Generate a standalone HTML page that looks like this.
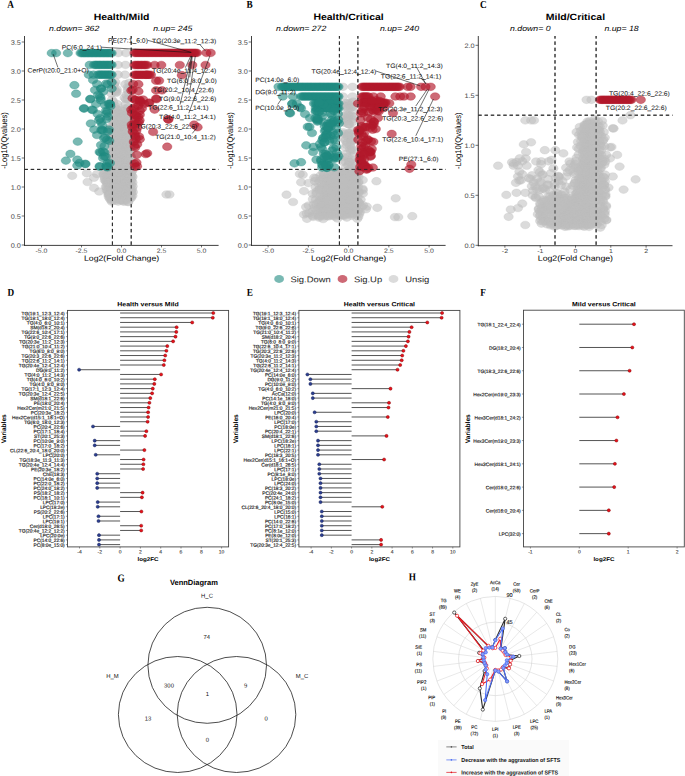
<!DOCTYPE html>
<html><head><meta charset="utf-8"><title>Figure</title>
<style>html,body{margin:0;padding:0;background:#fff;}svg{display:block;text-rendering:geometricPrecision;}</style>
</head><body>
<svg width="685" height="776" viewBox="0 0 685 776">
<rect width="685" height="776" fill="#fff"/>
<line x1="112.40" y1="36.00" x2="112.40" y2="245.00" stroke="#222" stroke-width="0.85" stroke-dasharray="3.4 2.85" stroke-dashoffset="0.8"/>
<line x1="131.20" y1="36.00" x2="131.20" y2="245.00" stroke="#222" stroke-width="0.85" stroke-dasharray="3.4 2.85" stroke-dashoffset="0.8"/>
<line x1="24.50" y1="169.40" x2="218.60" y2="169.40" stroke="#222" stroke-width="0.85" stroke-dasharray="3.4 2.85"/>
<line x1="339.40" y1="36.00" x2="339.40" y2="245.00" stroke="#222" stroke-width="0.85" stroke-dasharray="3.4 2.85" stroke-dashoffset="0.8"/>
<line x1="357.90" y1="36.00" x2="357.90" y2="245.00" stroke="#222" stroke-width="0.85" stroke-dasharray="3.4 2.85" stroke-dashoffset="0.8"/>
<line x1="251.50" y1="169.40" x2="445.60" y2="169.40" stroke="#222" stroke-width="0.85" stroke-dasharray="3.4 2.85"/>
<line x1="555.00" y1="36.00" x2="555.00" y2="245.30" stroke="#222" stroke-width="0.85" stroke-dasharray="3.4 2.85" stroke-dashoffset="0.8"/>
<line x1="596.10" y1="36.00" x2="596.10" y2="245.30" stroke="#222" stroke-width="0.85" stroke-dasharray="3.4 2.85" stroke-dashoffset="0.8"/>
<line x1="478.30" y1="115.20" x2="672.50" y2="115.20" stroke="#222" stroke-width="0.85" stroke-dasharray="3.4 2.85"/>
<g fill="#bdbdbd" fill-opacity="0.55" stroke="#bdbdbd" stroke-opacity="0.55" stroke-width="0.5">
<ellipse cx="118.3" cy="53.1" rx="4.7" ry="3.85"/>
<ellipse cx="125.9" cy="53.1" rx="4.7" ry="3.85"/>
<ellipse cx="118.0" cy="64.9" rx="4.7" ry="3.85"/>
<ellipse cx="125.5" cy="64.9" rx="4.7" ry="3.85"/>
<ellipse cx="118.0" cy="74.7" rx="4.7" ry="3.85"/>
<ellipse cx="125.0" cy="74.7" rx="4.7" ry="3.85"/>
<ellipse cx="72.2" cy="175.8" rx="4.7" ry="3.85"/>
<ellipse cx="86.8" cy="173.3" rx="4.7" ry="3.85"/>
<ellipse cx="87.5" cy="182.0" rx="4.7" ry="3.85"/>
<ellipse cx="94.0" cy="177.7" rx="4.7" ry="3.85"/>
<ellipse cx="94.0" cy="187.9" rx="4.7" ry="3.85"/>
<ellipse cx="99.2" cy="191.5" rx="4.7" ry="3.85"/>
<ellipse cx="97.0" cy="174.0" rx="4.7" ry="3.85"/>
<ellipse cx="166.4" cy="194.5" rx="4.7" ry="3.85"/>
<ellipse cx="169.5" cy="194.5" rx="4.7" ry="3.85"/>
<ellipse cx="111.2" cy="81.2" rx="4.7" ry="3.85"/>
<ellipse cx="114.0" cy="84.4" rx="4.7" ry="3.85"/>
<ellipse cx="115.4" cy="82.0" rx="4.7" ry="3.85"/>
<ellipse cx="113.8" cy="84.2" rx="4.7" ry="3.85"/>
<ellipse cx="114.3" cy="89.3" rx="4.7" ry="3.85"/>
<ellipse cx="116.8" cy="89.2" rx="4.7" ry="3.85"/>
<ellipse cx="115.6" cy="91.2" rx="4.7" ry="3.85"/>
<ellipse cx="116.9" cy="92.0" rx="4.7" ry="3.85"/>
<ellipse cx="111.4" cy="93.5" rx="4.7" ry="3.85"/>
<ellipse cx="115.9" cy="93.0" rx="4.7" ry="3.85"/>
<ellipse cx="112.0" cy="99.7" rx="4.7" ry="3.85"/>
<ellipse cx="113.3" cy="101.8" rx="4.7" ry="3.85"/>
<ellipse cx="117.4" cy="104.1" rx="4.7" ry="3.85"/>
<ellipse cx="111.3" cy="107.4" rx="4.7" ry="3.85"/>
<ellipse cx="115.3" cy="106.1" rx="4.7" ry="3.85"/>
<ellipse cx="115.2" cy="108.0" rx="4.7" ry="3.85"/>
<ellipse cx="117.1" cy="109.7" rx="4.7" ry="3.85"/>
<ellipse cx="113.7" cy="111.1" rx="4.7" ry="3.85"/>
<ellipse cx="112.0" cy="115.6" rx="4.7" ry="3.85"/>
<ellipse cx="113.7" cy="114.6" rx="4.7" ry="3.85"/>
<ellipse cx="116.7" cy="113.0" rx="4.7" ry="3.85"/>
<ellipse cx="112.5" cy="119.9" rx="4.7" ry="3.85"/>
<ellipse cx="113.7" cy="119.3" rx="4.7" ry="3.85"/>
<ellipse cx="118.6" cy="121.6" rx="4.7" ry="3.85"/>
<ellipse cx="125.3" cy="84.2" rx="4.7" ry="3.85"/>
<ellipse cx="129.2" cy="82.8" rx="4.7" ry="3.85"/>
<ellipse cx="127.6" cy="87.3" rx="4.7" ry="3.85"/>
<ellipse cx="129.1" cy="87.6" rx="4.7" ry="3.85"/>
<ellipse cx="127.6" cy="90.4" rx="4.7" ry="3.85"/>
<ellipse cx="126.4" cy="94.9" rx="4.7" ry="3.85"/>
<ellipse cx="128.6" cy="93.2" rx="4.7" ry="3.85"/>
<ellipse cx="124.5" cy="97.8" rx="4.7" ry="3.85"/>
<ellipse cx="125.9" cy="99.2" rx="4.7" ry="3.85"/>
<ellipse cx="127.7" cy="99.3" rx="4.7" ry="3.85"/>
<ellipse cx="125.4" cy="104.4" rx="4.7" ry="3.85"/>
<ellipse cx="128.1" cy="107.3" rx="4.7" ry="3.85"/>
<ellipse cx="125.0" cy="108.6" rx="4.7" ry="3.85"/>
<ellipse cx="127.3" cy="111.6" rx="4.7" ry="3.85"/>
<ellipse cx="126.7" cy="114.7" rx="4.7" ry="3.85"/>
<ellipse cx="123.5" cy="117.6" rx="4.7" ry="3.85"/>
<ellipse cx="127.7" cy="118.3" rx="4.7" ry="3.85"/>
<ellipse cx="126.4" cy="120.7" rx="4.7" ry="3.85"/>
<ellipse cx="114.6" cy="122.9" rx="4.7" ry="3.85"/>
<ellipse cx="124.1" cy="122.6" rx="4.7" ry="3.85"/>
<ellipse cx="125.3" cy="122.4" rx="4.7" ry="3.85"/>
<ellipse cx="127.6" cy="122.8" rx="4.7" ry="3.85"/>
<ellipse cx="113.8" cy="122.8" rx="4.7" ry="3.85"/>
<ellipse cx="115.5" cy="122.8" rx="4.7" ry="3.85"/>
<ellipse cx="118.2" cy="123.9" rx="4.7" ry="3.85"/>
<ellipse cx="121.3" cy="124.4" rx="4.7" ry="3.85"/>
<ellipse cx="121.7" cy="123.4" rx="4.7" ry="3.85"/>
<ellipse cx="125.4" cy="123.4" rx="4.7" ry="3.85"/>
<ellipse cx="127.0" cy="124.7" rx="4.7" ry="3.85"/>
<ellipse cx="129.0" cy="123.1" rx="4.7" ry="3.85"/>
<ellipse cx="111.3" cy="126.4" rx="4.7" ry="3.85"/>
<ellipse cx="115.3" cy="125.6" rx="4.7" ry="3.85"/>
<ellipse cx="116.9" cy="126.6" rx="4.7" ry="3.85"/>
<ellipse cx="118.3" cy="125.7" rx="4.7" ry="3.85"/>
<ellipse cx="120.6" cy="125.0" rx="4.7" ry="3.85"/>
<ellipse cx="123.1" cy="125.3" rx="4.7" ry="3.85"/>
<ellipse cx="126.5" cy="125.2" rx="4.7" ry="3.85"/>
<ellipse cx="127.6" cy="125.4" rx="4.7" ry="3.85"/>
<ellipse cx="111.0" cy="128.2" rx="4.7" ry="3.85"/>
<ellipse cx="113.4" cy="127.9" rx="4.7" ry="3.85"/>
<ellipse cx="115.3" cy="128.2" rx="4.7" ry="3.85"/>
<ellipse cx="118.2" cy="127.3" rx="4.7" ry="3.85"/>
<ellipse cx="119.3" cy="126.8" rx="4.7" ry="3.85"/>
<ellipse cx="123.0" cy="127.0" rx="4.7" ry="3.85"/>
<ellipse cx="124.0" cy="128.2" rx="4.7" ry="3.85"/>
<ellipse cx="127.5" cy="127.1" rx="4.7" ry="3.85"/>
<ellipse cx="129.0" cy="127.4" rx="4.7" ry="3.85"/>
<ellipse cx="112.0" cy="129.3" rx="4.7" ry="3.85"/>
<ellipse cx="113.9" cy="129.4" rx="4.7" ry="3.85"/>
<ellipse cx="116.3" cy="128.5" rx="4.7" ry="3.85"/>
<ellipse cx="118.2" cy="128.4" rx="4.7" ry="3.85"/>
<ellipse cx="120.8" cy="129.5" rx="4.7" ry="3.85"/>
<ellipse cx="124.2" cy="129.7" rx="4.7" ry="3.85"/>
<ellipse cx="126.8" cy="129.1" rx="4.7" ry="3.85"/>
<ellipse cx="129.3" cy="128.6" rx="4.7" ry="3.85"/>
<ellipse cx="111.7" cy="131.8" rx="4.7" ry="3.85"/>
<ellipse cx="113.5" cy="132.0" rx="4.7" ry="3.85"/>
<ellipse cx="116.1" cy="130.6" rx="4.7" ry="3.85"/>
<ellipse cx="117.2" cy="130.9" rx="4.7" ry="3.85"/>
<ellipse cx="120.9" cy="131.3" rx="4.7" ry="3.85"/>
<ellipse cx="122.8" cy="131.6" rx="4.7" ry="3.85"/>
<ellipse cx="123.8" cy="131.8" rx="4.7" ry="3.85"/>
<ellipse cx="127.2" cy="131.3" rx="4.7" ry="3.85"/>
<ellipse cx="128.6" cy="131.7" rx="4.7" ry="3.85"/>
<ellipse cx="112.8" cy="133.3" rx="4.7" ry="3.85"/>
<ellipse cx="113.6" cy="132.3" rx="4.7" ry="3.85"/>
<ellipse cx="117.3" cy="132.6" rx="4.7" ry="3.85"/>
<ellipse cx="118.1" cy="132.1" rx="4.7" ry="3.85"/>
<ellipse cx="121.8" cy="133.4" rx="4.7" ry="3.85"/>
<ellipse cx="123.3" cy="133.1" rx="4.7" ry="3.85"/>
<ellipse cx="125.9" cy="132.3" rx="4.7" ry="3.85"/>
<ellipse cx="127.7" cy="134.0" rx="4.7" ry="3.85"/>
<ellipse cx="129.6" cy="133.0" rx="4.7" ry="3.85"/>
<ellipse cx="111.1" cy="135.8" rx="4.7" ry="3.85"/>
<ellipse cx="114.0" cy="134.9" rx="4.7" ry="3.85"/>
<ellipse cx="116.1" cy="134.3" rx="4.7" ry="3.85"/>
<ellipse cx="117.9" cy="133.9" rx="4.7" ry="3.85"/>
<ellipse cx="120.2" cy="134.8" rx="4.7" ry="3.85"/>
<ellipse cx="121.8" cy="134.6" rx="4.7" ry="3.85"/>
<ellipse cx="125.6" cy="133.8" rx="4.7" ry="3.85"/>
<ellipse cx="127.9" cy="134.1" rx="4.7" ry="3.85"/>
<ellipse cx="129.9" cy="135.7" rx="4.7" ry="3.85"/>
<ellipse cx="111.8" cy="137.6" rx="4.7" ry="3.85"/>
<ellipse cx="114.0" cy="136.7" rx="4.7" ry="3.85"/>
<ellipse cx="116.5" cy="137.7" rx="4.7" ry="3.85"/>
<ellipse cx="119.7" cy="137.0" rx="4.7" ry="3.85"/>
<ellipse cx="122.3" cy="136.8" rx="4.7" ry="3.85"/>
<ellipse cx="122.8" cy="137.2" rx="4.7" ry="3.85"/>
<ellipse cx="126.5" cy="137.0" rx="4.7" ry="3.85"/>
<ellipse cx="127.4" cy="137.6" rx="4.7" ry="3.85"/>
<ellipse cx="112.7" cy="139.4" rx="4.7" ry="3.85"/>
<ellipse cx="115.1" cy="139.4" rx="4.7" ry="3.85"/>
<ellipse cx="117.8" cy="137.8" rx="4.7" ry="3.85"/>
<ellipse cx="119.4" cy="138.2" rx="4.7" ry="3.85"/>
<ellipse cx="122.0" cy="138.1" rx="4.7" ry="3.85"/>
<ellipse cx="125.7" cy="139.1" rx="4.7" ry="3.85"/>
<ellipse cx="127.0" cy="138.6" rx="4.7" ry="3.85"/>
<ellipse cx="129.1" cy="137.7" rx="4.7" ry="3.85"/>
<ellipse cx="113.1" cy="141.1" rx="4.7" ry="3.85"/>
<ellipse cx="113.5" cy="139.4" rx="4.7" ry="3.85"/>
<ellipse cx="117.6" cy="140.3" rx="4.7" ry="3.85"/>
<ellipse cx="118.1" cy="140.2" rx="4.7" ry="3.85"/>
<ellipse cx="122.1" cy="141.1" rx="4.7" ry="3.85"/>
<ellipse cx="123.2" cy="139.6" rx="4.7" ry="3.85"/>
<ellipse cx="126.0" cy="140.8" rx="4.7" ry="3.85"/>
<ellipse cx="128.8" cy="140.7" rx="4.7" ry="3.85"/>
<ellipse cx="130.5" cy="140.5" rx="4.7" ry="3.85"/>
<ellipse cx="111.5" cy="141.4" rx="4.7" ry="3.85"/>
<ellipse cx="113.4" cy="142.4" rx="4.7" ry="3.85"/>
<ellipse cx="115.1" cy="142.4" rx="4.7" ry="3.85"/>
<ellipse cx="117.5" cy="142.2" rx="4.7" ry="3.85"/>
<ellipse cx="120.5" cy="143.0" rx="4.7" ry="3.85"/>
<ellipse cx="122.0" cy="141.7" rx="4.7" ry="3.85"/>
<ellipse cx="125.3" cy="141.8" rx="4.7" ry="3.85"/>
<ellipse cx="127.1" cy="142.6" rx="4.7" ry="3.85"/>
<ellipse cx="128.9" cy="142.6" rx="4.7" ry="3.85"/>
<ellipse cx="113.2" cy="143.7" rx="4.7" ry="3.85"/>
<ellipse cx="113.9" cy="143.5" rx="4.7" ry="3.85"/>
<ellipse cx="116.4" cy="145.0" rx="4.7" ry="3.85"/>
<ellipse cx="118.5" cy="143.5" rx="4.7" ry="3.85"/>
<ellipse cx="121.7" cy="145.0" rx="4.7" ry="3.85"/>
<ellipse cx="123.5" cy="143.5" rx="4.7" ry="3.85"/>
<ellipse cx="125.3" cy="143.2" rx="4.7" ry="3.85"/>
<ellipse cx="128.1" cy="144.9" rx="4.7" ry="3.85"/>
<ellipse cx="112.7" cy="144.9" rx="4.7" ry="3.85"/>
<ellipse cx="115.3" cy="146.9" rx="4.7" ry="3.85"/>
<ellipse cx="118.9" cy="145.3" rx="4.7" ry="3.85"/>
<ellipse cx="120.9" cy="146.6" rx="4.7" ry="3.85"/>
<ellipse cx="121.6" cy="145.9" rx="4.7" ry="3.85"/>
<ellipse cx="125.7" cy="145.3" rx="4.7" ry="3.85"/>
<ellipse cx="128.0" cy="144.9" rx="4.7" ry="3.85"/>
<ellipse cx="130.1" cy="146.5" rx="4.7" ry="3.85"/>
<ellipse cx="130.8" cy="145.0" rx="4.7" ry="3.85"/>
<ellipse cx="112.6" cy="147.4" rx="4.7" ry="3.85"/>
<ellipse cx="113.5" cy="148.3" rx="4.7" ry="3.85"/>
<ellipse cx="117.1" cy="148.7" rx="4.7" ry="3.85"/>
<ellipse cx="118.5" cy="147.7" rx="4.7" ry="3.85"/>
<ellipse cx="122.3" cy="147.5" rx="4.7" ry="3.85"/>
<ellipse cx="123.6" cy="147.7" rx="4.7" ry="3.85"/>
<ellipse cx="125.3" cy="148.4" rx="4.7" ry="3.85"/>
<ellipse cx="129.0" cy="148.3" rx="4.7" ry="3.85"/>
<ellipse cx="130.2" cy="147.4" rx="4.7" ry="3.85"/>
<ellipse cx="114.1" cy="150.6" rx="4.7" ry="3.85"/>
<ellipse cx="114.8" cy="148.8" rx="4.7" ry="3.85"/>
<ellipse cx="118.4" cy="149.5" rx="4.7" ry="3.85"/>
<ellipse cx="120.1" cy="149.8" rx="4.7" ry="3.85"/>
<ellipse cx="123.1" cy="150.3" rx="4.7" ry="3.85"/>
<ellipse cx="124.1" cy="150.3" rx="4.7" ry="3.85"/>
<ellipse cx="127.3" cy="149.3" rx="4.7" ry="3.85"/>
<ellipse cx="128.8" cy="149.1" rx="4.7" ry="3.85"/>
<ellipse cx="131.0" cy="150.4" rx="4.7" ry="3.85"/>
<ellipse cx="111.4" cy="151.4" rx="4.7" ry="3.85"/>
<ellipse cx="115.2" cy="152.3" rx="4.7" ry="3.85"/>
<ellipse cx="116.4" cy="150.7" rx="4.7" ry="3.85"/>
<ellipse cx="120.1" cy="151.6" rx="4.7" ry="3.85"/>
<ellipse cx="121.1" cy="152.2" rx="4.7" ry="3.85"/>
<ellipse cx="123.2" cy="152.0" rx="4.7" ry="3.85"/>
<ellipse cx="125.2" cy="151.6" rx="4.7" ry="3.85"/>
<ellipse cx="127.7" cy="151.2" rx="4.7" ry="3.85"/>
<ellipse cx="130.0" cy="150.9" rx="4.7" ry="3.85"/>
<ellipse cx="111.7" cy="153.4" rx="4.7" ry="3.85"/>
<ellipse cx="112.5" cy="153.1" rx="4.7" ry="3.85"/>
<ellipse cx="115.9" cy="152.4" rx="4.7" ry="3.85"/>
<ellipse cx="118.4" cy="153.1" rx="4.7" ry="3.85"/>
<ellipse cx="119.9" cy="154.2" rx="4.7" ry="3.85"/>
<ellipse cx="122.7" cy="153.0" rx="4.7" ry="3.85"/>
<ellipse cx="125.6" cy="154.3" rx="4.7" ry="3.85"/>
<ellipse cx="126.5" cy="153.8" rx="4.7" ry="3.85"/>
<ellipse cx="128.4" cy="154.1" rx="4.7" ry="3.85"/>
<ellipse cx="112.5" cy="154.9" rx="4.7" ry="3.85"/>
<ellipse cx="113.8" cy="154.7" rx="4.7" ry="3.85"/>
<ellipse cx="117.7" cy="154.3" rx="4.7" ry="3.85"/>
<ellipse cx="119.7" cy="156.1" rx="4.7" ry="3.85"/>
<ellipse cx="120.6" cy="156.0" rx="4.7" ry="3.85"/>
<ellipse cx="123.7" cy="154.2" rx="4.7" ry="3.85"/>
<ellipse cx="125.8" cy="156.0" rx="4.7" ry="3.85"/>
<ellipse cx="129.0" cy="154.4" rx="4.7" ry="3.85"/>
<ellipse cx="130.0" cy="154.9" rx="4.7" ry="3.85"/>
<ellipse cx="111.5" cy="157.8" rx="4.7" ry="3.85"/>
<ellipse cx="113.5" cy="157.5" rx="4.7" ry="3.85"/>
<ellipse cx="116.4" cy="156.2" rx="4.7" ry="3.85"/>
<ellipse cx="118.1" cy="157.2" rx="4.7" ry="3.85"/>
<ellipse cx="120.1" cy="157.1" rx="4.7" ry="3.85"/>
<ellipse cx="122.9" cy="156.8" rx="4.7" ry="3.85"/>
<ellipse cx="123.9" cy="157.2" rx="4.7" ry="3.85"/>
<ellipse cx="126.6" cy="157.5" rx="4.7" ry="3.85"/>
<ellipse cx="129.4" cy="156.3" rx="4.7" ry="3.85"/>
<ellipse cx="130.9" cy="156.2" rx="4.7" ry="3.85"/>
<ellipse cx="112.2" cy="157.9" rx="4.7" ry="3.85"/>
<ellipse cx="114.2" cy="159.7" rx="4.7" ry="3.85"/>
<ellipse cx="117.5" cy="159.8" rx="4.7" ry="3.85"/>
<ellipse cx="119.8" cy="158.2" rx="4.7" ry="3.85"/>
<ellipse cx="121.4" cy="159.7" rx="4.7" ry="3.85"/>
<ellipse cx="123.0" cy="159.4" rx="4.7" ry="3.85"/>
<ellipse cx="125.1" cy="158.5" rx="4.7" ry="3.85"/>
<ellipse cx="127.6" cy="159.6" rx="4.7" ry="3.85"/>
<ellipse cx="131.3" cy="158.1" rx="4.7" ry="3.85"/>
<ellipse cx="112.0" cy="161.0" rx="4.7" ry="3.85"/>
<ellipse cx="112.7" cy="161.2" rx="4.7" ry="3.85"/>
<ellipse cx="115.7" cy="160.9" rx="4.7" ry="3.85"/>
<ellipse cx="118.7" cy="160.8" rx="4.7" ry="3.85"/>
<ellipse cx="121.0" cy="159.8" rx="4.7" ry="3.85"/>
<ellipse cx="122.8" cy="160.4" rx="4.7" ry="3.85"/>
<ellipse cx="124.4" cy="161.7" rx="4.7" ry="3.85"/>
<ellipse cx="126.9" cy="161.2" rx="4.7" ry="3.85"/>
<ellipse cx="128.8" cy="161.1" rx="4.7" ry="3.85"/>
<ellipse cx="112.4" cy="162.3" rx="4.7" ry="3.85"/>
<ellipse cx="115.3" cy="161.7" rx="4.7" ry="3.85"/>
<ellipse cx="117.1" cy="161.5" rx="4.7" ry="3.85"/>
<ellipse cx="118.8" cy="161.7" rx="4.7" ry="3.85"/>
<ellipse cx="120.8" cy="162.7" rx="4.7" ry="3.85"/>
<ellipse cx="123.1" cy="162.7" rx="4.7" ry="3.85"/>
<ellipse cx="125.2" cy="163.4" rx="4.7" ry="3.85"/>
<ellipse cx="127.6" cy="161.6" rx="4.7" ry="3.85"/>
<ellipse cx="131.4" cy="163.1" rx="4.7" ry="3.85"/>
<ellipse cx="111.5" cy="163.8" rx="4.7" ry="3.85"/>
<ellipse cx="112.4" cy="164.4" rx="4.7" ry="3.85"/>
<ellipse cx="115.1" cy="163.4" rx="4.7" ry="3.85"/>
<ellipse cx="116.9" cy="164.4" rx="4.7" ry="3.85"/>
<ellipse cx="119.5" cy="163.7" rx="4.7" ry="3.85"/>
<ellipse cx="122.6" cy="164.6" rx="4.7" ry="3.85"/>
<ellipse cx="124.2" cy="163.9" rx="4.7" ry="3.85"/>
<ellipse cx="126.2" cy="165.1" rx="4.7" ry="3.85"/>
<ellipse cx="129.9" cy="163.3" rx="4.7" ry="3.85"/>
<ellipse cx="132.3" cy="164.2" rx="4.7" ry="3.85"/>
<ellipse cx="112.9" cy="166.6" rx="4.7" ry="3.85"/>
<ellipse cx="114.6" cy="166.0" rx="4.7" ry="3.85"/>
<ellipse cx="116.8" cy="165.7" rx="4.7" ry="3.85"/>
<ellipse cx="120.1" cy="165.6" rx="4.7" ry="3.85"/>
<ellipse cx="120.4" cy="165.7" rx="4.7" ry="3.85"/>
<ellipse cx="124.2" cy="167.1" rx="4.7" ry="3.85"/>
<ellipse cx="125.6" cy="166.9" rx="4.7" ry="3.85"/>
<ellipse cx="127.8" cy="167.0" rx="4.7" ry="3.85"/>
<ellipse cx="131.0" cy="166.5" rx="4.7" ry="3.85"/>
<ellipse cx="112.5" cy="168.9" rx="4.7" ry="3.85"/>
<ellipse cx="114.7" cy="167.2" rx="4.7" ry="3.85"/>
<ellipse cx="117.6" cy="167.3" rx="4.7" ry="3.85"/>
<ellipse cx="119.3" cy="168.4" rx="4.7" ry="3.85"/>
<ellipse cx="123.0" cy="168.5" rx="4.7" ry="3.85"/>
<ellipse cx="125.0" cy="167.7" rx="4.7" ry="3.85"/>
<ellipse cx="127.8" cy="168.8" rx="4.7" ry="3.85"/>
<ellipse cx="130.2" cy="168.9" rx="4.7" ry="3.85"/>
<ellipse cx="130.9" cy="167.4" rx="4.7" ry="3.85"/>
<ellipse cx="108.3" cy="170.1" rx="4.7" ry="3.85"/>
<ellipse cx="112.7" cy="169.2" rx="4.7" ry="3.85"/>
<ellipse cx="114.3" cy="168.8" rx="4.7" ry="3.85"/>
<ellipse cx="116.3" cy="170.3" rx="4.7" ry="3.85"/>
<ellipse cx="118.7" cy="170.8" rx="4.7" ry="3.85"/>
<ellipse cx="122.1" cy="170.1" rx="4.7" ry="3.85"/>
<ellipse cx="123.5" cy="169.7" rx="4.7" ry="3.85"/>
<ellipse cx="125.7" cy="170.3" rx="4.7" ry="3.85"/>
<ellipse cx="127.7" cy="170.6" rx="4.7" ry="3.85"/>
<ellipse cx="131.3" cy="169.2" rx="4.7" ry="3.85"/>
<ellipse cx="132.3" cy="170.4" rx="4.7" ry="3.85"/>
<ellipse cx="106.4" cy="172.3" rx="4.7" ry="3.85"/>
<ellipse cx="108.7" cy="171.4" rx="4.7" ry="3.85"/>
<ellipse cx="110.6" cy="172.6" rx="4.7" ry="3.85"/>
<ellipse cx="112.8" cy="172.1" rx="4.7" ry="3.85"/>
<ellipse cx="114.8" cy="172.0" rx="4.7" ry="3.85"/>
<ellipse cx="118.5" cy="172.1" rx="4.7" ry="3.85"/>
<ellipse cx="120.5" cy="171.4" rx="4.7" ry="3.85"/>
<ellipse cx="122.3" cy="172.5" rx="4.7" ry="3.85"/>
<ellipse cx="125.7" cy="170.7" rx="4.7" ry="3.85"/>
<ellipse cx="126.7" cy="172.5" rx="4.7" ry="3.85"/>
<ellipse cx="129.2" cy="172.5" rx="4.7" ry="3.85"/>
<ellipse cx="131.7" cy="171.7" rx="4.7" ry="3.85"/>
<ellipse cx="103.5" cy="173.8" rx="4.7" ry="3.85"/>
<ellipse cx="104.9" cy="172.8" rx="4.7" ry="3.85"/>
<ellipse cx="107.9" cy="174.0" rx="4.7" ry="3.85"/>
<ellipse cx="109.8" cy="174.1" rx="4.7" ry="3.85"/>
<ellipse cx="111.4" cy="173.4" rx="4.7" ry="3.85"/>
<ellipse cx="114.0" cy="172.9" rx="4.7" ry="3.85"/>
<ellipse cx="117.2" cy="174.2" rx="4.7" ry="3.85"/>
<ellipse cx="118.4" cy="173.0" rx="4.7" ry="3.85"/>
<ellipse cx="121.4" cy="172.8" rx="4.7" ry="3.85"/>
<ellipse cx="123.1" cy="174.5" rx="4.7" ry="3.85"/>
<ellipse cx="125.2" cy="174.5" rx="4.7" ry="3.85"/>
<ellipse cx="128.1" cy="174.5" rx="4.7" ry="3.85"/>
<ellipse cx="131.1" cy="173.4" rx="4.7" ry="3.85"/>
<ellipse cx="103.5" cy="175.1" rx="4.7" ry="3.85"/>
<ellipse cx="106.2" cy="176.0" rx="4.7" ry="3.85"/>
<ellipse cx="108.8" cy="175.6" rx="4.7" ry="3.85"/>
<ellipse cx="110.3" cy="175.6" rx="4.7" ry="3.85"/>
<ellipse cx="113.8" cy="176.2" rx="4.7" ry="3.85"/>
<ellipse cx="115.8" cy="175.9" rx="4.7" ry="3.85"/>
<ellipse cx="117.4" cy="175.8" rx="4.7" ry="3.85"/>
<ellipse cx="120.8" cy="175.8" rx="4.7" ry="3.85"/>
<ellipse cx="122.9" cy="175.7" rx="4.7" ry="3.85"/>
<ellipse cx="124.5" cy="175.6" rx="4.7" ry="3.85"/>
<ellipse cx="127.0" cy="175.9" rx="4.7" ry="3.85"/>
<ellipse cx="129.7" cy="174.8" rx="4.7" ry="3.85"/>
<ellipse cx="131.7" cy="175.6" rx="4.7" ry="3.85"/>
<ellipse cx="104.6" cy="177.5" rx="4.7" ry="3.85"/>
<ellipse cx="107.4" cy="177.2" rx="4.7" ry="3.85"/>
<ellipse cx="108.9" cy="177.3" rx="4.7" ry="3.85"/>
<ellipse cx="112.8" cy="178.1" rx="4.7" ry="3.85"/>
<ellipse cx="113.7" cy="177.4" rx="4.7" ry="3.85"/>
<ellipse cx="117.2" cy="177.2" rx="4.7" ry="3.85"/>
<ellipse cx="119.8" cy="177.2" rx="4.7" ry="3.85"/>
<ellipse cx="122.3" cy="176.6" rx="4.7" ry="3.85"/>
<ellipse cx="123.5" cy="177.7" rx="4.7" ry="3.85"/>
<ellipse cx="127.0" cy="176.9" rx="4.7" ry="3.85"/>
<ellipse cx="127.8" cy="177.0" rx="4.7" ry="3.85"/>
<ellipse cx="130.4" cy="177.0" rx="4.7" ry="3.85"/>
<ellipse cx="132.6" cy="176.7" rx="4.7" ry="3.85"/>
<ellipse cx="104.6" cy="180.0" rx="4.7" ry="3.85"/>
<ellipse cx="105.9" cy="179.7" rx="4.7" ry="3.85"/>
<ellipse cx="108.2" cy="178.3" rx="4.7" ry="3.85"/>
<ellipse cx="111.7" cy="179.3" rx="4.7" ry="3.85"/>
<ellipse cx="113.5" cy="178.5" rx="4.7" ry="3.85"/>
<ellipse cx="115.3" cy="179.3" rx="4.7" ry="3.85"/>
<ellipse cx="118.6" cy="179.0" rx="4.7" ry="3.85"/>
<ellipse cx="120.3" cy="178.3" rx="4.7" ry="3.85"/>
<ellipse cx="122.2" cy="179.8" rx="4.7" ry="3.85"/>
<ellipse cx="124.6" cy="178.5" rx="4.7" ry="3.85"/>
<ellipse cx="126.5" cy="178.0" rx="4.7" ry="3.85"/>
<ellipse cx="129.0" cy="178.5" rx="4.7" ry="3.85"/>
<ellipse cx="131.7" cy="178.9" rx="4.7" ry="3.85"/>
<ellipse cx="106.2" cy="181.6" rx="4.7" ry="3.85"/>
<ellipse cx="108.3" cy="181.7" rx="4.7" ry="3.85"/>
<ellipse cx="109.2" cy="181.6" rx="4.7" ry="3.85"/>
<ellipse cx="111.2" cy="179.9" rx="4.7" ry="3.85"/>
<ellipse cx="114.8" cy="180.4" rx="4.7" ry="3.85"/>
<ellipse cx="116.1" cy="180.3" rx="4.7" ry="3.85"/>
<ellipse cx="118.8" cy="180.2" rx="4.7" ry="3.85"/>
<ellipse cx="122.0" cy="180.2" rx="4.7" ry="3.85"/>
<ellipse cx="123.9" cy="181.5" rx="4.7" ry="3.85"/>
<ellipse cx="126.8" cy="181.5" rx="4.7" ry="3.85"/>
<ellipse cx="127.7" cy="181.3" rx="4.7" ry="3.85"/>
<ellipse cx="131.1" cy="180.8" rx="4.7" ry="3.85"/>
<ellipse cx="106.4" cy="181.8" rx="4.7" ry="3.85"/>
<ellipse cx="108.0" cy="182.7" rx="4.7" ry="3.85"/>
<ellipse cx="111.1" cy="183.5" rx="4.7" ry="3.85"/>
<ellipse cx="114.1" cy="182.7" rx="4.7" ry="3.85"/>
<ellipse cx="116.0" cy="183.4" rx="4.7" ry="3.85"/>
<ellipse cx="117.8" cy="183.7" rx="4.7" ry="3.85"/>
<ellipse cx="120.5" cy="183.0" rx="4.7" ry="3.85"/>
<ellipse cx="122.8" cy="183.1" rx="4.7" ry="3.85"/>
<ellipse cx="124.5" cy="183.7" rx="4.7" ry="3.85"/>
<ellipse cx="127.1" cy="183.5" rx="4.7" ry="3.85"/>
<ellipse cx="129.9" cy="183.0" rx="4.7" ry="3.85"/>
<ellipse cx="132.5" cy="182.4" rx="4.7" ry="3.85"/>
<ellipse cx="107.4" cy="184.7" rx="4.7" ry="3.85"/>
<ellipse cx="109.5" cy="185.2" rx="4.7" ry="3.85"/>
<ellipse cx="112.2" cy="184.1" rx="4.7" ry="3.85"/>
<ellipse cx="115.5" cy="184.9" rx="4.7" ry="3.85"/>
<ellipse cx="116.4" cy="184.2" rx="4.7" ry="3.85"/>
<ellipse cx="119.3" cy="184.8" rx="4.7" ry="3.85"/>
<ellipse cx="120.4" cy="185.0" rx="4.7" ry="3.85"/>
<ellipse cx="123.8" cy="183.6" rx="4.7" ry="3.85"/>
<ellipse cx="125.0" cy="183.9" rx="4.7" ry="3.85"/>
<ellipse cx="128.5" cy="184.9" rx="4.7" ry="3.85"/>
<ellipse cx="131.4" cy="184.8" rx="4.7" ry="3.85"/>
<ellipse cx="105.9" cy="186.7" rx="4.7" ry="3.85"/>
<ellipse cx="109.3" cy="185.6" rx="4.7" ry="3.85"/>
<ellipse cx="110.1" cy="187.0" rx="4.7" ry="3.85"/>
<ellipse cx="113.7" cy="186.1" rx="4.7" ry="3.85"/>
<ellipse cx="116.2" cy="186.5" rx="4.7" ry="3.85"/>
<ellipse cx="117.5" cy="186.2" rx="4.7" ry="3.85"/>
<ellipse cx="120.1" cy="186.7" rx="4.7" ry="3.85"/>
<ellipse cx="121.6" cy="186.5" rx="4.7" ry="3.85"/>
<ellipse cx="124.1" cy="187.0" rx="4.7" ry="3.85"/>
<ellipse cx="128.0" cy="186.3" rx="4.7" ry="3.85"/>
<ellipse cx="129.2" cy="186.6" rx="4.7" ry="3.85"/>
<ellipse cx="132.7" cy="186.3" rx="4.7" ry="3.85"/>
<ellipse cx="106.6" cy="187.2" rx="4.7" ry="3.85"/>
<ellipse cx="109.1" cy="189.2" rx="4.7" ry="3.85"/>
<ellipse cx="113.0" cy="187.5" rx="4.7" ry="3.85"/>
<ellipse cx="115.0" cy="187.7" rx="4.7" ry="3.85"/>
<ellipse cx="116.2" cy="187.3" rx="4.7" ry="3.85"/>
<ellipse cx="119.5" cy="189.0" rx="4.7" ry="3.85"/>
<ellipse cx="120.5" cy="188.5" rx="4.7" ry="3.85"/>
<ellipse cx="123.6" cy="189.1" rx="4.7" ry="3.85"/>
<ellipse cx="127.0" cy="188.7" rx="4.7" ry="3.85"/>
<ellipse cx="127.3" cy="188.6" rx="4.7" ry="3.85"/>
<ellipse cx="129.7" cy="187.8" rx="4.7" ry="3.85"/>
<ellipse cx="132.2" cy="189.0" rx="4.7" ry="3.85"/>
<ellipse cx="106.6" cy="190.0" rx="4.7" ry="3.85"/>
<ellipse cx="108.0" cy="190.7" rx="4.7" ry="3.85"/>
<ellipse cx="111.3" cy="190.3" rx="4.7" ry="3.85"/>
<ellipse cx="113.1" cy="190.7" rx="4.7" ry="3.85"/>
<ellipse cx="116.2" cy="190.2" rx="4.7" ry="3.85"/>
<ellipse cx="117.0" cy="191.1" rx="4.7" ry="3.85"/>
<ellipse cx="120.9" cy="189.7" rx="4.7" ry="3.85"/>
<ellipse cx="123.5" cy="190.8" rx="4.7" ry="3.85"/>
<ellipse cx="124.5" cy="189.9" rx="4.7" ry="3.85"/>
<ellipse cx="126.9" cy="190.5" rx="4.7" ry="3.85"/>
<ellipse cx="130.3" cy="190.7" rx="4.7" ry="3.85"/>
<ellipse cx="130.7" cy="189.6" rx="4.7" ry="3.85"/>
<ellipse cx="108.3" cy="192.6" rx="4.7" ry="3.85"/>
<ellipse cx="110.0" cy="191.5" rx="4.7" ry="3.85"/>
<ellipse cx="112.8" cy="192.3" rx="4.7" ry="3.85"/>
<ellipse cx="114.2" cy="191.1" rx="4.7" ry="3.85"/>
<ellipse cx="117.4" cy="191.3" rx="4.7" ry="3.85"/>
<ellipse cx="120.0" cy="191.4" rx="4.7" ry="3.85"/>
<ellipse cx="121.8" cy="191.8" rx="4.7" ry="3.85"/>
<ellipse cx="123.2" cy="192.4" rx="4.7" ry="3.85"/>
<ellipse cx="125.9" cy="191.1" rx="4.7" ry="3.85"/>
<ellipse cx="128.9" cy="191.4" rx="4.7" ry="3.85"/>
<ellipse cx="131.4" cy="192.7" rx="4.7" ry="3.85"/>
<ellipse cx="132.9" cy="192.1" rx="4.7" ry="3.85"/>
<ellipse cx="108.9" cy="193.6" rx="4.7" ry="3.85"/>
<ellipse cx="110.3" cy="192.8" rx="4.7" ry="3.85"/>
<ellipse cx="113.1" cy="192.9" rx="4.7" ry="3.85"/>
<ellipse cx="116.2" cy="193.0" rx="4.7" ry="3.85"/>
<ellipse cx="117.6" cy="193.8" rx="4.7" ry="3.85"/>
<ellipse cx="119.3" cy="194.8" rx="4.7" ry="3.85"/>
<ellipse cx="122.5" cy="193.9" rx="4.7" ry="3.85"/>
<ellipse cx="125.4" cy="193.6" rx="4.7" ry="3.85"/>
<ellipse cx="127.7" cy="194.4" rx="4.7" ry="3.85"/>
<ellipse cx="128.9" cy="192.8" rx="4.7" ry="3.85"/>
<ellipse cx="131.1" cy="192.9" rx="4.7" ry="3.85"/>
<ellipse cx="108.4" cy="194.7" rx="4.7" ry="3.85"/>
<ellipse cx="109.7" cy="194.8" rx="4.7" ry="3.85"/>
<ellipse cx="111.7" cy="195.7" rx="4.7" ry="3.85"/>
<ellipse cx="115.4" cy="196.0" rx="4.7" ry="3.85"/>
<ellipse cx="116.7" cy="194.9" rx="4.7" ry="3.85"/>
<ellipse cx="120.1" cy="195.0" rx="4.7" ry="3.85"/>
<ellipse cx="120.9" cy="195.3" rx="4.7" ry="3.85"/>
<ellipse cx="124.5" cy="196.3" rx="4.7" ry="3.85"/>
<ellipse cx="126.6" cy="196.0" rx="4.7" ry="3.85"/>
<ellipse cx="129.3" cy="194.7" rx="4.7" ry="3.85"/>
<ellipse cx="131.1" cy="196.5" rx="4.7" ry="3.85"/>
<ellipse cx="132.5" cy="195.8" rx="4.7" ry="3.85"/>
<ellipse cx="108.7" cy="196.8" rx="4.7" ry="3.85"/>
<ellipse cx="110.3" cy="197.8" rx="4.7" ry="3.85"/>
<ellipse cx="113.8" cy="196.8" rx="4.7" ry="3.85"/>
<ellipse cx="116.5" cy="196.9" rx="4.7" ry="3.85"/>
<ellipse cx="118.7" cy="198.2" rx="4.7" ry="3.85"/>
<ellipse cx="120.1" cy="196.6" rx="4.7" ry="3.85"/>
<ellipse cx="123.3" cy="197.7" rx="4.7" ry="3.85"/>
<ellipse cx="124.5" cy="198.1" rx="4.7" ry="3.85"/>
<ellipse cx="127.4" cy="196.7" rx="4.7" ry="3.85"/>
<ellipse cx="128.5" cy="197.9" rx="4.7" ry="3.85"/>
<ellipse cx="131.0" cy="198.2" rx="4.7" ry="3.85"/>
<ellipse cx="109.9" cy="198.9" rx="4.7" ry="3.85"/>
<ellipse cx="111.4" cy="200.3" rx="4.7" ry="3.85"/>
<ellipse cx="115.3" cy="199.6" rx="4.7" ry="3.85"/>
<ellipse cx="116.8" cy="198.8" rx="4.7" ry="3.85"/>
<ellipse cx="118.5" cy="199.0" rx="4.7" ry="3.85"/>
<ellipse cx="122.4" cy="200.2" rx="4.7" ry="3.85"/>
<ellipse cx="123.3" cy="200.1" rx="4.7" ry="3.85"/>
<ellipse cx="126.5" cy="198.9" rx="4.7" ry="3.85"/>
<ellipse cx="127.3" cy="199.9" rx="4.7" ry="3.85"/>
<ellipse cx="129.9" cy="198.2" rx="4.7" ry="3.85"/>
<ellipse cx="111.6" cy="201.6" rx="4.7" ry="3.85"/>
<ellipse cx="112.5" cy="200.3" rx="4.7" ry="3.85"/>
<ellipse cx="115.6" cy="200.7" rx="4.7" ry="3.85"/>
<ellipse cx="118.2" cy="201.6" rx="4.7" ry="3.85"/>
<ellipse cx="120.4" cy="200.5" rx="4.7" ry="3.85"/>
<ellipse cx="123.0" cy="200.9" rx="4.7" ry="3.85"/>
<ellipse cx="123.9" cy="201.8" rx="4.7" ry="3.85"/>
<ellipse cx="127.9" cy="201.9" rx="4.7" ry="3.85"/>
<ellipse cx="128.4" cy="202.0" rx="4.7" ry="3.85"/>
<ellipse cx="120.7" cy="110.3" rx="4.7" ry="3.85"/>
<ellipse cx="117.1" cy="113.3" rx="4.7" ry="3.85"/>
<ellipse cx="119.0" cy="113.0" rx="4.7" ry="3.85"/>
<ellipse cx="123.2" cy="111.2" rx="4.7" ry="3.85"/>
<ellipse cx="118.1" cy="113.5" rx="4.7" ry="3.85"/>
<ellipse cx="120.3" cy="113.9" rx="4.7" ry="3.85"/>
<ellipse cx="123.3" cy="115.7" rx="4.7" ry="3.85"/>
<ellipse cx="119.8" cy="117.4" rx="4.7" ry="3.85"/>
<ellipse cx="123.0" cy="116.1" rx="4.7" ry="3.85"/>
<ellipse cx="118.0" cy="119.0" rx="4.7" ry="3.85"/>
<ellipse cx="120.7" cy="118.6" rx="4.7" ry="3.85"/>
<ellipse cx="125.0" cy="118.6" rx="4.7" ry="3.85"/>
</g>
<g fill="#1f8a80" fill-opacity="0.6" stroke="#1f8a80" stroke-opacity="0.6" stroke-width="0.5">
<ellipse cx="80.5" cy="53.1" rx="4.7" ry="3.85"/>
<ellipse cx="81.9" cy="53.1" rx="4.7" ry="3.85"/>
<ellipse cx="83.2" cy="53.1" rx="4.7" ry="3.85"/>
<ellipse cx="84.6" cy="53.1" rx="4.7" ry="3.85"/>
<ellipse cx="85.9" cy="53.1" rx="4.7" ry="3.85"/>
<ellipse cx="87.3" cy="53.1" rx="4.7" ry="3.85"/>
<ellipse cx="88.6" cy="53.1" rx="4.7" ry="3.85"/>
<ellipse cx="90.0" cy="53.1" rx="4.7" ry="3.85"/>
<ellipse cx="91.3" cy="53.1" rx="4.7" ry="3.85"/>
<ellipse cx="92.7" cy="53.1" rx="4.7" ry="3.85"/>
<ellipse cx="94.0" cy="53.1" rx="4.7" ry="3.85"/>
<ellipse cx="95.4" cy="53.1" rx="4.7" ry="3.85"/>
<ellipse cx="96.7" cy="53.1" rx="4.7" ry="3.85"/>
<ellipse cx="98.1" cy="53.1" rx="4.7" ry="3.85"/>
<ellipse cx="99.4" cy="53.1" rx="4.7" ry="3.85"/>
<ellipse cx="100.8" cy="53.1" rx="4.7" ry="3.85"/>
<ellipse cx="102.1" cy="53.1" rx="4.7" ry="3.85"/>
<ellipse cx="103.5" cy="53.1" rx="4.7" ry="3.85"/>
<ellipse cx="104.8" cy="53.1" rx="4.7" ry="3.85"/>
<ellipse cx="106.2" cy="53.1" rx="4.7" ry="3.85"/>
<ellipse cx="107.5" cy="53.1" rx="4.7" ry="3.85"/>
<ellipse cx="108.9" cy="53.1" rx="4.7" ry="3.85"/>
<ellipse cx="110.2" cy="53.1" rx="4.7" ry="3.85"/>
<ellipse cx="111.6" cy="53.1" rx="4.7" ry="3.85"/>
<ellipse cx="51.7" cy="53.1" rx="4.7" ry="3.85"/>
<ellipse cx="56.1" cy="53.1" rx="4.7" ry="3.85"/>
<ellipse cx="67.8" cy="53.1" rx="4.7" ry="3.85"/>
<ellipse cx="94.0" cy="64.9" rx="4.7" ry="3.85"/>
<ellipse cx="95.4" cy="64.9" rx="4.7" ry="3.85"/>
<ellipse cx="96.7" cy="64.9" rx="4.7" ry="3.85"/>
<ellipse cx="98.1" cy="64.9" rx="4.7" ry="3.85"/>
<ellipse cx="99.4" cy="64.9" rx="4.7" ry="3.85"/>
<ellipse cx="100.8" cy="64.9" rx="4.7" ry="3.85"/>
<ellipse cx="102.1" cy="64.9" rx="4.7" ry="3.85"/>
<ellipse cx="103.5" cy="64.9" rx="4.7" ry="3.85"/>
<ellipse cx="104.8" cy="64.9" rx="4.7" ry="3.85"/>
<ellipse cx="106.2" cy="64.9" rx="4.7" ry="3.85"/>
<ellipse cx="107.5" cy="64.9" rx="4.7" ry="3.85"/>
<ellipse cx="108.9" cy="64.9" rx="4.7" ry="3.85"/>
<ellipse cx="110.2" cy="64.9" rx="4.7" ry="3.85"/>
<ellipse cx="111.6" cy="64.9" rx="4.7" ry="3.85"/>
<ellipse cx="89.7" cy="64.9" rx="4.7" ry="3.85"/>
<ellipse cx="98.0" cy="74.7" rx="4.7" ry="3.85"/>
<ellipse cx="99.4" cy="74.7" rx="4.7" ry="3.85"/>
<ellipse cx="100.7" cy="74.7" rx="4.7" ry="3.85"/>
<ellipse cx="102.1" cy="74.7" rx="4.7" ry="3.85"/>
<ellipse cx="103.4" cy="74.7" rx="4.7" ry="3.85"/>
<ellipse cx="104.8" cy="74.7" rx="4.7" ry="3.85"/>
<ellipse cx="106.2" cy="74.7" rx="4.7" ry="3.85"/>
<ellipse cx="107.5" cy="74.7" rx="4.7" ry="3.85"/>
<ellipse cx="108.9" cy="74.7" rx="4.7" ry="3.85"/>
<ellipse cx="110.2" cy="74.7" rx="4.7" ry="3.85"/>
<ellipse cx="111.6" cy="74.7" rx="4.7" ry="3.85"/>
<ellipse cx="88.8" cy="74.7" rx="4.7" ry="3.85"/>
<ellipse cx="93.5" cy="74.7" rx="4.7" ry="3.85"/>
<ellipse cx="74.4" cy="85.2" rx="4.7" ry="3.85"/>
<ellipse cx="76.1" cy="93.7" rx="4.7" ry="3.85"/>
<ellipse cx="90.2" cy="99.1" rx="4.7" ry="3.85"/>
<ellipse cx="84.1" cy="108.6" rx="4.7" ry="3.85"/>
<ellipse cx="92.9" cy="110.0" rx="4.7" ry="3.85"/>
<ellipse cx="97.6" cy="114.0" rx="4.7" ry="3.85"/>
<ellipse cx="90.8" cy="123.5" rx="4.7" ry="3.85"/>
<ellipse cx="94.2" cy="129.6" rx="4.7" ry="3.85"/>
<ellipse cx="102.3" cy="125.5" rx="4.7" ry="3.85"/>
<ellipse cx="99.6" cy="152.0" rx="4.7" ry="3.85"/>
<ellipse cx="107.1" cy="139.8" rx="4.7" ry="3.85"/>
<ellipse cx="85.4" cy="164.1" rx="4.7" ry="3.85"/>
<ellipse cx="99.6" cy="166.2" rx="4.7" ry="3.85"/>
<ellipse cx="106.4" cy="165.5" rx="4.7" ry="3.85"/>
<ellipse cx="77.7" cy="141.6" rx="4.7" ry="3.85"/>
<ellipse cx="70.4" cy="153.9" rx="4.7" ry="3.85"/>
<ellipse cx="65.9" cy="160.6" rx="4.7" ry="3.85"/>
<ellipse cx="77.3" cy="159.7" rx="4.7" ry="3.85"/>
<ellipse cx="79.5" cy="163.0" rx="4.7" ry="3.85"/>
<ellipse cx="85.3" cy="163.8" rx="4.7" ry="3.85"/>
<ellipse cx="77.3" cy="165.5" rx="4.7" ry="3.85"/>
<ellipse cx="100.6" cy="152.4" rx="4.7" ry="3.85"/>
<ellipse cx="99.9" cy="166.7" rx="4.7" ry="3.85"/>
<ellipse cx="106.5" cy="166.7" rx="4.7" ry="3.85"/>
<ellipse cx="83.9" cy="108.3" rx="4.7" ry="3.85"/>
<ellipse cx="91.9" cy="109.7" rx="4.7" ry="3.85"/>
<ellipse cx="90.4" cy="99.0" rx="4.7" ry="3.85"/>
<ellipse cx="93.0" cy="80.0" rx="4.7" ry="3.85"/>
<ellipse cx="97.0" cy="84.0" rx="4.7" ry="3.85"/>
<ellipse cx="95.0" cy="90.0" rx="4.7" ry="3.85"/>
<ellipse cx="98.0" cy="95.0" rx="4.7" ry="3.85"/>
<ellipse cx="96.0" cy="104.0" rx="4.7" ry="3.85"/>
<ellipse cx="99.0" cy="120.0" rx="4.7" ry="3.85"/>
<ellipse cx="97.0" cy="135.0" rx="4.7" ry="3.85"/>
<ellipse cx="101.0" cy="145.0" rx="4.7" ry="3.85"/>
<ellipse cx="103.0" cy="158.0" rx="4.7" ry="3.85"/>
<ellipse cx="103.2" cy="91.6" rx="4.7" ry="3.85"/>
<ellipse cx="107.5" cy="84.5" rx="4.7" ry="3.85"/>
<ellipse cx="106.0" cy="110.9" rx="4.7" ry="3.85"/>
<ellipse cx="104.5" cy="152.4" rx="4.7" ry="3.85"/>
<ellipse cx="100.6" cy="98.1" rx="4.7" ry="3.85"/>
<ellipse cx="107.2" cy="163.3" rx="4.7" ry="3.85"/>
<ellipse cx="106.5" cy="113.7" rx="4.7" ry="3.85"/>
<ellipse cx="111.7" cy="82.2" rx="4.7" ry="3.85"/>
<ellipse cx="110.2" cy="104.1" rx="4.7" ry="3.85"/>
<ellipse cx="100.9" cy="88.6" rx="4.7" ry="3.85"/>
<ellipse cx="103.0" cy="151.5" rx="4.7" ry="3.85"/>
<ellipse cx="101.3" cy="130.3" rx="4.7" ry="3.85"/>
<ellipse cx="107.3" cy="111.5" rx="4.7" ry="3.85"/>
<ellipse cx="106.1" cy="83.7" rx="4.7" ry="3.85"/>
<ellipse cx="99.8" cy="96.5" rx="4.7" ry="3.85"/>
<ellipse cx="107.8" cy="116.5" rx="4.7" ry="3.85"/>
<ellipse cx="103.1" cy="130.7" rx="4.7" ry="3.85"/>
<ellipse cx="104.9" cy="105.0" rx="4.7" ry="3.85"/>
<ellipse cx="109.3" cy="140.9" rx="4.7" ry="3.85"/>
<ellipse cx="102.2" cy="129.7" rx="4.7" ry="3.85"/>
<ellipse cx="105.8" cy="156.8" rx="4.7" ry="3.85"/>
<ellipse cx="108.5" cy="103.9" rx="4.7" ry="3.85"/>
<ellipse cx="111.7" cy="88.6" rx="4.7" ry="3.85"/>
<ellipse cx="104.4" cy="146.1" rx="4.7" ry="3.85"/>
<ellipse cx="101.0" cy="122.0" rx="4.7" ry="3.85"/>
<ellipse cx="108.9" cy="129.6" rx="4.7" ry="3.85"/>
<ellipse cx="110.4" cy="106.2" rx="4.7" ry="3.85"/>
<ellipse cx="108.0" cy="131.5" rx="4.7" ry="3.85"/>
<ellipse cx="106.5" cy="119.1" rx="4.7" ry="3.85"/>
<ellipse cx="109.9" cy="163.0" rx="4.7" ry="3.85"/>
<ellipse cx="105.2" cy="137.8" rx="4.7" ry="3.85"/>
<ellipse cx="107.4" cy="167.4" rx="4.7" ry="3.85"/>
<ellipse cx="109.7" cy="103.6" rx="4.7" ry="3.85"/>
<ellipse cx="104.0" cy="138.2" rx="4.7" ry="3.85"/>
<ellipse cx="101.2" cy="88.5" rx="4.7" ry="3.85"/>
<ellipse cx="100.7" cy="100.3" rx="4.7" ry="3.85"/>
<ellipse cx="104.1" cy="156.4" rx="4.7" ry="3.85"/>
<ellipse cx="100.0" cy="118.4" rx="4.7" ry="3.85"/>
</g>
<g fill="#b2182b" fill-opacity="0.65" stroke="#b2182b" stroke-opacity="0.65" stroke-width="0.5">
<ellipse cx="134.5" cy="52.9" rx="4.7" ry="3.85"/>
<ellipse cx="135.8" cy="52.9" rx="4.7" ry="3.85"/>
<ellipse cx="137.1" cy="52.9" rx="4.7" ry="3.85"/>
<ellipse cx="138.4" cy="52.9" rx="4.7" ry="3.85"/>
<ellipse cx="139.7" cy="52.9" rx="4.7" ry="3.85"/>
<ellipse cx="141.0" cy="52.9" rx="4.7" ry="3.85"/>
<ellipse cx="142.3" cy="52.9" rx="4.7" ry="3.85"/>
<ellipse cx="143.6" cy="52.9" rx="4.7" ry="3.85"/>
<ellipse cx="144.9" cy="52.9" rx="4.7" ry="3.85"/>
<ellipse cx="146.2" cy="52.9" rx="4.7" ry="3.85"/>
<ellipse cx="147.5" cy="52.9" rx="4.7" ry="3.85"/>
<ellipse cx="148.8" cy="52.9" rx="4.7" ry="3.85"/>
<ellipse cx="150.1" cy="52.9" rx="4.7" ry="3.85"/>
<ellipse cx="151.4" cy="52.9" rx="4.7" ry="3.85"/>
<ellipse cx="152.7" cy="52.9" rx="4.7" ry="3.85"/>
<ellipse cx="154.0" cy="52.9" rx="4.7" ry="3.85"/>
<ellipse cx="155.3" cy="52.9" rx="4.7" ry="3.85"/>
<ellipse cx="156.6" cy="52.9" rx="4.7" ry="3.85"/>
<ellipse cx="157.9" cy="52.9" rx="4.7" ry="3.85"/>
<ellipse cx="159.2" cy="52.9" rx="4.7" ry="3.85"/>
<ellipse cx="160.5" cy="52.9" rx="4.7" ry="3.85"/>
<ellipse cx="161.8" cy="52.9" rx="4.7" ry="3.85"/>
<ellipse cx="163.1" cy="52.9" rx="4.7" ry="3.85"/>
<ellipse cx="164.4" cy="52.9" rx="4.7" ry="3.85"/>
<ellipse cx="165.8" cy="52.9" rx="4.7" ry="3.85"/>
<ellipse cx="167.1" cy="52.9" rx="4.7" ry="3.85"/>
<ellipse cx="168.4" cy="52.9" rx="4.7" ry="3.85"/>
<ellipse cx="169.7" cy="52.9" rx="4.7" ry="3.85"/>
<ellipse cx="171.0" cy="52.9" rx="4.7" ry="3.85"/>
<ellipse cx="172.3" cy="52.9" rx="4.7" ry="3.85"/>
<ellipse cx="173.6" cy="52.9" rx="4.7" ry="3.85"/>
<ellipse cx="174.9" cy="52.9" rx="4.7" ry="3.85"/>
<ellipse cx="176.2" cy="52.9" rx="4.7" ry="3.85"/>
<ellipse cx="177.5" cy="52.9" rx="4.7" ry="3.85"/>
<ellipse cx="178.8" cy="52.9" rx="4.7" ry="3.85"/>
<ellipse cx="180.1" cy="52.9" rx="4.7" ry="3.85"/>
<ellipse cx="181.4" cy="52.9" rx="4.7" ry="3.85"/>
<ellipse cx="182.7" cy="52.9" rx="4.7" ry="3.85"/>
<ellipse cx="184.0" cy="52.9" rx="4.7" ry="3.85"/>
<ellipse cx="185.3" cy="52.9" rx="4.7" ry="3.85"/>
<ellipse cx="186.6" cy="52.9" rx="4.7" ry="3.85"/>
<ellipse cx="187.9" cy="52.9" rx="4.7" ry="3.85"/>
<ellipse cx="189.2" cy="52.9" rx="4.7" ry="3.85"/>
<ellipse cx="190.5" cy="52.9" rx="4.7" ry="3.85"/>
<ellipse cx="191.8" cy="52.9" rx="4.7" ry="3.85"/>
<ellipse cx="193.1" cy="52.9" rx="4.7" ry="3.85"/>
<ellipse cx="194.4" cy="52.9" rx="4.7" ry="3.85"/>
<ellipse cx="195.7" cy="52.9" rx="4.7" ry="3.85"/>
<ellipse cx="197.0" cy="52.9" rx="4.7" ry="3.85"/>
<ellipse cx="206.4" cy="52.9" rx="4.7" ry="3.85"/>
<ellipse cx="210.7" cy="52.9" rx="4.7" ry="3.85"/>
<ellipse cx="134.5" cy="65.0" rx="4.7" ry="3.85"/>
<ellipse cx="135.9" cy="65.0" rx="4.7" ry="3.85"/>
<ellipse cx="137.3" cy="65.0" rx="4.7" ry="3.85"/>
<ellipse cx="138.7" cy="65.0" rx="4.7" ry="3.85"/>
<ellipse cx="140.1" cy="65.0" rx="4.7" ry="3.85"/>
<ellipse cx="141.6" cy="65.0" rx="4.7" ry="3.85"/>
<ellipse cx="143.0" cy="65.0" rx="4.7" ry="3.85"/>
<ellipse cx="144.4" cy="65.0" rx="4.7" ry="3.85"/>
<ellipse cx="145.8" cy="65.0" rx="4.7" ry="3.85"/>
<ellipse cx="147.2" cy="65.0" rx="4.7" ry="3.85"/>
<ellipse cx="154.6" cy="65.0" rx="4.7" ry="3.85"/>
<ellipse cx="161.3" cy="65.0" rx="4.7" ry="3.85"/>
<ellipse cx="179.8" cy="65.0" rx="4.7" ry="3.85"/>
<ellipse cx="192.3" cy="65.0" rx="4.7" ry="3.85"/>
<ellipse cx="205.5" cy="65.0" rx="4.7" ry="3.85"/>
<ellipse cx="134.5" cy="74.8" rx="4.7" ry="3.85"/>
<ellipse cx="135.9" cy="74.8" rx="4.7" ry="3.85"/>
<ellipse cx="137.2" cy="74.8" rx="4.7" ry="3.85"/>
<ellipse cx="138.6" cy="74.8" rx="4.7" ry="3.85"/>
<ellipse cx="140.0" cy="74.8" rx="4.7" ry="3.85"/>
<ellipse cx="141.3" cy="74.8" rx="4.7" ry="3.85"/>
<ellipse cx="142.7" cy="74.8" rx="4.7" ry="3.85"/>
<ellipse cx="144.1" cy="74.8" rx="4.7" ry="3.85"/>
<ellipse cx="145.4" cy="74.8" rx="4.7" ry="3.85"/>
<ellipse cx="146.8" cy="74.8" rx="4.7" ry="3.85"/>
<ellipse cx="148.2" cy="74.8" rx="4.7" ry="3.85"/>
<ellipse cx="149.5" cy="74.8" rx="4.7" ry="3.85"/>
<ellipse cx="150.9" cy="74.8" rx="4.7" ry="3.85"/>
<ellipse cx="181.8" cy="75.2" rx="4.7" ry="3.85"/>
<ellipse cx="156.1" cy="80.7" rx="4.7" ry="3.85"/>
<ellipse cx="159.1" cy="80.7" rx="4.7" ry="3.85"/>
<ellipse cx="156.1" cy="90.4" rx="4.7" ry="3.85"/>
<ellipse cx="162.0" cy="90.4" rx="4.7" ry="3.85"/>
<ellipse cx="156.1" cy="98.5" rx="4.7" ry="3.85"/>
<ellipse cx="148.7" cy="103.0" rx="4.7" ry="3.85"/>
<ellipse cx="154.6" cy="109.6" rx="4.7" ry="3.85"/>
<ellipse cx="139.8" cy="100.0" rx="4.7" ry="3.85"/>
<ellipse cx="138.3" cy="105.9" rx="4.7" ry="3.85"/>
<ellipse cx="139.8" cy="114.8" rx="4.7" ry="3.85"/>
<ellipse cx="168.0" cy="119.3" rx="4.7" ry="3.85"/>
<ellipse cx="168.5" cy="119.6" rx="4.7" ry="3.85"/>
<ellipse cx="153.1" cy="131.9" rx="4.7" ry="3.85"/>
<ellipse cx="139.8" cy="139.3" rx="4.7" ry="3.85"/>
<ellipse cx="167.2" cy="146.7" rx="4.7" ry="3.85"/>
<ellipse cx="136.9" cy="154.8" rx="4.7" ry="3.85"/>
<ellipse cx="147.2" cy="153.3" rx="4.7" ry="3.85"/>
<ellipse cx="145.7" cy="154.0" rx="4.7" ry="3.85"/>
<ellipse cx="134.6" cy="163.7" rx="4.7" ry="3.85"/>
<ellipse cx="134.6" cy="134.0" rx="4.7" ry="3.85"/>
<ellipse cx="134.6" cy="145.9" rx="4.7" ry="3.85"/>
<ellipse cx="194.1" cy="124.6" rx="4.7" ry="3.85"/>
<ellipse cx="197.6" cy="127.2" rx="4.7" ry="3.85"/>
<ellipse cx="149.4" cy="102.7" rx="4.7" ry="3.85"/>
<ellipse cx="156.4" cy="99.2" rx="4.7" ry="3.85"/>
<ellipse cx="146.8" cy="74.7" rx="4.7" ry="3.85"/>
<ellipse cx="136.4" cy="115.8" rx="4.7" ry="3.85"/>
<ellipse cx="136.5" cy="162.7" rx="4.7" ry="3.85"/>
<ellipse cx="141.9" cy="108.5" rx="4.7" ry="3.85"/>
<ellipse cx="134.4" cy="108.2" rx="4.7" ry="3.85"/>
<ellipse cx="137.1" cy="166.3" rx="4.7" ry="3.85"/>
<ellipse cx="131.7" cy="124.6" rx="4.7" ry="3.85"/>
<ellipse cx="134.5" cy="116.0" rx="4.7" ry="3.85"/>
<ellipse cx="139.9" cy="110.8" rx="4.7" ry="3.85"/>
<ellipse cx="138.4" cy="84.2" rx="4.7" ry="3.85"/>
<ellipse cx="137.1" cy="123.4" rx="4.7" ry="3.85"/>
<ellipse cx="131.3" cy="90.5" rx="4.7" ry="3.85"/>
<ellipse cx="140.0" cy="101.9" rx="4.7" ry="3.85"/>
<ellipse cx="140.5" cy="102.6" rx="4.7" ry="3.85"/>
<ellipse cx="139.7" cy="100.6" rx="4.7" ry="3.85"/>
<ellipse cx="138.3" cy="117.0" rx="4.7" ry="3.85"/>
<ellipse cx="144.3" cy="103.9" rx="4.7" ry="3.85"/>
<ellipse cx="135.3" cy="136.3" rx="4.7" ry="3.85"/>
<ellipse cx="132.7" cy="131.5" rx="4.7" ry="3.85"/>
<ellipse cx="134.8" cy="120.0" rx="4.7" ry="3.85"/>
<ellipse cx="138.5" cy="91.4" rx="4.7" ry="3.85"/>
<ellipse cx="132.7" cy="89.8" rx="4.7" ry="3.85"/>
<ellipse cx="135.1" cy="114.6" rx="4.7" ry="3.85"/>
<ellipse cx="135.0" cy="99.9" rx="4.7" ry="3.85"/>
<ellipse cx="132.2" cy="127.2" rx="4.7" ry="3.85"/>
<ellipse cx="139.0" cy="136.5" rx="4.7" ry="3.85"/>
<ellipse cx="133.8" cy="141.9" rx="4.7" ry="3.85"/>
<ellipse cx="137.5" cy="127.3" rx="4.7" ry="3.85"/>
<ellipse cx="139.6" cy="120.2" rx="4.7" ry="3.85"/>
<ellipse cx="135.3" cy="99.8" rx="4.7" ry="3.85"/>
<ellipse cx="134.1" cy="124.1" rx="4.7" ry="3.85"/>
<ellipse cx="136.4" cy="130.7" rx="4.7" ry="3.85"/>
<ellipse cx="131.2" cy="109.7" rx="4.7" ry="3.85"/>
<ellipse cx="143.1" cy="99.5" rx="4.7" ry="3.85"/>
<ellipse cx="138.8" cy="122.2" rx="4.7" ry="3.85"/>
<ellipse cx="135.0" cy="166.9" rx="4.7" ry="3.85"/>
<ellipse cx="135.1" cy="147.5" rx="4.7" ry="3.85"/>
<ellipse cx="133.2" cy="84.0" rx="4.7" ry="3.85"/>
<ellipse cx="131.9" cy="112.9" rx="4.7" ry="3.85"/>
<ellipse cx="137.2" cy="144.2" rx="4.7" ry="3.85"/>
<ellipse cx="132.5" cy="98.3" rx="4.7" ry="3.85"/>
<ellipse cx="133.2" cy="108.3" rx="4.7" ry="3.85"/>
<ellipse cx="135.9" cy="138.8" rx="4.7" ry="3.85"/>
</g>
<g fill="#bdbdbd" fill-opacity="0.55" stroke="#bdbdbd" stroke-opacity="0.55" stroke-width="0.5">
<ellipse cx="302.8" cy="174.7" rx="4.7" ry="3.85"/>
<ellipse cx="314.2" cy="177.7" rx="4.7" ry="3.85"/>
<ellipse cx="301.1" cy="182.3" rx="4.7" ry="3.85"/>
<ellipse cx="308.4" cy="183.1" rx="4.7" ry="3.85"/>
<ellipse cx="304.0" cy="191.1" rx="4.7" ry="3.85"/>
<ellipse cx="316.4" cy="191.8" rx="4.7" ry="3.85"/>
<ellipse cx="286.5" cy="194.7" rx="4.7" ry="3.85"/>
<ellipse cx="293.1" cy="202.0" rx="4.7" ry="3.85"/>
<ellipse cx="304.0" cy="214.5" rx="4.7" ry="3.85"/>
<ellipse cx="307.0" cy="218.8" rx="4.7" ry="3.85"/>
<ellipse cx="376.4" cy="181.2" rx="4.7" ry="3.85"/>
<ellipse cx="395.7" cy="198.3" rx="4.7" ry="3.85"/>
<ellipse cx="377.3" cy="207.8" rx="4.7" ry="3.85"/>
<ellipse cx="366.8" cy="206.6" rx="4.7" ry="3.85"/>
<ellipse cx="365.9" cy="209.2" rx="4.7" ry="3.85"/>
<ellipse cx="394.9" cy="217.1" rx="4.7" ry="3.85"/>
<ellipse cx="398.3" cy="217.1" rx="4.7" ry="3.85"/>
<ellipse cx="412.3" cy="216.2" rx="4.7" ry="3.85"/>
<ellipse cx="299.8" cy="174.0" rx="4.7" ry="3.85"/>
<ellipse cx="343.0" cy="86.8" rx="4.7" ry="3.85"/>
<ellipse cx="352.5" cy="86.8" rx="4.7" ry="3.85"/>
<ellipse cx="343.0" cy="96.5" rx="4.7" ry="3.85"/>
<ellipse cx="352.5" cy="96.5" rx="4.7" ry="3.85"/>
<ellipse cx="350.0" cy="103.0" rx="4.7" ry="3.85"/>
<ellipse cx="346.1" cy="103.2" rx="4.7" ry="3.85"/>
<ellipse cx="347.6" cy="103.2" rx="4.7" ry="3.85"/>
<ellipse cx="353.2" cy="101.7" rx="4.7" ry="3.85"/>
<ellipse cx="343.1" cy="105.0" rx="4.7" ry="3.85"/>
<ellipse cx="346.2" cy="106.3" rx="4.7" ry="3.85"/>
<ellipse cx="349.6" cy="105.4" rx="4.7" ry="3.85"/>
<ellipse cx="352.8" cy="106.9" rx="4.7" ry="3.85"/>
<ellipse cx="345.3" cy="107.4" rx="4.7" ry="3.85"/>
<ellipse cx="348.0" cy="108.6" rx="4.7" ry="3.85"/>
<ellipse cx="350.6" cy="108.0" rx="4.7" ry="3.85"/>
<ellipse cx="352.6" cy="110.8" rx="4.7" ry="3.85"/>
<ellipse cx="345.4" cy="114.9" rx="4.7" ry="3.85"/>
<ellipse cx="348.1" cy="114.9" rx="4.7" ry="3.85"/>
<ellipse cx="351.2" cy="115.5" rx="4.7" ry="3.85"/>
<ellipse cx="343.4" cy="116.2" rx="4.7" ry="3.85"/>
<ellipse cx="347.9" cy="118.0" rx="4.7" ry="3.85"/>
<ellipse cx="348.7" cy="115.8" rx="4.7" ry="3.85"/>
<ellipse cx="352.8" cy="116.6" rx="4.7" ry="3.85"/>
<ellipse cx="343.3" cy="119.5" rx="4.7" ry="3.85"/>
<ellipse cx="347.4" cy="121.3" rx="4.7" ry="3.85"/>
<ellipse cx="352.7" cy="119.4" rx="4.7" ry="3.85"/>
<ellipse cx="343.6" cy="122.6" rx="4.7" ry="3.85"/>
<ellipse cx="347.7" cy="123.9" rx="4.7" ry="3.85"/>
<ellipse cx="348.7" cy="124.2" rx="4.7" ry="3.85"/>
<ellipse cx="352.3" cy="122.2" rx="4.7" ry="3.85"/>
<ellipse cx="349.2" cy="124.6" rx="4.7" ry="3.85"/>
<ellipse cx="343.4" cy="132.3" rx="4.7" ry="3.85"/>
<ellipse cx="348.4" cy="133.1" rx="4.7" ry="3.85"/>
<ellipse cx="352.8" cy="130.2" rx="4.7" ry="3.85"/>
<ellipse cx="344.0" cy="133.8" rx="4.7" ry="3.85"/>
<ellipse cx="348.1" cy="135.0" rx="4.7" ry="3.85"/>
<ellipse cx="349.4" cy="133.1" rx="4.7" ry="3.85"/>
<ellipse cx="353.5" cy="133.6" rx="4.7" ry="3.85"/>
<ellipse cx="343.6" cy="138.1" rx="4.7" ry="3.85"/>
<ellipse cx="347.6" cy="136.6" rx="4.7" ry="3.85"/>
<ellipse cx="351.8" cy="138.9" rx="4.7" ry="3.85"/>
<ellipse cx="345.4" cy="140.5" rx="4.7" ry="3.85"/>
<ellipse cx="351.2" cy="140.5" rx="4.7" ry="3.85"/>
<ellipse cx="352.7" cy="140.9" rx="4.7" ry="3.85"/>
<ellipse cx="347.2" cy="142.5" rx="4.7" ry="3.85"/>
<ellipse cx="351.0" cy="141.8" rx="4.7" ry="3.85"/>
<ellipse cx="346.4" cy="144.8" rx="4.7" ry="3.85"/>
<ellipse cx="350.1" cy="145.6" rx="4.7" ry="3.85"/>
<ellipse cx="345.6" cy="147.6" rx="4.7" ry="3.85"/>
<ellipse cx="350.0" cy="149.2" rx="4.7" ry="3.85"/>
<ellipse cx="352.0" cy="148.7" rx="4.7" ry="3.85"/>
<ellipse cx="350.7" cy="151.0" rx="4.7" ry="3.85"/>
<ellipse cx="352.6" cy="150.3" rx="4.7" ry="3.85"/>
<ellipse cx="345.9" cy="154.1" rx="4.7" ry="3.85"/>
<ellipse cx="343.8" cy="157.0" rx="4.7" ry="3.85"/>
<ellipse cx="347.7" cy="157.0" rx="4.7" ry="3.85"/>
<ellipse cx="353.0" cy="156.1" rx="4.7" ry="3.85"/>
<ellipse cx="345.2" cy="161.5" rx="4.7" ry="3.85"/>
<ellipse cx="349.7" cy="161.9" rx="4.7" ry="3.85"/>
<ellipse cx="352.0" cy="159.4" rx="4.7" ry="3.85"/>
<ellipse cx="343.3" cy="162.0" rx="4.7" ry="3.85"/>
<ellipse cx="348.9" cy="161.9" rx="4.7" ry="3.85"/>
<ellipse cx="352.8" cy="164.1" rx="4.7" ry="3.85"/>
<ellipse cx="345.9" cy="167.4" rx="4.7" ry="3.85"/>
<ellipse cx="348.2" cy="165.5" rx="4.7" ry="3.85"/>
<ellipse cx="352.0" cy="166.0" rx="4.7" ry="3.85"/>
<ellipse cx="347.7" cy="170.4" rx="4.7" ry="3.85"/>
<ellipse cx="349.5" cy="168.9" rx="4.7" ry="3.85"/>
<ellipse cx="353.3" cy="168.1" rx="4.7" ry="3.85"/>
<ellipse cx="333.9" cy="172.2" rx="4.7" ry="3.85"/>
<ellipse cx="335.9" cy="172.9" rx="4.7" ry="3.85"/>
<ellipse cx="340.1" cy="172.8" rx="4.7" ry="3.85"/>
<ellipse cx="342.1" cy="172.4" rx="4.7" ry="3.85"/>
<ellipse cx="344.1" cy="172.3" rx="4.7" ry="3.85"/>
<ellipse cx="349.7" cy="172.1" rx="4.7" ry="3.85"/>
<ellipse cx="355.0" cy="172.1" rx="4.7" ry="3.85"/>
<ellipse cx="334.7" cy="174.0" rx="4.7" ry="3.85"/>
<ellipse cx="336.8" cy="173.0" rx="4.7" ry="3.85"/>
<ellipse cx="340.0" cy="173.9" rx="4.7" ry="3.85"/>
<ellipse cx="342.1" cy="173.0" rx="4.7" ry="3.85"/>
<ellipse cx="344.3" cy="173.0" rx="4.7" ry="3.85"/>
<ellipse cx="345.9" cy="173.2" rx="4.7" ry="3.85"/>
<ellipse cx="348.6" cy="174.4" rx="4.7" ry="3.85"/>
<ellipse cx="351.3" cy="172.9" rx="4.7" ry="3.85"/>
<ellipse cx="352.8" cy="172.8" rx="4.7" ry="3.85"/>
<ellipse cx="354.8" cy="173.4" rx="4.7" ry="3.85"/>
<ellipse cx="331.7" cy="175.4" rx="4.7" ry="3.85"/>
<ellipse cx="333.9" cy="176.4" rx="4.7" ry="3.85"/>
<ellipse cx="335.5" cy="176.2" rx="4.7" ry="3.85"/>
<ellipse cx="338.6" cy="174.7" rx="4.7" ry="3.85"/>
<ellipse cx="339.6" cy="175.8" rx="4.7" ry="3.85"/>
<ellipse cx="341.9" cy="176.6" rx="4.7" ry="3.85"/>
<ellipse cx="344.5" cy="175.0" rx="4.7" ry="3.85"/>
<ellipse cx="348.0" cy="175.8" rx="4.7" ry="3.85"/>
<ellipse cx="348.6" cy="174.9" rx="4.7" ry="3.85"/>
<ellipse cx="351.2" cy="175.8" rx="4.7" ry="3.85"/>
<ellipse cx="354.6" cy="175.4" rx="4.7" ry="3.85"/>
<ellipse cx="332.4" cy="178.3" rx="4.7" ry="3.85"/>
<ellipse cx="333.7" cy="176.9" rx="4.7" ry="3.85"/>
<ellipse cx="337.3" cy="177.3" rx="4.7" ry="3.85"/>
<ellipse cx="338.5" cy="178.2" rx="4.7" ry="3.85"/>
<ellipse cx="342.3" cy="177.7" rx="4.7" ry="3.85"/>
<ellipse cx="343.5" cy="176.9" rx="4.7" ry="3.85"/>
<ellipse cx="346.3" cy="176.6" rx="4.7" ry="3.85"/>
<ellipse cx="348.2" cy="177.5" rx="4.7" ry="3.85"/>
<ellipse cx="350.5" cy="177.2" rx="4.7" ry="3.85"/>
<ellipse cx="353.2" cy="177.2" rx="4.7" ry="3.85"/>
<ellipse cx="355.3" cy="178.5" rx="4.7" ry="3.85"/>
<ellipse cx="332.1" cy="180.4" rx="4.7" ry="3.85"/>
<ellipse cx="333.6" cy="179.9" rx="4.7" ry="3.85"/>
<ellipse cx="336.4" cy="179.6" rx="4.7" ry="3.85"/>
<ellipse cx="337.8" cy="178.9" rx="4.7" ry="3.85"/>
<ellipse cx="341.2" cy="180.3" rx="4.7" ry="3.85"/>
<ellipse cx="342.3" cy="179.9" rx="4.7" ry="3.85"/>
<ellipse cx="345.0" cy="179.6" rx="4.7" ry="3.85"/>
<ellipse cx="347.4" cy="179.2" rx="4.7" ry="3.85"/>
<ellipse cx="349.3" cy="179.0" rx="4.7" ry="3.85"/>
<ellipse cx="351.9" cy="179.1" rx="4.7" ry="3.85"/>
<ellipse cx="353.7" cy="179.0" rx="4.7" ry="3.85"/>
<ellipse cx="331.9" cy="180.8" rx="4.7" ry="3.85"/>
<ellipse cx="334.8" cy="182.1" rx="4.7" ry="3.85"/>
<ellipse cx="337.8" cy="181.4" rx="4.7" ry="3.85"/>
<ellipse cx="338.6" cy="181.4" rx="4.7" ry="3.85"/>
<ellipse cx="341.3" cy="181.8" rx="4.7" ry="3.85"/>
<ellipse cx="344.6" cy="180.3" rx="4.7" ry="3.85"/>
<ellipse cx="347.0" cy="180.7" rx="4.7" ry="3.85"/>
<ellipse cx="347.5" cy="180.5" rx="4.7" ry="3.85"/>
<ellipse cx="351.2" cy="180.6" rx="4.7" ry="3.85"/>
<ellipse cx="352.4" cy="181.4" rx="4.7" ry="3.85"/>
<ellipse cx="355.7" cy="180.6" rx="4.7" ry="3.85"/>
<ellipse cx="331.3" cy="183.8" rx="4.7" ry="3.85"/>
<ellipse cx="334.4" cy="182.4" rx="4.7" ry="3.85"/>
<ellipse cx="336.3" cy="183.3" rx="4.7" ry="3.85"/>
<ellipse cx="338.5" cy="182.7" rx="4.7" ry="3.85"/>
<ellipse cx="340.2" cy="182.1" rx="4.7" ry="3.85"/>
<ellipse cx="342.4" cy="183.0" rx="4.7" ry="3.85"/>
<ellipse cx="344.5" cy="183.0" rx="4.7" ry="3.85"/>
<ellipse cx="348.2" cy="183.2" rx="4.7" ry="3.85"/>
<ellipse cx="348.7" cy="183.3" rx="4.7" ry="3.85"/>
<ellipse cx="351.5" cy="182.2" rx="4.7" ry="3.85"/>
<ellipse cx="353.5" cy="183.6" rx="4.7" ry="3.85"/>
<ellipse cx="327.9" cy="185.2" rx="4.7" ry="3.85"/>
<ellipse cx="329.7" cy="185.4" rx="4.7" ry="3.85"/>
<ellipse cx="332.8" cy="185.4" rx="4.7" ry="3.85"/>
<ellipse cx="334.3" cy="185.4" rx="4.7" ry="3.85"/>
<ellipse cx="336.9" cy="184.4" rx="4.7" ry="3.85"/>
<ellipse cx="340.2" cy="184.1" rx="4.7" ry="3.85"/>
<ellipse cx="341.5" cy="185.2" rx="4.7" ry="3.85"/>
<ellipse cx="343.6" cy="185.9" rx="4.7" ry="3.85"/>
<ellipse cx="346.7" cy="184.0" rx="4.7" ry="3.85"/>
<ellipse cx="347.7" cy="184.0" rx="4.7" ry="3.85"/>
<ellipse cx="350.9" cy="184.2" rx="4.7" ry="3.85"/>
<ellipse cx="352.8" cy="184.2" rx="4.7" ry="3.85"/>
<ellipse cx="355.8" cy="185.8" rx="4.7" ry="3.85"/>
<ellipse cx="328.6" cy="187.3" rx="4.7" ry="3.85"/>
<ellipse cx="330.8" cy="187.6" rx="4.7" ry="3.85"/>
<ellipse cx="334.0" cy="185.8" rx="4.7" ry="3.85"/>
<ellipse cx="335.6" cy="187.5" rx="4.7" ry="3.85"/>
<ellipse cx="338.2" cy="186.5" rx="4.7" ry="3.85"/>
<ellipse cx="341.3" cy="187.0" rx="4.7" ry="3.85"/>
<ellipse cx="342.2" cy="186.2" rx="4.7" ry="3.85"/>
<ellipse cx="344.4" cy="186.1" rx="4.7" ry="3.85"/>
<ellipse cx="347.6" cy="186.3" rx="4.7" ry="3.85"/>
<ellipse cx="349.0" cy="186.9" rx="4.7" ry="3.85"/>
<ellipse cx="352.7" cy="187.5" rx="4.7" ry="3.85"/>
<ellipse cx="354.7" cy="187.4" rx="4.7" ry="3.85"/>
<ellipse cx="328.1" cy="188.8" rx="4.7" ry="3.85"/>
<ellipse cx="330.2" cy="189.4" rx="4.7" ry="3.85"/>
<ellipse cx="333.1" cy="188.3" rx="4.7" ry="3.85"/>
<ellipse cx="335.4" cy="187.9" rx="4.7" ry="3.85"/>
<ellipse cx="338.0" cy="188.1" rx="4.7" ry="3.85"/>
<ellipse cx="338.4" cy="189.5" rx="4.7" ry="3.85"/>
<ellipse cx="342.4" cy="187.8" rx="4.7" ry="3.85"/>
<ellipse cx="343.0" cy="187.9" rx="4.7" ry="3.85"/>
<ellipse cx="345.3" cy="188.2" rx="4.7" ry="3.85"/>
<ellipse cx="348.9" cy="189.4" rx="4.7" ry="3.85"/>
<ellipse cx="349.8" cy="188.0" rx="4.7" ry="3.85"/>
<ellipse cx="353.4" cy="187.6" rx="4.7" ry="3.85"/>
<ellipse cx="354.8" cy="188.4" rx="4.7" ry="3.85"/>
<ellipse cx="325.8" cy="190.4" rx="4.7" ry="3.85"/>
<ellipse cx="328.8" cy="189.7" rx="4.7" ry="3.85"/>
<ellipse cx="330.5" cy="190.9" rx="4.7" ry="3.85"/>
<ellipse cx="332.7" cy="190.1" rx="4.7" ry="3.85"/>
<ellipse cx="336.7" cy="190.1" rx="4.7" ry="3.85"/>
<ellipse cx="339.1" cy="191.2" rx="4.7" ry="3.85"/>
<ellipse cx="339.9" cy="189.7" rx="4.7" ry="3.85"/>
<ellipse cx="341.8" cy="189.5" rx="4.7" ry="3.85"/>
<ellipse cx="344.8" cy="190.5" rx="4.7" ry="3.85"/>
<ellipse cx="346.3" cy="190.8" rx="4.7" ry="3.85"/>
<ellipse cx="349.7" cy="190.5" rx="4.7" ry="3.85"/>
<ellipse cx="352.9" cy="191.2" rx="4.7" ry="3.85"/>
<ellipse cx="354.0" cy="190.0" rx="4.7" ry="3.85"/>
<ellipse cx="325.2" cy="192.1" rx="4.7" ry="3.85"/>
<ellipse cx="328.8" cy="191.2" rx="4.7" ry="3.85"/>
<ellipse cx="330.9" cy="191.7" rx="4.7" ry="3.85"/>
<ellipse cx="332.1" cy="191.7" rx="4.7" ry="3.85"/>
<ellipse cx="333.9" cy="193.0" rx="4.7" ry="3.85"/>
<ellipse cx="337.8" cy="191.3" rx="4.7" ry="3.85"/>
<ellipse cx="338.9" cy="192.5" rx="4.7" ry="3.85"/>
<ellipse cx="341.2" cy="193.2" rx="4.7" ry="3.85"/>
<ellipse cx="344.4" cy="193.0" rx="4.7" ry="3.85"/>
<ellipse cx="346.3" cy="193.3" rx="4.7" ry="3.85"/>
<ellipse cx="348.7" cy="192.7" rx="4.7" ry="3.85"/>
<ellipse cx="351.2" cy="192.0" rx="4.7" ry="3.85"/>
<ellipse cx="353.3" cy="192.6" rx="4.7" ry="3.85"/>
<ellipse cx="355.6" cy="192.3" rx="4.7" ry="3.85"/>
<ellipse cx="325.1" cy="194.0" rx="4.7" ry="3.85"/>
<ellipse cx="326.6" cy="194.0" rx="4.7" ry="3.85"/>
<ellipse cx="328.2" cy="195.0" rx="4.7" ry="3.85"/>
<ellipse cx="331.2" cy="194.1" rx="4.7" ry="3.85"/>
<ellipse cx="333.0" cy="193.4" rx="4.7" ry="3.85"/>
<ellipse cx="335.7" cy="194.4" rx="4.7" ry="3.85"/>
<ellipse cx="338.9" cy="194.8" rx="4.7" ry="3.85"/>
<ellipse cx="340.2" cy="194.8" rx="4.7" ry="3.85"/>
<ellipse cx="341.9" cy="193.4" rx="4.7" ry="3.85"/>
<ellipse cx="344.2" cy="193.8" rx="4.7" ry="3.85"/>
<ellipse cx="347.3" cy="194.0" rx="4.7" ry="3.85"/>
<ellipse cx="349.4" cy="195.1" rx="4.7" ry="3.85"/>
<ellipse cx="351.8" cy="194.0" rx="4.7" ry="3.85"/>
<ellipse cx="354.7" cy="193.4" rx="4.7" ry="3.85"/>
<ellipse cx="324.9" cy="195.7" rx="4.7" ry="3.85"/>
<ellipse cx="327.5" cy="194.9" rx="4.7" ry="3.85"/>
<ellipse cx="330.2" cy="195.0" rx="4.7" ry="3.85"/>
<ellipse cx="332.8" cy="195.5" rx="4.7" ry="3.85"/>
<ellipse cx="334.1" cy="196.6" rx="4.7" ry="3.85"/>
<ellipse cx="337.2" cy="196.7" rx="4.7" ry="3.85"/>
<ellipse cx="339.1" cy="196.5" rx="4.7" ry="3.85"/>
<ellipse cx="341.3" cy="195.0" rx="4.7" ry="3.85"/>
<ellipse cx="343.6" cy="196.4" rx="4.7" ry="3.85"/>
<ellipse cx="346.0" cy="196.2" rx="4.7" ry="3.85"/>
<ellipse cx="348.1" cy="195.7" rx="4.7" ry="3.85"/>
<ellipse cx="351.6" cy="195.3" rx="4.7" ry="3.85"/>
<ellipse cx="353.5" cy="195.7" rx="4.7" ry="3.85"/>
<ellipse cx="355.0" cy="195.0" rx="4.7" ry="3.85"/>
<ellipse cx="324.3" cy="198.6" rx="4.7" ry="3.85"/>
<ellipse cx="325.6" cy="198.0" rx="4.7" ry="3.85"/>
<ellipse cx="328.8" cy="198.5" rx="4.7" ry="3.85"/>
<ellipse cx="331.1" cy="198.6" rx="4.7" ry="3.85"/>
<ellipse cx="333.5" cy="197.8" rx="4.7" ry="3.85"/>
<ellipse cx="336.2" cy="198.3" rx="4.7" ry="3.85"/>
<ellipse cx="337.1" cy="198.1" rx="4.7" ry="3.85"/>
<ellipse cx="341.0" cy="198.3" rx="4.7" ry="3.85"/>
<ellipse cx="342.1" cy="196.9" rx="4.7" ry="3.85"/>
<ellipse cx="344.2" cy="196.9" rx="4.7" ry="3.85"/>
<ellipse cx="347.4" cy="196.8" rx="4.7" ry="3.85"/>
<ellipse cx="350.0" cy="197.7" rx="4.7" ry="3.85"/>
<ellipse cx="352.3" cy="197.6" rx="4.7" ry="3.85"/>
<ellipse cx="355.2" cy="198.4" rx="4.7" ry="3.85"/>
<ellipse cx="322.4" cy="199.3" rx="4.7" ry="3.85"/>
<ellipse cx="324.4" cy="200.6" rx="4.7" ry="3.85"/>
<ellipse cx="327.3" cy="199.2" rx="4.7" ry="3.85"/>
<ellipse cx="330.8" cy="199.7" rx="4.7" ry="3.85"/>
<ellipse cx="332.2" cy="198.7" rx="4.7" ry="3.85"/>
<ellipse cx="335.4" cy="200.2" rx="4.7" ry="3.85"/>
<ellipse cx="336.4" cy="199.0" rx="4.7" ry="3.85"/>
<ellipse cx="339.3" cy="199.3" rx="4.7" ry="3.85"/>
<ellipse cx="341.5" cy="199.8" rx="4.7" ry="3.85"/>
<ellipse cx="344.5" cy="199.0" rx="4.7" ry="3.85"/>
<ellipse cx="346.3" cy="198.7" rx="4.7" ry="3.85"/>
<ellipse cx="348.5" cy="199.4" rx="4.7" ry="3.85"/>
<ellipse cx="350.4" cy="199.1" rx="4.7" ry="3.85"/>
<ellipse cx="352.6" cy="200.0" rx="4.7" ry="3.85"/>
<ellipse cx="355.5" cy="199.5" rx="4.7" ry="3.85"/>
<ellipse cx="323.4" cy="201.3" rx="4.7" ry="3.85"/>
<ellipse cx="325.7" cy="202.2" rx="4.7" ry="3.85"/>
<ellipse cx="329.1" cy="200.8" rx="4.7" ry="3.85"/>
<ellipse cx="331.3" cy="202.1" rx="4.7" ry="3.85"/>
<ellipse cx="333.9" cy="201.8" rx="4.7" ry="3.85"/>
<ellipse cx="335.2" cy="202.1" rx="4.7" ry="3.85"/>
<ellipse cx="339.0" cy="200.8" rx="4.7" ry="3.85"/>
<ellipse cx="339.6" cy="202.0" rx="4.7" ry="3.85"/>
<ellipse cx="342.5" cy="201.8" rx="4.7" ry="3.85"/>
<ellipse cx="345.8" cy="201.8" rx="4.7" ry="3.85"/>
<ellipse cx="346.4" cy="201.8" rx="4.7" ry="3.85"/>
<ellipse cx="350.3" cy="201.0" rx="4.7" ry="3.85"/>
<ellipse cx="352.1" cy="201.1" rx="4.7" ry="3.85"/>
<ellipse cx="353.5" cy="202.3" rx="4.7" ry="3.85"/>
<ellipse cx="323.9" cy="202.6" rx="4.7" ry="3.85"/>
<ellipse cx="326.4" cy="203.1" rx="4.7" ry="3.85"/>
<ellipse cx="327.5" cy="203.6" rx="4.7" ry="3.85"/>
<ellipse cx="330.1" cy="202.4" rx="4.7" ry="3.85"/>
<ellipse cx="332.8" cy="203.1" rx="4.7" ry="3.85"/>
<ellipse cx="333.9" cy="204.0" rx="4.7" ry="3.85"/>
<ellipse cx="337.8" cy="204.3" rx="4.7" ry="3.85"/>
<ellipse cx="339.3" cy="202.8" rx="4.7" ry="3.85"/>
<ellipse cx="342.1" cy="203.3" rx="4.7" ry="3.85"/>
<ellipse cx="343.0" cy="203.2" rx="4.7" ry="3.85"/>
<ellipse cx="346.4" cy="203.4" rx="4.7" ry="3.85"/>
<ellipse cx="347.7" cy="202.8" rx="4.7" ry="3.85"/>
<ellipse cx="351.5" cy="202.7" rx="4.7" ry="3.85"/>
<ellipse cx="352.1" cy="203.5" rx="4.7" ry="3.85"/>
<ellipse cx="355.0" cy="204.2" rx="4.7" ry="3.85"/>
<ellipse cx="324.2" cy="204.6" rx="4.7" ry="3.85"/>
<ellipse cx="325.9" cy="205.7" rx="4.7" ry="3.85"/>
<ellipse cx="328.0" cy="205.2" rx="4.7" ry="3.85"/>
<ellipse cx="331.3" cy="205.7" rx="4.7" ry="3.85"/>
<ellipse cx="333.4" cy="204.2" rx="4.7" ry="3.85"/>
<ellipse cx="335.0" cy="205.4" rx="4.7" ry="3.85"/>
<ellipse cx="338.3" cy="204.8" rx="4.7" ry="3.85"/>
<ellipse cx="340.7" cy="204.4" rx="4.7" ry="3.85"/>
<ellipse cx="343.6" cy="204.8" rx="4.7" ry="3.85"/>
<ellipse cx="345.8" cy="205.1" rx="4.7" ry="3.85"/>
<ellipse cx="346.5" cy="205.9" rx="4.7" ry="3.85"/>
<ellipse cx="349.6" cy="205.2" rx="4.7" ry="3.85"/>
<ellipse cx="351.8" cy="204.4" rx="4.7" ry="3.85"/>
<ellipse cx="354.2" cy="204.8" rx="4.7" ry="3.85"/>
<ellipse cx="324.7" cy="206.4" rx="4.7" ry="3.85"/>
<ellipse cx="327.8" cy="207.8" rx="4.7" ry="3.85"/>
<ellipse cx="331.0" cy="206.9" rx="4.7" ry="3.85"/>
<ellipse cx="332.5" cy="207.4" rx="4.7" ry="3.85"/>
<ellipse cx="335.2" cy="206.2" rx="4.7" ry="3.85"/>
<ellipse cx="336.0" cy="206.7" rx="4.7" ry="3.85"/>
<ellipse cx="338.8" cy="207.8" rx="4.7" ry="3.85"/>
<ellipse cx="341.7" cy="206.4" rx="4.7" ry="3.85"/>
<ellipse cx="344.4" cy="207.4" rx="4.7" ry="3.85"/>
<ellipse cx="345.6" cy="207.2" rx="4.7" ry="3.85"/>
<ellipse cx="347.5" cy="207.2" rx="4.7" ry="3.85"/>
<ellipse cx="351.4" cy="206.6" rx="4.7" ry="3.85"/>
<ellipse cx="353.0" cy="207.8" rx="4.7" ry="3.85"/>
<ellipse cx="327.0" cy="208.1" rx="4.7" ry="3.85"/>
<ellipse cx="328.2" cy="208.2" rx="4.7" ry="3.85"/>
<ellipse cx="330.9" cy="209.8" rx="4.7" ry="3.85"/>
<ellipse cx="334.1" cy="208.8" rx="4.7" ry="3.85"/>
<ellipse cx="336.4" cy="209.6" rx="4.7" ry="3.85"/>
<ellipse cx="338.4" cy="208.2" rx="4.7" ry="3.85"/>
<ellipse cx="341.1" cy="209.4" rx="4.7" ry="3.85"/>
<ellipse cx="343.2" cy="208.5" rx="4.7" ry="3.85"/>
<ellipse cx="346.0" cy="209.2" rx="4.7" ry="3.85"/>
<ellipse cx="346.5" cy="209.5" rx="4.7" ry="3.85"/>
<ellipse cx="350.4" cy="209.3" rx="4.7" ry="3.85"/>
<ellipse cx="352.5" cy="209.0" rx="4.7" ry="3.85"/>
<ellipse cx="354.9" cy="209.4" rx="4.7" ry="3.85"/>
<ellipse cx="325.5" cy="211.6" rx="4.7" ry="3.85"/>
<ellipse cx="328.7" cy="211.2" rx="4.7" ry="3.85"/>
<ellipse cx="330.8" cy="210.1" rx="4.7" ry="3.85"/>
<ellipse cx="332.3" cy="210.1" rx="4.7" ry="3.85"/>
<ellipse cx="335.5" cy="211.0" rx="4.7" ry="3.85"/>
<ellipse cx="336.7" cy="211.2" rx="4.7" ry="3.85"/>
<ellipse cx="339.6" cy="211.6" rx="4.7" ry="3.85"/>
<ellipse cx="341.4" cy="209.8" rx="4.7" ry="3.85"/>
<ellipse cx="344.5" cy="210.3" rx="4.7" ry="3.85"/>
<ellipse cx="346.8" cy="211.2" rx="4.7" ry="3.85"/>
<ellipse cx="348.4" cy="209.6" rx="4.7" ry="3.85"/>
<ellipse cx="351.4" cy="210.5" rx="4.7" ry="3.85"/>
<ellipse cx="353.0" cy="210.3" rx="4.7" ry="3.85"/>
<ellipse cx="355.0" cy="211.4" rx="4.7" ry="3.85"/>
<ellipse cx="326.5" cy="212.8" rx="4.7" ry="3.85"/>
<ellipse cx="328.1" cy="212.9" rx="4.7" ry="3.85"/>
<ellipse cx="331.9" cy="211.8" rx="4.7" ry="3.85"/>
<ellipse cx="334.4" cy="212.2" rx="4.7" ry="3.85"/>
<ellipse cx="336.6" cy="212.7" rx="4.7" ry="3.85"/>
<ellipse cx="337.9" cy="212.5" rx="4.7" ry="3.85"/>
<ellipse cx="340.4" cy="213.5" rx="4.7" ry="3.85"/>
<ellipse cx="343.4" cy="211.8" rx="4.7" ry="3.85"/>
<ellipse cx="344.0" cy="211.8" rx="4.7" ry="3.85"/>
<ellipse cx="347.2" cy="213.1" rx="4.7" ry="3.85"/>
<ellipse cx="349.3" cy="211.7" rx="4.7" ry="3.85"/>
<ellipse cx="352.6" cy="212.5" rx="4.7" ry="3.85"/>
<ellipse cx="355.1" cy="213.3" rx="4.7" ry="3.85"/>
<ellipse cx="327.5" cy="214.7" rx="4.7" ry="3.85"/>
<ellipse cx="329.8" cy="214.4" rx="4.7" ry="3.85"/>
<ellipse cx="333.2" cy="214.3" rx="4.7" ry="3.85"/>
<ellipse cx="335.6" cy="213.4" rx="4.7" ry="3.85"/>
<ellipse cx="337.3" cy="214.4" rx="4.7" ry="3.85"/>
<ellipse cx="339.8" cy="215.1" rx="4.7" ry="3.85"/>
<ellipse cx="342.1" cy="213.4" rx="4.7" ry="3.85"/>
<ellipse cx="343.1" cy="215.3" rx="4.7" ry="3.85"/>
<ellipse cx="345.4" cy="214.5" rx="4.7" ry="3.85"/>
<ellipse cx="347.5" cy="214.1" rx="4.7" ry="3.85"/>
<ellipse cx="351.0" cy="213.9" rx="4.7" ry="3.85"/>
<ellipse cx="352.6" cy="214.4" rx="4.7" ry="3.85"/>
<ellipse cx="323.2" cy="172.6" rx="4.7" ry="3.85"/>
<ellipse cx="334.8" cy="172.7" rx="4.7" ry="3.85"/>
<ellipse cx="347.1" cy="173.4" rx="4.7" ry="3.85"/>
<ellipse cx="348.4" cy="173.3" rx="4.7" ry="3.85"/>
<ellipse cx="324.1" cy="175.6" rx="4.7" ry="3.85"/>
<ellipse cx="328.4" cy="174.1" rx="4.7" ry="3.85"/>
<ellipse cx="331.6" cy="174.6" rx="4.7" ry="3.85"/>
<ellipse cx="334.7" cy="175.4" rx="4.7" ry="3.85"/>
<ellipse cx="337.0" cy="175.9" rx="4.7" ry="3.85"/>
<ellipse cx="340.1" cy="175.0" rx="4.7" ry="3.85"/>
<ellipse cx="350.0" cy="173.9" rx="4.7" ry="3.85"/>
<ellipse cx="354.1" cy="175.4" rx="4.7" ry="3.85"/>
<ellipse cx="357.0" cy="175.6" rx="4.7" ry="3.85"/>
<ellipse cx="323.2" cy="178.1" rx="4.7" ry="3.85"/>
<ellipse cx="327.2" cy="178.0" rx="4.7" ry="3.85"/>
<ellipse cx="328.9" cy="178.2" rx="4.7" ry="3.85"/>
<ellipse cx="331.6" cy="178.4" rx="4.7" ry="3.85"/>
<ellipse cx="338.0" cy="176.8" rx="4.7" ry="3.85"/>
<ellipse cx="346.2" cy="177.5" rx="4.7" ry="3.85"/>
<ellipse cx="353.2" cy="178.3" rx="4.7" ry="3.85"/>
<ellipse cx="356.1" cy="178.0" rx="4.7" ry="3.85"/>
<ellipse cx="323.2" cy="180.5" rx="4.7" ry="3.85"/>
<ellipse cx="327.9" cy="179.3" rx="4.7" ry="3.85"/>
<ellipse cx="331.2" cy="180.9" rx="4.7" ry="3.85"/>
<ellipse cx="333.3" cy="179.1" rx="4.7" ry="3.85"/>
<ellipse cx="340.3" cy="180.5" rx="4.7" ry="3.85"/>
<ellipse cx="345.1" cy="179.4" rx="4.7" ry="3.85"/>
<ellipse cx="347.7" cy="178.8" rx="4.7" ry="3.85"/>
<ellipse cx="349.3" cy="179.8" rx="4.7" ry="3.85"/>
<ellipse cx="356.1" cy="179.1" rx="4.7" ry="3.85"/>
<ellipse cx="326.8" cy="182.7" rx="4.7" ry="3.85"/>
<ellipse cx="330.0" cy="181.2" rx="4.7" ry="3.85"/>
<ellipse cx="332.3" cy="181.3" rx="4.7" ry="3.85"/>
<ellipse cx="336.5" cy="182.8" rx="4.7" ry="3.85"/>
<ellipse cx="339.1" cy="182.8" rx="4.7" ry="3.85"/>
<ellipse cx="347.7" cy="182.5" rx="4.7" ry="3.85"/>
<ellipse cx="352.2" cy="183.1" rx="4.7" ry="3.85"/>
<ellipse cx="355.5" cy="182.1" rx="4.7" ry="3.85"/>
<ellipse cx="358.6" cy="181.9" rx="4.7" ry="3.85"/>
<ellipse cx="324.9" cy="184.3" rx="4.7" ry="3.85"/>
<ellipse cx="334.8" cy="185.9" rx="4.7" ry="3.85"/>
<ellipse cx="341.4" cy="185.6" rx="4.7" ry="3.85"/>
<ellipse cx="343.6" cy="184.2" rx="4.7" ry="3.85"/>
<ellipse cx="348.8" cy="184.6" rx="4.7" ry="3.85"/>
<ellipse cx="354.9" cy="185.1" rx="4.7" ry="3.85"/>
<ellipse cx="356.1" cy="184.2" rx="4.7" ry="3.85"/>
<ellipse cx="322.5" cy="188.8" rx="4.7" ry="3.85"/>
<ellipse cx="324.7" cy="188.0" rx="4.7" ry="3.85"/>
<ellipse cx="328.3" cy="187.1" rx="4.7" ry="3.85"/>
<ellipse cx="337.2" cy="187.7" rx="4.7" ry="3.85"/>
<ellipse cx="341.3" cy="186.4" rx="4.7" ry="3.85"/>
<ellipse cx="346.0" cy="187.5" rx="4.7" ry="3.85"/>
<ellipse cx="350.0" cy="188.7" rx="4.7" ry="3.85"/>
<ellipse cx="350.9" cy="189.0" rx="4.7" ry="3.85"/>
<ellipse cx="354.3" cy="187.3" rx="4.7" ry="3.85"/>
<ellipse cx="323.9" cy="189.3" rx="4.7" ry="3.85"/>
<ellipse cx="326.4" cy="189.6" rx="4.7" ry="3.85"/>
<ellipse cx="331.1" cy="190.9" rx="4.7" ry="3.85"/>
<ellipse cx="334.0" cy="189.2" rx="4.7" ry="3.85"/>
<ellipse cx="336.1" cy="190.4" rx="4.7" ry="3.85"/>
<ellipse cx="341.3" cy="191.1" rx="4.7" ry="3.85"/>
<ellipse cx="344.5" cy="191.1" rx="4.7" ry="3.85"/>
<ellipse cx="346.3" cy="191.7" rx="4.7" ry="3.85"/>
<ellipse cx="353.1" cy="190.2" rx="4.7" ry="3.85"/>
<ellipse cx="358.2" cy="190.9" rx="4.7" ry="3.85"/>
<ellipse cx="320.7" cy="194.0" rx="4.7" ry="3.85"/>
<ellipse cx="329.6" cy="194.4" rx="4.7" ry="3.85"/>
<ellipse cx="331.5" cy="191.7" rx="4.7" ry="3.85"/>
<ellipse cx="334.6" cy="194.5" rx="4.7" ry="3.85"/>
<ellipse cx="338.2" cy="194.0" rx="4.7" ry="3.85"/>
<ellipse cx="342.4" cy="191.9" rx="4.7" ry="3.85"/>
<ellipse cx="346.9" cy="194.4" rx="4.7" ry="3.85"/>
<ellipse cx="352.3" cy="193.5" rx="4.7" ry="3.85"/>
<ellipse cx="356.5" cy="191.9" rx="4.7" ry="3.85"/>
<ellipse cx="359.0" cy="192.5" rx="4.7" ry="3.85"/>
<ellipse cx="324.1" cy="194.6" rx="4.7" ry="3.85"/>
<ellipse cx="326.7" cy="195.5" rx="4.7" ry="3.85"/>
<ellipse cx="332.3" cy="195.9" rx="4.7" ry="3.85"/>
<ellipse cx="338.5" cy="194.6" rx="4.7" ry="3.85"/>
<ellipse cx="340.2" cy="196.5" rx="4.7" ry="3.85"/>
<ellipse cx="344.4" cy="197.2" rx="4.7" ry="3.85"/>
<ellipse cx="345.9" cy="194.5" rx="4.7" ry="3.85"/>
<ellipse cx="351.2" cy="196.1" rx="4.7" ry="3.85"/>
<ellipse cx="353.8" cy="195.5" rx="4.7" ry="3.85"/>
<ellipse cx="357.7" cy="197.0" rx="4.7" ry="3.85"/>
<ellipse cx="320.3" cy="199.0" rx="4.7" ry="3.85"/>
<ellipse cx="323.1" cy="199.4" rx="4.7" ry="3.85"/>
<ellipse cx="329.0" cy="199.0" rx="4.7" ry="3.85"/>
<ellipse cx="331.9" cy="197.9" rx="4.7" ry="3.85"/>
<ellipse cx="339.6" cy="199.7" rx="4.7" ry="3.85"/>
<ellipse cx="343.4" cy="199.9" rx="4.7" ry="3.85"/>
<ellipse cx="345.0" cy="197.7" rx="4.7" ry="3.85"/>
<ellipse cx="353.6" cy="197.9" rx="4.7" ry="3.85"/>
<ellipse cx="356.4" cy="199.6" rx="4.7" ry="3.85"/>
<ellipse cx="323.2" cy="201.1" rx="4.7" ry="3.85"/>
<ellipse cx="327.7" cy="202.3" rx="4.7" ry="3.85"/>
<ellipse cx="332.9" cy="200.2" rx="4.7" ry="3.85"/>
<ellipse cx="338.7" cy="199.6" rx="4.7" ry="3.85"/>
<ellipse cx="341.4" cy="202.5" rx="4.7" ry="3.85"/>
<ellipse cx="343.9" cy="201.6" rx="4.7" ry="3.85"/>
<ellipse cx="348.1" cy="201.8" rx="4.7" ry="3.85"/>
<ellipse cx="349.9" cy="199.6" rx="4.7" ry="3.85"/>
<ellipse cx="357.7" cy="201.3" rx="4.7" ry="3.85"/>
<ellipse cx="316.3" cy="204.3" rx="4.7" ry="3.85"/>
<ellipse cx="318.0" cy="202.4" rx="4.7" ry="3.85"/>
<ellipse cx="322.2" cy="202.6" rx="4.7" ry="3.85"/>
<ellipse cx="325.9" cy="205.1" rx="4.7" ry="3.85"/>
<ellipse cx="328.5" cy="204.5" rx="4.7" ry="3.85"/>
<ellipse cx="331.3" cy="203.1" rx="4.7" ry="3.85"/>
<ellipse cx="336.4" cy="203.5" rx="4.7" ry="3.85"/>
<ellipse cx="337.9" cy="205.0" rx="4.7" ry="3.85"/>
<ellipse cx="349.5" cy="203.0" rx="4.7" ry="3.85"/>
<ellipse cx="351.4" cy="204.9" rx="4.7" ry="3.85"/>
<ellipse cx="356.1" cy="203.9" rx="4.7" ry="3.85"/>
<ellipse cx="358.0" cy="202.6" rx="4.7" ry="3.85"/>
<ellipse cx="319.1" cy="206.0" rx="4.7" ry="3.85"/>
<ellipse cx="321.2" cy="205.5" rx="4.7" ry="3.85"/>
<ellipse cx="322.8" cy="207.4" rx="4.7" ry="3.85"/>
<ellipse cx="328.9" cy="205.9" rx="4.7" ry="3.85"/>
<ellipse cx="329.8" cy="207.2" rx="4.7" ry="3.85"/>
<ellipse cx="333.8" cy="206.4" rx="4.7" ry="3.85"/>
<ellipse cx="336.7" cy="207.2" rx="4.7" ry="3.85"/>
<ellipse cx="340.4" cy="207.1" rx="4.7" ry="3.85"/>
<ellipse cx="343.1" cy="205.5" rx="4.7" ry="3.85"/>
<ellipse cx="347.0" cy="206.7" rx="4.7" ry="3.85"/>
<ellipse cx="351.7" cy="205.0" rx="4.7" ry="3.85"/>
<ellipse cx="354.9" cy="205.5" rx="4.7" ry="3.85"/>
<ellipse cx="357.1" cy="205.2" rx="4.7" ry="3.85"/>
<ellipse cx="318.2" cy="208.9" rx="4.7" ry="3.85"/>
<ellipse cx="321.8" cy="208.8" rx="4.7" ry="3.85"/>
<ellipse cx="324.6" cy="208.5" rx="4.7" ry="3.85"/>
<ellipse cx="330.5" cy="209.1" rx="4.7" ry="3.85"/>
<ellipse cx="331.7" cy="209.7" rx="4.7" ry="3.85"/>
<ellipse cx="337.9" cy="210.3" rx="4.7" ry="3.85"/>
<ellipse cx="344.8" cy="207.7" rx="4.7" ry="3.85"/>
<ellipse cx="350.3" cy="208.8" rx="4.7" ry="3.85"/>
<ellipse cx="351.0" cy="208.8" rx="4.7" ry="3.85"/>
<ellipse cx="354.7" cy="209.4" rx="4.7" ry="3.85"/>
<ellipse cx="357.8" cy="210.4" rx="4.7" ry="3.85"/>
<ellipse cx="321.4" cy="211.6" rx="4.7" ry="3.85"/>
<ellipse cx="324.2" cy="212.3" rx="4.7" ry="3.85"/>
<ellipse cx="326.8" cy="211.6" rx="4.7" ry="3.85"/>
<ellipse cx="337.1" cy="212.8" rx="4.7" ry="3.85"/>
<ellipse cx="342.8" cy="210.8" rx="4.7" ry="3.85"/>
<ellipse cx="347.2" cy="210.5" rx="4.7" ry="3.85"/>
<ellipse cx="353.7" cy="212.1" rx="4.7" ry="3.85"/>
<ellipse cx="358.6" cy="210.8" rx="4.7" ry="3.85"/>
<ellipse cx="319.3" cy="215.7" rx="4.7" ry="3.85"/>
<ellipse cx="321.8" cy="215.2" rx="4.7" ry="3.85"/>
<ellipse cx="327.4" cy="214.1" rx="4.7" ry="3.85"/>
<ellipse cx="330.6" cy="213.7" rx="4.7" ry="3.85"/>
<ellipse cx="332.0" cy="214.7" rx="4.7" ry="3.85"/>
<ellipse cx="337.6" cy="214.6" rx="4.7" ry="3.85"/>
<ellipse cx="342.3" cy="214.4" rx="4.7" ry="3.85"/>
<ellipse cx="344.6" cy="213.5" rx="4.7" ry="3.85"/>
<ellipse cx="350.4" cy="213.2" rx="4.7" ry="3.85"/>
<ellipse cx="354.3" cy="213.5" rx="4.7" ry="3.85"/>
<ellipse cx="359.2" cy="214.1" rx="4.7" ry="3.85"/>
<ellipse cx="339.8" cy="171.6" rx="4.7" ry="3.85"/>
<ellipse cx="352.7" cy="172.7" rx="4.7" ry="3.85"/>
<ellipse cx="353.8" cy="172.5" rx="4.7" ry="3.85"/>
<ellipse cx="358.4" cy="171.7" rx="4.7" ry="3.85"/>
<ellipse cx="320.4" cy="175.5" rx="4.7" ry="3.85"/>
<ellipse cx="323.8" cy="175.0" rx="4.7" ry="3.85"/>
<ellipse cx="333.4" cy="173.4" rx="4.7" ry="3.85"/>
<ellipse cx="338.2" cy="173.3" rx="4.7" ry="3.85"/>
<ellipse cx="342.4" cy="175.9" rx="4.7" ry="3.85"/>
<ellipse cx="345.8" cy="173.8" rx="4.7" ry="3.85"/>
<ellipse cx="350.1" cy="173.0" rx="4.7" ry="3.85"/>
<ellipse cx="352.2" cy="173.5" rx="4.7" ry="3.85"/>
<ellipse cx="356.1" cy="174.0" rx="4.7" ry="3.85"/>
<ellipse cx="315.8" cy="178.4" rx="4.7" ry="3.85"/>
<ellipse cx="327.3" cy="178.3" rx="4.7" ry="3.85"/>
<ellipse cx="331.0" cy="179.5" rx="4.7" ry="3.85"/>
<ellipse cx="335.4" cy="177.0" rx="4.7" ry="3.85"/>
<ellipse cx="344.2" cy="178.1" rx="4.7" ry="3.85"/>
<ellipse cx="345.2" cy="177.9" rx="4.7" ry="3.85"/>
<ellipse cx="350.3" cy="176.1" rx="4.7" ry="3.85"/>
<ellipse cx="354.2" cy="178.5" rx="4.7" ry="3.85"/>
<ellipse cx="358.6" cy="176.8" rx="4.7" ry="3.85"/>
<ellipse cx="314.9" cy="181.2" rx="4.7" ry="3.85"/>
<ellipse cx="319.4" cy="181.0" rx="4.7" ry="3.85"/>
<ellipse cx="322.2" cy="179.5" rx="4.7" ry="3.85"/>
<ellipse cx="326.6" cy="181.5" rx="4.7" ry="3.85"/>
<ellipse cx="331.4" cy="182.2" rx="4.7" ry="3.85"/>
<ellipse cx="335.9" cy="181.0" rx="4.7" ry="3.85"/>
<ellipse cx="342.3" cy="181.3" rx="4.7" ry="3.85"/>
<ellipse cx="343.6" cy="181.8" rx="4.7" ry="3.85"/>
<ellipse cx="354.4" cy="179.5" rx="4.7" ry="3.85"/>
<ellipse cx="362.8" cy="180.1" rx="4.7" ry="3.85"/>
<ellipse cx="318.1" cy="183.5" rx="4.7" ry="3.85"/>
<ellipse cx="321.5" cy="184.6" rx="4.7" ry="3.85"/>
<ellipse cx="324.2" cy="185.3" rx="4.7" ry="3.85"/>
<ellipse cx="329.4" cy="185.0" rx="4.7" ry="3.85"/>
<ellipse cx="334.8" cy="186.0" rx="4.7" ry="3.85"/>
<ellipse cx="337.9" cy="185.1" rx="4.7" ry="3.85"/>
<ellipse cx="352.3" cy="183.7" rx="4.7" ry="3.85"/>
<ellipse cx="356.2" cy="182.8" rx="4.7" ry="3.85"/>
<ellipse cx="358.0" cy="182.7" rx="4.7" ry="3.85"/>
<ellipse cx="315.6" cy="187.3" rx="4.7" ry="3.85"/>
<ellipse cx="319.8" cy="188.8" rx="4.7" ry="3.85"/>
<ellipse cx="322.3" cy="187.4" rx="4.7" ry="3.85"/>
<ellipse cx="327.2" cy="188.4" rx="4.7" ry="3.85"/>
<ellipse cx="331.6" cy="187.7" rx="4.7" ry="3.85"/>
<ellipse cx="337.5" cy="187.3" rx="4.7" ry="3.85"/>
<ellipse cx="342.3" cy="189.4" rx="4.7" ry="3.85"/>
<ellipse cx="343.4" cy="187.6" rx="4.7" ry="3.85"/>
<ellipse cx="354.8" cy="186.4" rx="4.7" ry="3.85"/>
<ellipse cx="358.0" cy="187.0" rx="4.7" ry="3.85"/>
<ellipse cx="362.6" cy="188.8" rx="4.7" ry="3.85"/>
<ellipse cx="318.6" cy="189.8" rx="4.7" ry="3.85"/>
<ellipse cx="320.2" cy="189.9" rx="4.7" ry="3.85"/>
<ellipse cx="327.3" cy="189.9" rx="4.7" ry="3.85"/>
<ellipse cx="331.2" cy="190.9" rx="4.7" ry="3.85"/>
<ellipse cx="337.2" cy="190.3" rx="4.7" ry="3.85"/>
<ellipse cx="344.3" cy="192.7" rx="4.7" ry="3.85"/>
<ellipse cx="348.7" cy="191.6" rx="4.7" ry="3.85"/>
<ellipse cx="351.1" cy="192.0" rx="4.7" ry="3.85"/>
<ellipse cx="358.1" cy="192.3" rx="4.7" ry="3.85"/>
<ellipse cx="362.8" cy="190.2" rx="4.7" ry="3.85"/>
<ellipse cx="312.6" cy="193.8" rx="4.7" ry="3.85"/>
<ellipse cx="316.4" cy="193.9" rx="4.7" ry="3.85"/>
<ellipse cx="335.6" cy="194.0" rx="4.7" ry="3.85"/>
<ellipse cx="340.1" cy="194.1" rx="4.7" ry="3.85"/>
<ellipse cx="343.9" cy="196.1" rx="4.7" ry="3.85"/>
<ellipse cx="362.9" cy="193.6" rx="4.7" ry="3.85"/>
<ellipse cx="312.8" cy="199.1" rx="4.7" ry="3.85"/>
<ellipse cx="320.4" cy="199.5" rx="4.7" ry="3.85"/>
<ellipse cx="326.7" cy="198.5" rx="4.7" ry="3.85"/>
<ellipse cx="331.6" cy="198.1" rx="4.7" ry="3.85"/>
<ellipse cx="340.0" cy="196.8" rx="4.7" ry="3.85"/>
<ellipse cx="341.9" cy="196.4" rx="4.7" ry="3.85"/>
<ellipse cx="345.2" cy="199.0" rx="4.7" ry="3.85"/>
<ellipse cx="349.6" cy="196.2" rx="4.7" ry="3.85"/>
<ellipse cx="354.3" cy="197.7" rx="4.7" ry="3.85"/>
<ellipse cx="360.7" cy="199.6" rx="4.7" ry="3.85"/>
<ellipse cx="315.8" cy="199.8" rx="4.7" ry="3.85"/>
<ellipse cx="320.9" cy="201.3" rx="4.7" ry="3.85"/>
<ellipse cx="323.6" cy="202.7" rx="4.7" ry="3.85"/>
<ellipse cx="327.0" cy="200.7" rx="4.7" ry="3.85"/>
<ellipse cx="334.0" cy="202.0" rx="4.7" ry="3.85"/>
<ellipse cx="338.1" cy="199.5" rx="4.7" ry="3.85"/>
<ellipse cx="340.4" cy="202.1" rx="4.7" ry="3.85"/>
<ellipse cx="350.2" cy="200.7" rx="4.7" ry="3.85"/>
<ellipse cx="354.2" cy="202.4" rx="4.7" ry="3.85"/>
<ellipse cx="358.9" cy="203.1" rx="4.7" ry="3.85"/>
<ellipse cx="308.6" cy="205.5" rx="4.7" ry="3.85"/>
<ellipse cx="313.6" cy="204.6" rx="4.7" ry="3.85"/>
<ellipse cx="322.0" cy="205.7" rx="4.7" ry="3.85"/>
<ellipse cx="333.3" cy="202.8" rx="4.7" ry="3.85"/>
<ellipse cx="342.8" cy="206.2" rx="4.7" ry="3.85"/>
<ellipse cx="350.9" cy="205.0" rx="4.7" ry="3.85"/>
<ellipse cx="354.6" cy="204.3" rx="4.7" ry="3.85"/>
<ellipse cx="359.5" cy="203.1" rx="4.7" ry="3.85"/>
<ellipse cx="363.2" cy="205.4" rx="4.7" ry="3.85"/>
<ellipse cx="306.1" cy="207.0" rx="4.7" ry="3.85"/>
<ellipse cx="314.4" cy="208.3" rx="4.7" ry="3.85"/>
<ellipse cx="320.6" cy="208.8" rx="4.7" ry="3.85"/>
<ellipse cx="326.4" cy="209.6" rx="4.7" ry="3.85"/>
<ellipse cx="337.2" cy="206.6" rx="4.7" ry="3.85"/>
<ellipse cx="341.2" cy="209.8" rx="4.7" ry="3.85"/>
<ellipse cx="345.9" cy="207.0" rx="4.7" ry="3.85"/>
<ellipse cx="347.8" cy="207.6" rx="4.7" ry="3.85"/>
<ellipse cx="352.6" cy="206.7" rx="4.7" ry="3.85"/>
<ellipse cx="355.9" cy="206.8" rx="4.7" ry="3.85"/>
<ellipse cx="361.7" cy="206.8" rx="4.7" ry="3.85"/>
<ellipse cx="309.1" cy="213.0" rx="4.7" ry="3.85"/>
<ellipse cx="312.3" cy="211.7" rx="4.7" ry="3.85"/>
<ellipse cx="316.3" cy="209.7" rx="4.7" ry="3.85"/>
<ellipse cx="323.6" cy="211.0" rx="4.7" ry="3.85"/>
<ellipse cx="325.7" cy="210.8" rx="4.7" ry="3.85"/>
<ellipse cx="339.5" cy="210.8" rx="4.7" ry="3.85"/>
<ellipse cx="344.4" cy="210.9" rx="4.7" ry="3.85"/>
<ellipse cx="346.2" cy="211.5" rx="4.7" ry="3.85"/>
<ellipse cx="352.1" cy="213.0" rx="4.7" ry="3.85"/>
<ellipse cx="359.9" cy="212.0" rx="4.7" ry="3.85"/>
<ellipse cx="306.7" cy="213.5" rx="4.7" ry="3.85"/>
<ellipse cx="312.8" cy="215.8" rx="4.7" ry="3.85"/>
<ellipse cx="314.8" cy="214.6" rx="4.7" ry="3.85"/>
<ellipse cx="319.2" cy="216.2" rx="4.7" ry="3.85"/>
<ellipse cx="324.0" cy="216.3" rx="4.7" ry="3.85"/>
<ellipse cx="328.0" cy="214.0" rx="4.7" ry="3.85"/>
<ellipse cx="332.7" cy="215.8" rx="4.7" ry="3.85"/>
<ellipse cx="336.0" cy="214.3" rx="4.7" ry="3.85"/>
<ellipse cx="342.3" cy="214.8" rx="4.7" ry="3.85"/>
<ellipse cx="344.3" cy="215.9" rx="4.7" ry="3.85"/>
<ellipse cx="349.8" cy="212.9" rx="4.7" ry="3.85"/>
<ellipse cx="351.6" cy="215.8" rx="4.7" ry="3.85"/>
<ellipse cx="356.5" cy="213.0" rx="4.7" ry="3.85"/>
<ellipse cx="313.2" cy="216.9" rx="4.7" ry="3.85"/>
<ellipse cx="319.0" cy="217.6" rx="4.7" ry="3.85"/>
<ellipse cx="323.2" cy="219.0" rx="4.7" ry="3.85"/>
<ellipse cx="327.8" cy="216.3" rx="4.7" ry="3.85"/>
<ellipse cx="328.8" cy="216.2" rx="4.7" ry="3.85"/>
<ellipse cx="334.9" cy="216.6" rx="4.7" ry="3.85"/>
<ellipse cx="337.4" cy="218.5" rx="4.7" ry="3.85"/>
<ellipse cx="346.8" cy="217.6" rx="4.7" ry="3.85"/>
<ellipse cx="357.3" cy="218.8" rx="4.7" ry="3.85"/>
<ellipse cx="358.4" cy="216.7" rx="4.7" ry="3.85"/>
</g>
<g fill="#1f8a80" fill-opacity="0.6" stroke="#1f8a80" stroke-opacity="0.6" stroke-width="0.5">
<ellipse cx="282.0" cy="86.8" rx="4.7" ry="3.85"/>
<ellipse cx="283.3" cy="86.8" rx="4.7" ry="3.85"/>
<ellipse cx="284.6" cy="86.8" rx="4.7" ry="3.85"/>
<ellipse cx="285.9" cy="86.8" rx="4.7" ry="3.85"/>
<ellipse cx="287.3" cy="86.8" rx="4.7" ry="3.85"/>
<ellipse cx="288.6" cy="86.8" rx="4.7" ry="3.85"/>
<ellipse cx="289.9" cy="86.8" rx="4.7" ry="3.85"/>
<ellipse cx="291.2" cy="86.8" rx="4.7" ry="3.85"/>
<ellipse cx="292.5" cy="86.8" rx="4.7" ry="3.85"/>
<ellipse cx="293.8" cy="86.8" rx="4.7" ry="3.85"/>
<ellipse cx="295.1" cy="86.8" rx="4.7" ry="3.85"/>
<ellipse cx="296.5" cy="86.8" rx="4.7" ry="3.85"/>
<ellipse cx="297.8" cy="86.8" rx="4.7" ry="3.85"/>
<ellipse cx="299.1" cy="86.8" rx="4.7" ry="3.85"/>
<ellipse cx="300.4" cy="86.8" rx="4.7" ry="3.85"/>
<ellipse cx="301.7" cy="86.8" rx="4.7" ry="3.85"/>
<ellipse cx="303.0" cy="86.8" rx="4.7" ry="3.85"/>
<ellipse cx="304.3" cy="86.8" rx="4.7" ry="3.85"/>
<ellipse cx="305.7" cy="86.8" rx="4.7" ry="3.85"/>
<ellipse cx="307.0" cy="86.8" rx="4.7" ry="3.85"/>
<ellipse cx="308.3" cy="86.8" rx="4.7" ry="3.85"/>
<ellipse cx="309.6" cy="86.8" rx="4.7" ry="3.85"/>
<ellipse cx="310.9" cy="86.8" rx="4.7" ry="3.85"/>
<ellipse cx="312.2" cy="86.8" rx="4.7" ry="3.85"/>
<ellipse cx="313.5" cy="86.8" rx="4.7" ry="3.85"/>
<ellipse cx="314.8" cy="86.8" rx="4.7" ry="3.85"/>
<ellipse cx="316.2" cy="86.8" rx="4.7" ry="3.85"/>
<ellipse cx="317.5" cy="86.8" rx="4.7" ry="3.85"/>
<ellipse cx="318.8" cy="86.8" rx="4.7" ry="3.85"/>
<ellipse cx="320.1" cy="86.8" rx="4.7" ry="3.85"/>
<ellipse cx="321.4" cy="86.8" rx="4.7" ry="3.85"/>
<ellipse cx="322.7" cy="86.8" rx="4.7" ry="3.85"/>
<ellipse cx="324.0" cy="86.8" rx="4.7" ry="3.85"/>
<ellipse cx="325.4" cy="86.8" rx="4.7" ry="3.85"/>
<ellipse cx="326.7" cy="86.8" rx="4.7" ry="3.85"/>
<ellipse cx="328.0" cy="86.8" rx="4.7" ry="3.85"/>
<ellipse cx="329.3" cy="86.8" rx="4.7" ry="3.85"/>
<ellipse cx="330.6" cy="86.8" rx="4.7" ry="3.85"/>
<ellipse cx="331.9" cy="86.8" rx="4.7" ry="3.85"/>
<ellipse cx="333.2" cy="86.8" rx="4.7" ry="3.85"/>
<ellipse cx="334.6" cy="86.8" rx="4.7" ry="3.85"/>
<ellipse cx="335.9" cy="86.8" rx="4.7" ry="3.85"/>
<ellipse cx="337.2" cy="86.8" rx="4.7" ry="3.85"/>
<ellipse cx="338.5" cy="86.8" rx="4.7" ry="3.85"/>
<ellipse cx="278.5" cy="86.8" rx="4.7" ry="3.85"/>
<ellipse cx="301.0" cy="96.5" rx="4.7" ry="3.85"/>
<ellipse cx="302.3" cy="96.5" rx="4.7" ry="3.85"/>
<ellipse cx="303.7" cy="96.5" rx="4.7" ry="3.85"/>
<ellipse cx="305.0" cy="96.5" rx="4.7" ry="3.85"/>
<ellipse cx="306.4" cy="96.5" rx="4.7" ry="3.85"/>
<ellipse cx="307.7" cy="96.5" rx="4.7" ry="3.85"/>
<ellipse cx="309.0" cy="96.5" rx="4.7" ry="3.85"/>
<ellipse cx="310.4" cy="96.5" rx="4.7" ry="3.85"/>
<ellipse cx="311.7" cy="96.5" rx="4.7" ry="3.85"/>
<ellipse cx="313.1" cy="96.5" rx="4.7" ry="3.85"/>
<ellipse cx="314.4" cy="96.5" rx="4.7" ry="3.85"/>
<ellipse cx="315.7" cy="96.5" rx="4.7" ry="3.85"/>
<ellipse cx="317.1" cy="96.5" rx="4.7" ry="3.85"/>
<ellipse cx="318.4" cy="96.5" rx="4.7" ry="3.85"/>
<ellipse cx="319.8" cy="96.5" rx="4.7" ry="3.85"/>
<ellipse cx="321.1" cy="96.5" rx="4.7" ry="3.85"/>
<ellipse cx="322.4" cy="96.5" rx="4.7" ry="3.85"/>
<ellipse cx="323.8" cy="96.5" rx="4.7" ry="3.85"/>
<ellipse cx="325.1" cy="96.5" rx="4.7" ry="3.85"/>
<ellipse cx="326.4" cy="96.5" rx="4.7" ry="3.85"/>
<ellipse cx="327.8" cy="96.5" rx="4.7" ry="3.85"/>
<ellipse cx="329.1" cy="96.5" rx="4.7" ry="3.85"/>
<ellipse cx="330.5" cy="96.5" rx="4.7" ry="3.85"/>
<ellipse cx="331.8" cy="96.5" rx="4.7" ry="3.85"/>
<ellipse cx="333.1" cy="96.5" rx="4.7" ry="3.85"/>
<ellipse cx="334.5" cy="96.5" rx="4.7" ry="3.85"/>
<ellipse cx="335.8" cy="96.5" rx="4.7" ry="3.85"/>
<ellipse cx="337.2" cy="96.5" rx="4.7" ry="3.85"/>
<ellipse cx="338.5" cy="96.5" rx="4.7" ry="3.85"/>
<ellipse cx="282.8" cy="96.5" rx="4.7" ry="3.85"/>
<ellipse cx="293.0" cy="96.5" rx="4.7" ry="3.85"/>
<ellipse cx="314.0" cy="103.5" rx="4.7" ry="3.85"/>
<ellipse cx="315.4" cy="103.5" rx="4.7" ry="3.85"/>
<ellipse cx="316.7" cy="103.5" rx="4.7" ry="3.85"/>
<ellipse cx="318.1" cy="103.5" rx="4.7" ry="3.85"/>
<ellipse cx="319.4" cy="103.5" rx="4.7" ry="3.85"/>
<ellipse cx="320.8" cy="103.5" rx="4.7" ry="3.85"/>
<ellipse cx="322.2" cy="103.5" rx="4.7" ry="3.85"/>
<ellipse cx="323.5" cy="103.5" rx="4.7" ry="3.85"/>
<ellipse cx="324.9" cy="103.5" rx="4.7" ry="3.85"/>
<ellipse cx="326.2" cy="103.5" rx="4.7" ry="3.85"/>
<ellipse cx="327.6" cy="103.5" rx="4.7" ry="3.85"/>
<ellipse cx="329.0" cy="103.5" rx="4.7" ry="3.85"/>
<ellipse cx="330.3" cy="103.5" rx="4.7" ry="3.85"/>
<ellipse cx="331.7" cy="103.5" rx="4.7" ry="3.85"/>
<ellipse cx="333.1" cy="103.5" rx="4.7" ry="3.85"/>
<ellipse cx="334.4" cy="103.5" rx="4.7" ry="3.85"/>
<ellipse cx="335.8" cy="103.5" rx="4.7" ry="3.85"/>
<ellipse cx="337.1" cy="103.5" rx="4.7" ry="3.85"/>
<ellipse cx="338.5" cy="103.5" rx="4.7" ry="3.85"/>
<ellipse cx="292.3" cy="103.5" rx="4.7" ry="3.85"/>
<ellipse cx="296.7" cy="103.5" rx="4.7" ry="3.85"/>
<ellipse cx="315.7" cy="108.2" rx="4.7" ry="3.85"/>
<ellipse cx="317.0" cy="108.2" rx="4.7" ry="3.85"/>
<ellipse cx="318.4" cy="108.2" rx="4.7" ry="3.85"/>
<ellipse cx="319.7" cy="108.2" rx="4.7" ry="3.85"/>
<ellipse cx="321.1" cy="108.2" rx="4.7" ry="3.85"/>
<ellipse cx="322.4" cy="108.2" rx="4.7" ry="3.85"/>
<ellipse cx="323.7" cy="108.2" rx="4.7" ry="3.85"/>
<ellipse cx="325.1" cy="108.2" rx="4.7" ry="3.85"/>
<ellipse cx="326.4" cy="108.2" rx="4.7" ry="3.85"/>
<ellipse cx="327.8" cy="108.2" rx="4.7" ry="3.85"/>
<ellipse cx="329.1" cy="108.2" rx="4.7" ry="3.85"/>
<ellipse cx="330.5" cy="108.2" rx="4.7" ry="3.85"/>
<ellipse cx="331.8" cy="108.2" rx="4.7" ry="3.85"/>
<ellipse cx="333.1" cy="108.2" rx="4.7" ry="3.85"/>
<ellipse cx="334.5" cy="108.2" rx="4.7" ry="3.85"/>
<ellipse cx="335.8" cy="108.2" rx="4.7" ry="3.85"/>
<ellipse cx="337.2" cy="108.2" rx="4.7" ry="3.85"/>
<ellipse cx="338.5" cy="108.2" rx="4.7" ry="3.85"/>
<ellipse cx="301.0" cy="108.2" rx="4.7" ry="3.85"/>
<ellipse cx="290.1" cy="113.3" rx="4.7" ry="3.85"/>
<ellipse cx="307.7" cy="126.9" rx="4.7" ry="3.85"/>
<ellipse cx="309.5" cy="126.9" rx="4.7" ry="3.85"/>
<ellipse cx="306.2" cy="145.4" rx="4.7" ry="3.85"/>
<ellipse cx="313.5" cy="146.9" rx="4.7" ry="3.85"/>
<ellipse cx="294.5" cy="163.4" rx="4.7" ry="3.85"/>
<ellipse cx="301.1" cy="162.2" rx="4.7" ry="3.85"/>
<ellipse cx="316.4" cy="159.7" rx="4.7" ry="3.85"/>
<ellipse cx="292.1" cy="104.1" rx="4.7" ry="3.85"/>
<ellipse cx="299.7" cy="107.4" rx="4.7" ry="3.85"/>
<ellipse cx="289.6" cy="112.8" rx="4.7" ry="3.85"/>
<ellipse cx="305.0" cy="114.0" rx="4.7" ry="3.85"/>
<ellipse cx="310.0" cy="118.0" rx="4.7" ry="3.85"/>
<ellipse cx="312.0" cy="133.0" rx="4.7" ry="3.85"/>
<ellipse cx="313.0" cy="152.0" rx="4.7" ry="3.85"/>
<ellipse cx="329.0" cy="157.8" rx="4.7" ry="3.85"/>
<ellipse cx="334.4" cy="135.2" rx="4.7" ry="3.85"/>
<ellipse cx="332.2" cy="150.5" rx="4.7" ry="3.85"/>
<ellipse cx="332.8" cy="132.3" rx="4.7" ry="3.85"/>
<ellipse cx="333.4" cy="148.2" rx="4.7" ry="3.85"/>
<ellipse cx="336.8" cy="108.7" rx="4.7" ry="3.85"/>
<ellipse cx="335.6" cy="100.3" rx="4.7" ry="3.85"/>
<ellipse cx="332.9" cy="139.8" rx="4.7" ry="3.85"/>
<ellipse cx="325.9" cy="165.5" rx="4.7" ry="3.85"/>
<ellipse cx="327.9" cy="128.4" rx="4.7" ry="3.85"/>
<ellipse cx="333.4" cy="159.3" rx="4.7" ry="3.85"/>
<ellipse cx="328.8" cy="125.8" rx="4.7" ry="3.85"/>
<ellipse cx="324.8" cy="131.1" rx="4.7" ry="3.85"/>
<ellipse cx="331.8" cy="119.9" rx="4.7" ry="3.85"/>
<ellipse cx="323.2" cy="137.8" rx="4.7" ry="3.85"/>
<ellipse cx="323.0" cy="121.9" rx="4.7" ry="3.85"/>
<ellipse cx="333.5" cy="157.8" rx="4.7" ry="3.85"/>
<ellipse cx="326.0" cy="130.2" rx="4.7" ry="3.85"/>
<ellipse cx="317.8" cy="120.7" rx="4.7" ry="3.85"/>
<ellipse cx="328.1" cy="106.0" rx="4.7" ry="3.85"/>
<ellipse cx="336.9" cy="122.0" rx="4.7" ry="3.85"/>
<ellipse cx="334.9" cy="157.0" rx="4.7" ry="3.85"/>
<ellipse cx="337.9" cy="113.9" rx="4.7" ry="3.85"/>
<ellipse cx="324.1" cy="161.9" rx="4.7" ry="3.85"/>
<ellipse cx="327.7" cy="133.8" rx="4.7" ry="3.85"/>
<ellipse cx="336.9" cy="152.6" rx="4.7" ry="3.85"/>
<ellipse cx="327.0" cy="167.9" rx="4.7" ry="3.85"/>
<ellipse cx="326.5" cy="135.2" rx="4.7" ry="3.85"/>
<ellipse cx="330.8" cy="126.5" rx="4.7" ry="3.85"/>
<ellipse cx="322.3" cy="140.4" rx="4.7" ry="3.85"/>
<ellipse cx="322.1" cy="164.5" rx="4.7" ry="3.85"/>
<ellipse cx="330.6" cy="135.7" rx="4.7" ry="3.85"/>
<ellipse cx="323.4" cy="138.2" rx="4.7" ry="3.85"/>
<ellipse cx="327.9" cy="159.8" rx="4.7" ry="3.85"/>
<ellipse cx="338.1" cy="133.1" rx="4.7" ry="3.85"/>
<ellipse cx="324.4" cy="142.5" rx="4.7" ry="3.85"/>
<ellipse cx="338.9" cy="123.3" rx="4.7" ry="3.85"/>
<ellipse cx="326.8" cy="155.5" rx="4.7" ry="3.85"/>
<ellipse cx="317.4" cy="121.6" rx="4.7" ry="3.85"/>
<ellipse cx="338.4" cy="156.2" rx="4.7" ry="3.85"/>
<ellipse cx="326.3" cy="107.5" rx="4.7" ry="3.85"/>
<ellipse cx="336.3" cy="146.9" rx="4.7" ry="3.85"/>
<ellipse cx="334.3" cy="167.3" rx="4.7" ry="3.85"/>
<ellipse cx="336.1" cy="128.6" rx="4.7" ry="3.85"/>
<ellipse cx="317.1" cy="119.7" rx="4.7" ry="3.85"/>
<ellipse cx="326.3" cy="134.3" rx="4.7" ry="3.85"/>
<ellipse cx="317.9" cy="112.4" rx="4.7" ry="3.85"/>
<ellipse cx="329.4" cy="141.0" rx="4.7" ry="3.85"/>
<ellipse cx="322.2" cy="167.6" rx="4.7" ry="3.85"/>
<ellipse cx="329.5" cy="102.9" rx="4.7" ry="3.85"/>
<ellipse cx="323.7" cy="153.6" rx="4.7" ry="3.85"/>
<ellipse cx="321.0" cy="147.0" rx="4.7" ry="3.85"/>
<ellipse cx="334.9" cy="139.9" rx="4.7" ry="3.85"/>
<ellipse cx="330.4" cy="113.4" rx="4.7" ry="3.85"/>
<ellipse cx="325.9" cy="137.6" rx="4.7" ry="3.85"/>
<ellipse cx="319.9" cy="144.0" rx="4.7" ry="3.85"/>
<ellipse cx="326.8" cy="167.8" rx="4.7" ry="3.85"/>
<ellipse cx="327.9" cy="128.0" rx="4.7" ry="3.85"/>
<ellipse cx="316.2" cy="110.7" rx="4.7" ry="3.85"/>
<ellipse cx="332.7" cy="107.3" rx="4.7" ry="3.85"/>
<ellipse cx="315.6" cy="111.6" rx="4.7" ry="3.85"/>
<ellipse cx="326.6" cy="156.0" rx="4.7" ry="3.85"/>
<ellipse cx="328.9" cy="154.8" rx="4.7" ry="3.85"/>
<ellipse cx="333.0" cy="122.0" rx="4.7" ry="3.85"/>
<ellipse cx="331.6" cy="124.1" rx="4.7" ry="3.85"/>
<ellipse cx="317.4" cy="118.1" rx="4.7" ry="3.85"/>
<ellipse cx="328.1" cy="123.7" rx="4.7" ry="3.85"/>
<ellipse cx="324.7" cy="126.2" rx="4.7" ry="3.85"/>
<ellipse cx="328.1" cy="165.3" rx="4.7" ry="3.85"/>
<ellipse cx="324.4" cy="142.2" rx="4.7" ry="3.85"/>
<ellipse cx="319.5" cy="103.0" rx="4.7" ry="3.85"/>
<ellipse cx="337.2" cy="158.1" rx="4.7" ry="3.85"/>
<ellipse cx="321.2" cy="161.1" rx="4.7" ry="3.85"/>
<ellipse cx="334.2" cy="120.7" rx="4.7" ry="3.85"/>
<ellipse cx="328.7" cy="165.3" rx="4.7" ry="3.85"/>
<ellipse cx="325.9" cy="164.6" rx="4.7" ry="3.85"/>
<ellipse cx="331.7" cy="115.1" rx="4.7" ry="3.85"/>
<ellipse cx="321.0" cy="159.5" rx="4.7" ry="3.85"/>
<ellipse cx="325.6" cy="153.9" rx="4.7" ry="3.85"/>
<ellipse cx="319.3" cy="111.8" rx="4.7" ry="3.85"/>
<ellipse cx="322.3" cy="112.7" rx="4.7" ry="3.85"/>
<ellipse cx="338.3" cy="119.8" rx="4.7" ry="3.85"/>
<ellipse cx="327.6" cy="107.8" rx="4.7" ry="3.85"/>
<ellipse cx="326.9" cy="126.2" rx="4.7" ry="3.85"/>
<ellipse cx="323.5" cy="104.5" rx="4.7" ry="3.85"/>
<ellipse cx="322.1" cy="116.7" rx="4.7" ry="3.85"/>
<ellipse cx="318.0" cy="119.3" rx="4.7" ry="3.85"/>
<ellipse cx="319.2" cy="102.4" rx="4.7" ry="3.85"/>
<ellipse cx="330.3" cy="123.2" rx="4.7" ry="3.85"/>
<ellipse cx="315.4" cy="118.3" rx="4.7" ry="3.85"/>
<ellipse cx="334.7" cy="108.7" rx="4.7" ry="3.85"/>
<ellipse cx="324.5" cy="156.9" rx="4.7" ry="3.85"/>
<ellipse cx="333.9" cy="110.8" rx="4.7" ry="3.85"/>
<ellipse cx="322.2" cy="149.1" rx="4.7" ry="3.85"/>
<ellipse cx="322.8" cy="165.2" rx="4.7" ry="3.85"/>
</g>
<g fill="#b2182b" fill-opacity="0.65" stroke="#b2182b" stroke-opacity="0.65" stroke-width="0.5">
<ellipse cx="362.0" cy="86.8" rx="4.7" ry="3.85"/>
<ellipse cx="363.3" cy="86.8" rx="4.7" ry="3.85"/>
<ellipse cx="364.7" cy="86.8" rx="4.7" ry="3.85"/>
<ellipse cx="366.0" cy="86.8" rx="4.7" ry="3.85"/>
<ellipse cx="367.4" cy="86.8" rx="4.7" ry="3.85"/>
<ellipse cx="368.7" cy="86.8" rx="4.7" ry="3.85"/>
<ellipse cx="370.1" cy="86.8" rx="4.7" ry="3.85"/>
<ellipse cx="371.4" cy="86.8" rx="4.7" ry="3.85"/>
<ellipse cx="372.8" cy="86.8" rx="4.7" ry="3.85"/>
<ellipse cx="374.1" cy="86.8" rx="4.7" ry="3.85"/>
<ellipse cx="375.5" cy="86.8" rx="4.7" ry="3.85"/>
<ellipse cx="376.8" cy="86.8" rx="4.7" ry="3.85"/>
<ellipse cx="378.2" cy="86.8" rx="4.7" ry="3.85"/>
<ellipse cx="379.5" cy="86.8" rx="4.7" ry="3.85"/>
<ellipse cx="380.9" cy="86.8" rx="4.7" ry="3.85"/>
<ellipse cx="382.2" cy="86.8" rx="4.7" ry="3.85"/>
<ellipse cx="383.5" cy="86.8" rx="4.7" ry="3.85"/>
<ellipse cx="384.9" cy="86.8" rx="4.7" ry="3.85"/>
<ellipse cx="386.2" cy="86.8" rx="4.7" ry="3.85"/>
<ellipse cx="387.6" cy="86.8" rx="4.7" ry="3.85"/>
<ellipse cx="388.9" cy="86.8" rx="4.7" ry="3.85"/>
<ellipse cx="390.3" cy="86.8" rx="4.7" ry="3.85"/>
<ellipse cx="391.6" cy="86.8" rx="4.7" ry="3.85"/>
<ellipse cx="393.0" cy="86.8" rx="4.7" ry="3.85"/>
<ellipse cx="394.3" cy="86.8" rx="4.7" ry="3.85"/>
<ellipse cx="395.7" cy="86.8" rx="4.7" ry="3.85"/>
<ellipse cx="397.0" cy="86.8" rx="4.7" ry="3.85"/>
<ellipse cx="398.4" cy="86.8" rx="4.7" ry="3.85"/>
<ellipse cx="399.7" cy="86.8" rx="4.7" ry="3.85"/>
<ellipse cx="407.7" cy="86.8" rx="4.7" ry="3.85"/>
<ellipse cx="410.6" cy="86.8" rx="4.7" ry="3.85"/>
<ellipse cx="421.1" cy="86.8" rx="4.7" ry="3.85"/>
<ellipse cx="425.5" cy="86.8" rx="4.7" ry="3.85"/>
<ellipse cx="430.7" cy="86.8" rx="4.7" ry="3.85"/>
<ellipse cx="362.0" cy="96.5" rx="4.7" ry="3.85"/>
<ellipse cx="363.3" cy="96.5" rx="4.7" ry="3.85"/>
<ellipse cx="364.6" cy="96.5" rx="4.7" ry="3.85"/>
<ellipse cx="365.9" cy="96.5" rx="4.7" ry="3.85"/>
<ellipse cx="367.2" cy="96.5" rx="4.7" ry="3.85"/>
<ellipse cx="368.5" cy="96.5" rx="4.7" ry="3.85"/>
<ellipse cx="373.4" cy="96.5" rx="4.7" ry="3.85"/>
<ellipse cx="380.7" cy="96.5" rx="4.7" ry="3.85"/>
<ellipse cx="395.4" cy="96.5" rx="4.7" ry="3.85"/>
<ellipse cx="400.3" cy="96.5" rx="4.7" ry="3.85"/>
<ellipse cx="404.0" cy="96.5" rx="4.7" ry="3.85"/>
<ellipse cx="410.7" cy="96.5" rx="4.7" ry="3.85"/>
<ellipse cx="435.1" cy="96.5" rx="4.7" ry="3.85"/>
<ellipse cx="362.0" cy="102.7" rx="4.7" ry="3.85"/>
<ellipse cx="363.3" cy="102.7" rx="4.7" ry="3.85"/>
<ellipse cx="364.6" cy="102.7" rx="4.7" ry="3.85"/>
<ellipse cx="365.9" cy="102.7" rx="4.7" ry="3.85"/>
<ellipse cx="367.2" cy="102.7" rx="4.7" ry="3.85"/>
<ellipse cx="368.6" cy="102.7" rx="4.7" ry="3.85"/>
<ellipse cx="369.9" cy="102.7" rx="4.7" ry="3.85"/>
<ellipse cx="371.2" cy="102.7" rx="4.7" ry="3.85"/>
<ellipse cx="372.5" cy="102.7" rx="4.7" ry="3.85"/>
<ellipse cx="373.8" cy="102.7" rx="4.7" ry="3.85"/>
<ellipse cx="375.1" cy="102.7" rx="4.7" ry="3.85"/>
<ellipse cx="376.4" cy="102.7" rx="4.7" ry="3.85"/>
<ellipse cx="377.7" cy="102.7" rx="4.7" ry="3.85"/>
<ellipse cx="379.0" cy="102.7" rx="4.7" ry="3.85"/>
<ellipse cx="380.4" cy="102.7" rx="4.7" ry="3.85"/>
<ellipse cx="381.7" cy="102.7" rx="4.7" ry="3.85"/>
<ellipse cx="383.0" cy="102.7" rx="4.7" ry="3.85"/>
<ellipse cx="384.3" cy="102.7" rx="4.7" ry="3.85"/>
<ellipse cx="385.6" cy="102.7" rx="4.7" ry="3.85"/>
<ellipse cx="389.3" cy="103.3" rx="4.7" ry="3.85"/>
<ellipse cx="393.0" cy="113.1" rx="4.7" ry="3.85"/>
<ellipse cx="375.8" cy="129.0" rx="4.7" ry="3.85"/>
<ellipse cx="391.7" cy="133.9" rx="4.7" ry="3.85"/>
<ellipse cx="373.4" cy="141.8" rx="4.7" ry="3.85"/>
<ellipse cx="370.9" cy="155.9" rx="4.7" ry="3.85"/>
<ellipse cx="372.8" cy="167.5" rx="4.7" ry="3.85"/>
<ellipse cx="411.3" cy="164.5" rx="4.7" ry="3.85"/>
<ellipse cx="409.5" cy="168.8" rx="4.7" ry="3.85"/>
<ellipse cx="376.0" cy="110.0" rx="4.7" ry="3.85"/>
<ellipse cx="378.0" cy="118.0" rx="4.7" ry="3.85"/>
<ellipse cx="374.0" cy="122.0" rx="4.7" ry="3.85"/>
<ellipse cx="371.8" cy="149.0" rx="4.7" ry="3.85"/>
<ellipse cx="358.9" cy="131.6" rx="4.7" ry="3.85"/>
<ellipse cx="373.6" cy="124.3" rx="4.7" ry="3.85"/>
<ellipse cx="368.3" cy="167.9" rx="4.7" ry="3.85"/>
<ellipse cx="372.6" cy="110.3" rx="4.7" ry="3.85"/>
<ellipse cx="362.6" cy="127.6" rx="4.7" ry="3.85"/>
<ellipse cx="376.0" cy="100.3" rx="4.7" ry="3.85"/>
<ellipse cx="371.4" cy="100.4" rx="4.7" ry="3.85"/>
<ellipse cx="366.2" cy="127.1" rx="4.7" ry="3.85"/>
<ellipse cx="365.0" cy="165.1" rx="4.7" ry="3.85"/>
<ellipse cx="373.9" cy="111.4" rx="4.7" ry="3.85"/>
<ellipse cx="365.2" cy="166.4" rx="4.7" ry="3.85"/>
<ellipse cx="360.2" cy="167.0" rx="4.7" ry="3.85"/>
<ellipse cx="377.7" cy="110.7" rx="4.7" ry="3.85"/>
<ellipse cx="360.3" cy="155.9" rx="4.7" ry="3.85"/>
<ellipse cx="360.7" cy="119.9" rx="4.7" ry="3.85"/>
<ellipse cx="361.0" cy="162.7" rx="4.7" ry="3.85"/>
<ellipse cx="369.5" cy="152.3" rx="4.7" ry="3.85"/>
<ellipse cx="364.7" cy="152.6" rx="4.7" ry="3.85"/>
<ellipse cx="374.9" cy="107.0" rx="4.7" ry="3.85"/>
<ellipse cx="370.8" cy="152.0" rx="4.7" ry="3.85"/>
<ellipse cx="363.6" cy="147.1" rx="4.7" ry="3.85"/>
<ellipse cx="365.2" cy="126.7" rx="4.7" ry="3.85"/>
<ellipse cx="361.1" cy="153.9" rx="4.7" ry="3.85"/>
<ellipse cx="361.8" cy="148.9" rx="4.7" ry="3.85"/>
<ellipse cx="359.4" cy="171.2" rx="4.7" ry="3.85"/>
<ellipse cx="361.4" cy="145.9" rx="4.7" ry="3.85"/>
<ellipse cx="367.8" cy="117.9" rx="4.7" ry="3.85"/>
<ellipse cx="379.2" cy="102.4" rx="4.7" ry="3.85"/>
<ellipse cx="370.4" cy="106.3" rx="4.7" ry="3.85"/>
<ellipse cx="358.9" cy="133.4" rx="4.7" ry="3.85"/>
<ellipse cx="370.2" cy="151.7" rx="4.7" ry="3.85"/>
<ellipse cx="361.6" cy="158.7" rx="4.7" ry="3.85"/>
<ellipse cx="361.1" cy="113.4" rx="4.7" ry="3.85"/>
<ellipse cx="371.0" cy="124.2" rx="4.7" ry="3.85"/>
<ellipse cx="362.3" cy="167.0" rx="4.7" ry="3.85"/>
<ellipse cx="370.3" cy="156.6" rx="4.7" ry="3.85"/>
<ellipse cx="364.5" cy="165.7" rx="4.7" ry="3.85"/>
<ellipse cx="363.8" cy="165.3" rx="4.7" ry="3.85"/>
<ellipse cx="369.5" cy="107.1" rx="4.7" ry="3.85"/>
<ellipse cx="364.0" cy="133.4" rx="4.7" ry="3.85"/>
<ellipse cx="368.5" cy="112.1" rx="4.7" ry="3.85"/>
<ellipse cx="361.6" cy="133.9" rx="4.7" ry="3.85"/>
<ellipse cx="370.8" cy="119.3" rx="4.7" ry="3.85"/>
<ellipse cx="367.6" cy="139.9" rx="4.7" ry="3.85"/>
<ellipse cx="362.2" cy="163.8" rx="4.7" ry="3.85"/>
<ellipse cx="367.6" cy="169.1" rx="4.7" ry="3.85"/>
<ellipse cx="368.0" cy="139.4" rx="4.7" ry="3.85"/>
<ellipse cx="366.2" cy="102.1" rx="4.7" ry="3.85"/>
<ellipse cx="363.3" cy="108.9" rx="4.7" ry="3.85"/>
<ellipse cx="365.4" cy="145.3" rx="4.7" ry="3.85"/>
<ellipse cx="373.7" cy="121.6" rx="4.7" ry="3.85"/>
<ellipse cx="383.3" cy="104.6" rx="4.7" ry="3.85"/>
<ellipse cx="358.3" cy="139.8" rx="4.7" ry="3.85"/>
<ellipse cx="363.3" cy="136.5" rx="4.7" ry="3.85"/>
<ellipse cx="361.1" cy="160.3" rx="4.7" ry="3.85"/>
<ellipse cx="358.0" cy="103.5" rx="4.7" ry="3.85"/>
<ellipse cx="366.1" cy="140.9" rx="4.7" ry="3.85"/>
<ellipse cx="358.2" cy="129.9" rx="4.7" ry="3.85"/>
<ellipse cx="379.4" cy="100.9" rx="4.7" ry="3.85"/>
<ellipse cx="363.3" cy="112.9" rx="4.7" ry="3.85"/>
<ellipse cx="379.6" cy="107.3" rx="4.7" ry="3.85"/>
<ellipse cx="366.4" cy="169.6" rx="4.7" ry="3.85"/>
<ellipse cx="368.5" cy="150.2" rx="4.7" ry="3.85"/>
<ellipse cx="359.7" cy="159.8" rx="4.7" ry="3.85"/>
<ellipse cx="383.5" cy="108.0" rx="4.7" ry="3.85"/>
<ellipse cx="361.8" cy="126.2" rx="4.7" ry="3.85"/>
<ellipse cx="362.2" cy="152.3" rx="4.7" ry="3.85"/>
<ellipse cx="372.3" cy="125.8" rx="4.7" ry="3.85"/>
<ellipse cx="361.7" cy="111.4" rx="4.7" ry="3.85"/>
<ellipse cx="361.9" cy="142.4" rx="4.7" ry="3.85"/>
<ellipse cx="378.8" cy="111.5" rx="4.7" ry="3.85"/>
<ellipse cx="371.1" cy="141.4" rx="4.7" ry="3.85"/>
<ellipse cx="372.6" cy="129.7" rx="4.7" ry="3.85"/>
<ellipse cx="372.1" cy="101.1" rx="4.7" ry="3.85"/>
<ellipse cx="359.5" cy="130.4" rx="4.7" ry="3.85"/>
<ellipse cx="364.2" cy="154.5" rx="4.7" ry="3.85"/>
<ellipse cx="364.3" cy="159.3" rx="4.7" ry="3.85"/>
<ellipse cx="364.3" cy="106.7" rx="4.7" ry="3.85"/>
<ellipse cx="370.4" cy="127.9" rx="4.7" ry="3.85"/>
</g>
<g fill="#bdbdbd" fill-opacity="0.55" stroke="#bdbdbd" stroke-opacity="0.55" stroke-width="0.5">
<ellipse cx="525.3" cy="120.4" rx="4.7" ry="3.85"/>
<ellipse cx="531.1" cy="120.4" rx="4.7" ry="3.85"/>
<ellipse cx="534.0" cy="120.4" rx="4.7" ry="3.85"/>
<ellipse cx="523.8" cy="144.4" rx="4.7" ry="3.85"/>
<ellipse cx="531.1" cy="142.3" rx="4.7" ry="3.85"/>
<ellipse cx="526.1" cy="152.0" rx="4.7" ry="3.85"/>
<ellipse cx="544.8" cy="150.2" rx="4.7" ry="3.85"/>
<ellipse cx="555.3" cy="150.2" rx="4.7" ry="3.85"/>
<ellipse cx="498.1" cy="165.7" rx="4.7" ry="3.85"/>
<ellipse cx="513.6" cy="165.7" rx="4.7" ry="3.85"/>
<ellipse cx="516.5" cy="161.9" rx="4.7" ry="3.85"/>
<ellipse cx="522.3" cy="161.3" rx="4.7" ry="3.85"/>
<ellipse cx="526.7" cy="165.7" rx="4.7" ry="3.85"/>
<ellipse cx="541.3" cy="161.3" rx="4.7" ry="3.85"/>
<ellipse cx="548.6" cy="161.3" rx="4.7" ry="3.85"/>
<ellipse cx="551.5" cy="159.9" rx="4.7" ry="3.85"/>
<ellipse cx="570.5" cy="163.6" rx="4.7" ry="3.85"/>
<ellipse cx="566.1" cy="167.7" rx="4.7" ry="3.85"/>
<ellipse cx="579.3" cy="170.1" rx="4.7" ry="3.85"/>
<ellipse cx="518.0" cy="176.5" rx="4.7" ry="3.85"/>
<ellipse cx="520.9" cy="180.3" rx="4.7" ry="3.85"/>
<ellipse cx="532.0" cy="175.3" rx="4.7" ry="3.85"/>
<ellipse cx="538.4" cy="170.1" rx="4.7" ry="3.85"/>
<ellipse cx="542.8" cy="174.5" rx="4.7" ry="3.85"/>
<ellipse cx="558.8" cy="176.5" rx="4.7" ry="3.85"/>
<ellipse cx="566.1" cy="176.5" rx="4.7" ry="3.85"/>
<ellipse cx="506.3" cy="194.9" rx="4.7" ry="3.85"/>
<ellipse cx="516.5" cy="192.8" rx="4.7" ry="3.85"/>
<ellipse cx="525.3" cy="192.8" rx="4.7" ry="3.85"/>
<ellipse cx="510.7" cy="209.5" rx="4.7" ry="3.85"/>
<ellipse cx="518.0" cy="208.0" rx="4.7" ry="3.85"/>
<ellipse cx="522.3" cy="203.6" rx="4.7" ry="3.85"/>
<ellipse cx="508.6" cy="216.8" rx="4.7" ry="3.85"/>
<ellipse cx="525.3" cy="225.0" rx="4.7" ry="3.85"/>
<ellipse cx="612.8" cy="128.3" rx="4.7" ry="3.85"/>
<ellipse cx="622.5" cy="120.4" rx="4.7" ry="3.85"/>
<ellipse cx="630.4" cy="115.2" rx="4.7" ry="3.85"/>
<ellipse cx="619.6" cy="166.6" rx="4.7" ry="3.85"/>
<ellipse cx="635.6" cy="179.4" rx="4.7" ry="3.85"/>
<ellipse cx="623.6" cy="189.6" rx="4.7" ry="3.85"/>
<ellipse cx="606.1" cy="206.6" rx="4.7" ry="3.85"/>
<ellipse cx="606.4" cy="219.7" rx="4.7" ry="3.85"/>
<ellipse cx="600.3" cy="227.6" rx="4.7" ry="3.85"/>
<ellipse cx="610.0" cy="147.3" rx="4.7" ry="3.85"/>
<ellipse cx="610.0" cy="158.4" rx="4.7" ry="3.85"/>
<ellipse cx="617.2" cy="154.9" rx="4.7" ry="3.85"/>
<ellipse cx="612.8" cy="176.5" rx="4.7" ry="3.85"/>
<ellipse cx="608.5" cy="187.6" rx="4.7" ry="3.85"/>
<ellipse cx="605.5" cy="196.4" rx="4.7" ry="3.85"/>
<ellipse cx="586.5" cy="99.8" rx="4.7" ry="3.85"/>
<ellipse cx="591.4" cy="99.8" rx="4.7" ry="3.85"/>
<ellipse cx="613.6" cy="128.5" rx="4.7" ry="3.85"/>
<ellipse cx="611.5" cy="147.0" rx="4.7" ry="3.85"/>
<ellipse cx="587.4" cy="121.7" rx="4.7" ry="3.85"/>
<ellipse cx="589.8" cy="121.3" rx="4.7" ry="3.85"/>
<ellipse cx="587.1" cy="123.9" rx="4.7" ry="3.85"/>
<ellipse cx="588.5" cy="122.8" rx="4.7" ry="3.85"/>
<ellipse cx="591.0" cy="123.2" rx="4.7" ry="3.85"/>
<ellipse cx="585.1" cy="125.1" rx="4.7" ry="3.85"/>
<ellipse cx="588.5" cy="124.0" rx="4.7" ry="3.85"/>
<ellipse cx="590.9" cy="123.9" rx="4.7" ry="3.85"/>
<ellipse cx="584.6" cy="126.9" rx="4.7" ry="3.85"/>
<ellipse cx="587.1" cy="126.1" rx="4.7" ry="3.85"/>
<ellipse cx="589.8" cy="127.1" rx="4.7" ry="3.85"/>
<ellipse cx="591.1" cy="127.4" rx="4.7" ry="3.85"/>
<ellipse cx="586.9" cy="129.0" rx="4.7" ry="3.85"/>
<ellipse cx="587.9" cy="127.5" rx="4.7" ry="3.85"/>
<ellipse cx="591.0" cy="128.3" rx="4.7" ry="3.85"/>
<ellipse cx="584.9" cy="129.7" rx="4.7" ry="3.85"/>
<ellipse cx="586.8" cy="130.0" rx="4.7" ry="3.85"/>
<ellipse cx="589.1" cy="130.7" rx="4.7" ry="3.85"/>
<ellipse cx="592.0" cy="130.5" rx="4.7" ry="3.85"/>
<ellipse cx="585.6" cy="131.1" rx="4.7" ry="3.85"/>
<ellipse cx="588.8" cy="131.6" rx="4.7" ry="3.85"/>
<ellipse cx="590.5" cy="133.0" rx="4.7" ry="3.85"/>
<ellipse cx="584.1" cy="133.9" rx="4.7" ry="3.85"/>
<ellipse cx="586.8" cy="134.6" rx="4.7" ry="3.85"/>
<ellipse cx="590.1" cy="133.6" rx="4.7" ry="3.85"/>
<ellipse cx="591.9" cy="134.0" rx="4.7" ry="3.85"/>
<ellipse cx="586.3" cy="136.1" rx="4.7" ry="3.85"/>
<ellipse cx="588.1" cy="135.1" rx="4.7" ry="3.85"/>
<ellipse cx="590.8" cy="136.1" rx="4.7" ry="3.85"/>
<ellipse cx="585.1" cy="136.7" rx="4.7" ry="3.85"/>
<ellipse cx="586.1" cy="138.5" rx="4.7" ry="3.85"/>
<ellipse cx="589.8" cy="137.1" rx="4.7" ry="3.85"/>
<ellipse cx="591.0" cy="138.2" rx="4.7" ry="3.85"/>
<ellipse cx="584.5" cy="140.0" rx="4.7" ry="3.85"/>
<ellipse cx="585.3" cy="138.6" rx="4.7" ry="3.85"/>
<ellipse cx="588.3" cy="139.6" rx="4.7" ry="3.85"/>
<ellipse cx="589.8" cy="139.8" rx="4.7" ry="3.85"/>
<ellipse cx="584.8" cy="140.5" rx="4.7" ry="3.85"/>
<ellipse cx="587.0" cy="141.3" rx="4.7" ry="3.85"/>
<ellipse cx="588.7" cy="141.7" rx="4.7" ry="3.85"/>
<ellipse cx="592.3" cy="140.4" rx="4.7" ry="3.85"/>
<ellipse cx="583.6" cy="142.4" rx="4.7" ry="3.85"/>
<ellipse cx="586.7" cy="142.8" rx="4.7" ry="3.85"/>
<ellipse cx="587.5" cy="143.2" rx="4.7" ry="3.85"/>
<ellipse cx="590.4" cy="143.2" rx="4.7" ry="3.85"/>
<ellipse cx="585.5" cy="144.0" rx="4.7" ry="3.85"/>
<ellipse cx="586.2" cy="144.4" rx="4.7" ry="3.85"/>
<ellipse cx="589.3" cy="144.4" rx="4.7" ry="3.85"/>
<ellipse cx="591.6" cy="144.7" rx="4.7" ry="3.85"/>
<ellipse cx="584.4" cy="146.6" rx="4.7" ry="3.85"/>
<ellipse cx="586.0" cy="146.7" rx="4.7" ry="3.85"/>
<ellipse cx="587.7" cy="146.9" rx="4.7" ry="3.85"/>
<ellipse cx="589.6" cy="146.5" rx="4.7" ry="3.85"/>
<ellipse cx="584.0" cy="149.1" rx="4.7" ry="3.85"/>
<ellipse cx="588.0" cy="147.6" rx="4.7" ry="3.85"/>
<ellipse cx="589.1" cy="147.9" rx="4.7" ry="3.85"/>
<ellipse cx="591.7" cy="148.4" rx="4.7" ry="3.85"/>
<ellipse cx="583.1" cy="150.6" rx="4.7" ry="3.85"/>
<ellipse cx="584.9" cy="150.3" rx="4.7" ry="3.85"/>
<ellipse cx="587.8" cy="150.6" rx="4.7" ry="3.85"/>
<ellipse cx="589.6" cy="151.3" rx="4.7" ry="3.85"/>
<ellipse cx="592.4" cy="150.9" rx="4.7" ry="3.85"/>
<ellipse cx="583.2" cy="151.5" rx="4.7" ry="3.85"/>
<ellipse cx="585.2" cy="152.5" rx="4.7" ry="3.85"/>
<ellipse cx="586.6" cy="152.3" rx="4.7" ry="3.85"/>
<ellipse cx="589.2" cy="151.8" rx="4.7" ry="3.85"/>
<ellipse cx="591.2" cy="151.8" rx="4.7" ry="3.85"/>
<ellipse cx="582.9" cy="153.6" rx="4.7" ry="3.85"/>
<ellipse cx="585.3" cy="154.0" rx="4.7" ry="3.85"/>
<ellipse cx="587.4" cy="154.5" rx="4.7" ry="3.85"/>
<ellipse cx="590.4" cy="154.4" rx="4.7" ry="3.85"/>
<ellipse cx="591.9" cy="153.5" rx="4.7" ry="3.85"/>
<ellipse cx="584.7" cy="155.6" rx="4.7" ry="3.85"/>
<ellipse cx="587.7" cy="156.7" rx="4.7" ry="3.85"/>
<ellipse cx="589.7" cy="155.3" rx="4.7" ry="3.85"/>
<ellipse cx="591.8" cy="155.4" rx="4.7" ry="3.85"/>
<ellipse cx="583.2" cy="158.8" rx="4.7" ry="3.85"/>
<ellipse cx="586.9" cy="158.6" rx="4.7" ry="3.85"/>
<ellipse cx="588.9" cy="156.8" rx="4.7" ry="3.85"/>
<ellipse cx="591.1" cy="158.2" rx="4.7" ry="3.85"/>
<ellipse cx="583.0" cy="159.5" rx="4.7" ry="3.85"/>
<ellipse cx="585.3" cy="159.3" rx="4.7" ry="3.85"/>
<ellipse cx="587.3" cy="160.3" rx="4.7" ry="3.85"/>
<ellipse cx="589.7" cy="160.5" rx="4.7" ry="3.85"/>
<ellipse cx="590.9" cy="159.6" rx="4.7" ry="3.85"/>
<ellipse cx="584.6" cy="160.9" rx="4.7" ry="3.85"/>
<ellipse cx="584.9" cy="160.6" rx="4.7" ry="3.85"/>
<ellipse cx="588.0" cy="162.2" rx="4.7" ry="3.85"/>
<ellipse cx="591.5" cy="162.2" rx="4.7" ry="3.85"/>
<ellipse cx="583.1" cy="164.1" rx="4.7" ry="3.85"/>
<ellipse cx="584.9" cy="163.1" rx="4.7" ry="3.85"/>
<ellipse cx="587.6" cy="163.6" rx="4.7" ry="3.85"/>
<ellipse cx="589.4" cy="164.2" rx="4.7" ry="3.85"/>
<ellipse cx="592.5" cy="163.5" rx="4.7" ry="3.85"/>
<ellipse cx="581.5" cy="164.8" rx="4.7" ry="3.85"/>
<ellipse cx="584.5" cy="165.7" rx="4.7" ry="3.85"/>
<ellipse cx="585.4" cy="165.2" rx="4.7" ry="3.85"/>
<ellipse cx="587.9" cy="165.8" rx="4.7" ry="3.85"/>
<ellipse cx="590.6" cy="165.7" rx="4.7" ry="3.85"/>
<ellipse cx="591.8" cy="164.7" rx="4.7" ry="3.85"/>
<ellipse cx="581.9" cy="166.0" rx="4.7" ry="3.85"/>
<ellipse cx="585.4" cy="166.2" rx="4.7" ry="3.85"/>
<ellipse cx="587.6" cy="167.3" rx="4.7" ry="3.85"/>
<ellipse cx="590.4" cy="166.6" rx="4.7" ry="3.85"/>
<ellipse cx="592.5" cy="166.6" rx="4.7" ry="3.85"/>
<ellipse cx="582.1" cy="168.1" rx="4.7" ry="3.85"/>
<ellipse cx="584.1" cy="168.0" rx="4.7" ry="3.85"/>
<ellipse cx="585.0" cy="168.3" rx="4.7" ry="3.85"/>
<ellipse cx="589.0" cy="168.7" rx="4.7" ry="3.85"/>
<ellipse cx="589.5" cy="168.5" rx="4.7" ry="3.85"/>
<ellipse cx="581.6" cy="170.7" rx="4.7" ry="3.85"/>
<ellipse cx="584.0" cy="170.5" rx="4.7" ry="3.85"/>
<ellipse cx="587.0" cy="170.4" rx="4.7" ry="3.85"/>
<ellipse cx="590.2" cy="170.4" rx="4.7" ry="3.85"/>
<ellipse cx="591.9" cy="171.2" rx="4.7" ry="3.85"/>
<ellipse cx="581.2" cy="172.3" rx="4.7" ry="3.85"/>
<ellipse cx="584.2" cy="173.0" rx="4.7" ry="3.85"/>
<ellipse cx="586.9" cy="171.9" rx="4.7" ry="3.85"/>
<ellipse cx="588.0" cy="172.7" rx="4.7" ry="3.85"/>
<ellipse cx="591.4" cy="172.8" rx="4.7" ry="3.85"/>
<ellipse cx="592.0" cy="171.6" rx="4.7" ry="3.85"/>
<ellipse cx="583.3" cy="173.8" rx="4.7" ry="3.85"/>
<ellipse cx="584.6" cy="174.4" rx="4.7" ry="3.85"/>
<ellipse cx="586.1" cy="173.5" rx="4.7" ry="3.85"/>
<ellipse cx="589.7" cy="174.1" rx="4.7" ry="3.85"/>
<ellipse cx="592.3" cy="174.0" rx="4.7" ry="3.85"/>
<ellipse cx="581.7" cy="176.3" rx="4.7" ry="3.85"/>
<ellipse cx="582.8" cy="175.9" rx="4.7" ry="3.85"/>
<ellipse cx="586.6" cy="175.2" rx="4.7" ry="3.85"/>
<ellipse cx="589.0" cy="176.8" rx="4.7" ry="3.85"/>
<ellipse cx="590.1" cy="175.6" rx="4.7" ry="3.85"/>
<ellipse cx="592.4" cy="176.7" rx="4.7" ry="3.85"/>
<ellipse cx="579.6" cy="178.0" rx="4.7" ry="3.85"/>
<ellipse cx="582.0" cy="178.4" rx="4.7" ry="3.85"/>
<ellipse cx="585.0" cy="177.9" rx="4.7" ry="3.85"/>
<ellipse cx="587.4" cy="177.4" rx="4.7" ry="3.85"/>
<ellipse cx="589.6" cy="178.5" rx="4.7" ry="3.85"/>
<ellipse cx="591.3" cy="177.7" rx="4.7" ry="3.85"/>
<ellipse cx="580.7" cy="179.7" rx="4.7" ry="3.85"/>
<ellipse cx="582.6" cy="180.6" rx="4.7" ry="3.85"/>
<ellipse cx="584.9" cy="180.7" rx="4.7" ry="3.85"/>
<ellipse cx="587.6" cy="179.1" rx="4.7" ry="3.85"/>
<ellipse cx="589.7" cy="179.2" rx="4.7" ry="3.85"/>
<ellipse cx="593.0" cy="179.8" rx="4.7" ry="3.85"/>
<ellipse cx="579.8" cy="181.7" rx="4.7" ry="3.85"/>
<ellipse cx="581.8" cy="182.0" rx="4.7" ry="3.85"/>
<ellipse cx="585.7" cy="181.1" rx="4.7" ry="3.85"/>
<ellipse cx="586.1" cy="181.3" rx="4.7" ry="3.85"/>
<ellipse cx="588.6" cy="181.8" rx="4.7" ry="3.85"/>
<ellipse cx="592.3" cy="180.9" rx="4.7" ry="3.85"/>
<ellipse cx="578.2" cy="184.1" rx="4.7" ry="3.85"/>
<ellipse cx="580.9" cy="183.9" rx="4.7" ry="3.85"/>
<ellipse cx="584.1" cy="182.6" rx="4.7" ry="3.85"/>
<ellipse cx="585.7" cy="184.2" rx="4.7" ry="3.85"/>
<ellipse cx="588.8" cy="183.1" rx="4.7" ry="3.85"/>
<ellipse cx="589.5" cy="183.5" rx="4.7" ry="3.85"/>
<ellipse cx="580.6" cy="184.8" rx="4.7" ry="3.85"/>
<ellipse cx="583.3" cy="185.7" rx="4.7" ry="3.85"/>
<ellipse cx="584.0" cy="185.2" rx="4.7" ry="3.85"/>
<ellipse cx="586.0" cy="185.2" rx="4.7" ry="3.85"/>
<ellipse cx="590.4" cy="184.6" rx="4.7" ry="3.85"/>
<ellipse cx="592.4" cy="185.9" rx="4.7" ry="3.85"/>
<ellipse cx="578.2" cy="187.1" rx="4.7" ry="3.85"/>
<ellipse cx="582.2" cy="187.2" rx="4.7" ry="3.85"/>
<ellipse cx="584.0" cy="187.7" rx="4.7" ry="3.85"/>
<ellipse cx="585.5" cy="187.7" rx="4.7" ry="3.85"/>
<ellipse cx="588.3" cy="187.4" rx="4.7" ry="3.85"/>
<ellipse cx="589.8" cy="186.9" rx="4.7" ry="3.85"/>
<ellipse cx="577.7" cy="188.9" rx="4.7" ry="3.85"/>
<ellipse cx="579.9" cy="188.9" rx="4.7" ry="3.85"/>
<ellipse cx="582.2" cy="190.1" rx="4.7" ry="3.85"/>
<ellipse cx="583.8" cy="189.5" rx="4.7" ry="3.85"/>
<ellipse cx="586.9" cy="189.3" rx="4.7" ry="3.85"/>
<ellipse cx="588.8" cy="188.1" rx="4.7" ry="3.85"/>
<ellipse cx="592.6" cy="188.6" rx="4.7" ry="3.85"/>
<ellipse cx="578.1" cy="191.6" rx="4.7" ry="3.85"/>
<ellipse cx="581.2" cy="191.7" rx="4.7" ry="3.85"/>
<ellipse cx="583.8" cy="190.1" rx="4.7" ry="3.85"/>
<ellipse cx="585.7" cy="190.4" rx="4.7" ry="3.85"/>
<ellipse cx="588.7" cy="190.1" rx="4.7" ry="3.85"/>
<ellipse cx="590.2" cy="191.1" rx="4.7" ry="3.85"/>
<ellipse cx="592.7" cy="191.6" rx="4.7" ry="3.85"/>
<ellipse cx="575.8" cy="193.6" rx="4.7" ry="3.85"/>
<ellipse cx="577.3" cy="192.9" rx="4.7" ry="3.85"/>
<ellipse cx="580.7" cy="192.0" rx="4.7" ry="3.85"/>
<ellipse cx="582.3" cy="193.6" rx="4.7" ry="3.85"/>
<ellipse cx="584.1" cy="192.0" rx="4.7" ry="3.85"/>
<ellipse cx="586.7" cy="192.5" rx="4.7" ry="3.85"/>
<ellipse cx="589.2" cy="192.7" rx="4.7" ry="3.85"/>
<ellipse cx="592.2" cy="193.6" rx="4.7" ry="3.85"/>
<ellipse cx="576.6" cy="193.7" rx="4.7" ry="3.85"/>
<ellipse cx="578.4" cy="195.3" rx="4.7" ry="3.85"/>
<ellipse cx="580.9" cy="194.1" rx="4.7" ry="3.85"/>
<ellipse cx="583.1" cy="194.3" rx="4.7" ry="3.85"/>
<ellipse cx="586.5" cy="195.0" rx="4.7" ry="3.85"/>
<ellipse cx="588.5" cy="193.8" rx="4.7" ry="3.85"/>
<ellipse cx="589.8" cy="194.1" rx="4.7" ry="3.85"/>
<ellipse cx="576.2" cy="197.4" rx="4.7" ry="3.85"/>
<ellipse cx="578.2" cy="196.0" rx="4.7" ry="3.85"/>
<ellipse cx="579.3" cy="197.4" rx="4.7" ry="3.85"/>
<ellipse cx="582.7" cy="196.1" rx="4.7" ry="3.85"/>
<ellipse cx="584.6" cy="197.3" rx="4.7" ry="3.85"/>
<ellipse cx="586.4" cy="196.7" rx="4.7" ry="3.85"/>
<ellipse cx="589.4" cy="195.8" rx="4.7" ry="3.85"/>
<ellipse cx="590.8" cy="195.8" rx="4.7" ry="3.85"/>
<ellipse cx="572.5" cy="197.5" rx="4.7" ry="3.85"/>
<ellipse cx="575.0" cy="198.1" rx="4.7" ry="3.85"/>
<ellipse cx="577.0" cy="197.9" rx="4.7" ry="3.85"/>
<ellipse cx="578.3" cy="198.1" rx="4.7" ry="3.85"/>
<ellipse cx="581.1" cy="198.4" rx="4.7" ry="3.85"/>
<ellipse cx="583.4" cy="198.9" rx="4.7" ry="3.85"/>
<ellipse cx="585.5" cy="199.2" rx="4.7" ry="3.85"/>
<ellipse cx="589.1" cy="198.8" rx="4.7" ry="3.85"/>
<ellipse cx="591.1" cy="198.4" rx="4.7" ry="3.85"/>
<ellipse cx="592.3" cy="197.4" rx="4.7" ry="3.85"/>
<ellipse cx="570.7" cy="199.8" rx="4.7" ry="3.85"/>
<ellipse cx="573.9" cy="200.0" rx="4.7" ry="3.85"/>
<ellipse cx="575.2" cy="199.7" rx="4.7" ry="3.85"/>
<ellipse cx="578.4" cy="200.9" rx="4.7" ry="3.85"/>
<ellipse cx="580.6" cy="199.9" rx="4.7" ry="3.85"/>
<ellipse cx="583.0" cy="200.2" rx="4.7" ry="3.85"/>
<ellipse cx="584.3" cy="200.9" rx="4.7" ry="3.85"/>
<ellipse cx="586.6" cy="199.3" rx="4.7" ry="3.85"/>
<ellipse cx="590.3" cy="199.2" rx="4.7" ry="3.85"/>
<ellipse cx="591.7" cy="200.2" rx="4.7" ry="3.85"/>
<ellipse cx="570.4" cy="201.2" rx="4.7" ry="3.85"/>
<ellipse cx="572.7" cy="201.2" rx="4.7" ry="3.85"/>
<ellipse cx="575.2" cy="202.5" rx="4.7" ry="3.85"/>
<ellipse cx="576.7" cy="201.5" rx="4.7" ry="3.85"/>
<ellipse cx="579.6" cy="202.3" rx="4.7" ry="3.85"/>
<ellipse cx="581.8" cy="201.9" rx="4.7" ry="3.85"/>
<ellipse cx="583.3" cy="202.7" rx="4.7" ry="3.85"/>
<ellipse cx="585.8" cy="202.1" rx="4.7" ry="3.85"/>
<ellipse cx="588.3" cy="202.9" rx="4.7" ry="3.85"/>
<ellipse cx="591.3" cy="202.4" rx="4.7" ry="3.85"/>
<ellipse cx="568.3" cy="203.3" rx="4.7" ry="3.85"/>
<ellipse cx="570.1" cy="204.6" rx="4.7" ry="3.85"/>
<ellipse cx="573.4" cy="203.7" rx="4.7" ry="3.85"/>
<ellipse cx="575.8" cy="203.5" rx="4.7" ry="3.85"/>
<ellipse cx="578.8" cy="204.3" rx="4.7" ry="3.85"/>
<ellipse cx="579.3" cy="203.0" rx="4.7" ry="3.85"/>
<ellipse cx="581.7" cy="203.6" rx="4.7" ry="3.85"/>
<ellipse cx="585.4" cy="204.7" rx="4.7" ry="3.85"/>
<ellipse cx="586.5" cy="202.8" rx="4.7" ry="3.85"/>
<ellipse cx="588.4" cy="203.9" rx="4.7" ry="3.85"/>
<ellipse cx="592.0" cy="203.9" rx="4.7" ry="3.85"/>
<ellipse cx="593.5" cy="204.3" rx="4.7" ry="3.85"/>
<ellipse cx="565.9" cy="206.4" rx="4.7" ry="3.85"/>
<ellipse cx="568.2" cy="205.6" rx="4.7" ry="3.85"/>
<ellipse cx="569.3" cy="206.1" rx="4.7" ry="3.85"/>
<ellipse cx="571.3" cy="204.6" rx="4.7" ry="3.85"/>
<ellipse cx="574.1" cy="205.8" rx="4.7" ry="3.85"/>
<ellipse cx="577.4" cy="205.3" rx="4.7" ry="3.85"/>
<ellipse cx="578.6" cy="205.2" rx="4.7" ry="3.85"/>
<ellipse cx="582.3" cy="205.8" rx="4.7" ry="3.85"/>
<ellipse cx="582.7" cy="205.7" rx="4.7" ry="3.85"/>
<ellipse cx="586.9" cy="206.5" rx="4.7" ry="3.85"/>
<ellipse cx="587.9" cy="206.7" rx="4.7" ry="3.85"/>
<ellipse cx="591.4" cy="205.1" rx="4.7" ry="3.85"/>
<ellipse cx="563.5" cy="208.1" rx="4.7" ry="3.85"/>
<ellipse cx="566.2" cy="208.4" rx="4.7" ry="3.85"/>
<ellipse cx="568.4" cy="207.6" rx="4.7" ry="3.85"/>
<ellipse cx="571.4" cy="207.8" rx="4.7" ry="3.85"/>
<ellipse cx="574.1" cy="206.6" rx="4.7" ry="3.85"/>
<ellipse cx="575.2" cy="206.7" rx="4.7" ry="3.85"/>
<ellipse cx="578.9" cy="208.1" rx="4.7" ry="3.85"/>
<ellipse cx="580.8" cy="208.5" rx="4.7" ry="3.85"/>
<ellipse cx="582.5" cy="207.0" rx="4.7" ry="3.85"/>
<ellipse cx="585.7" cy="208.0" rx="4.7" ry="3.85"/>
<ellipse cx="587.8" cy="207.3" rx="4.7" ry="3.85"/>
<ellipse cx="590.1" cy="206.9" rx="4.7" ry="3.85"/>
<ellipse cx="590.7" cy="207.6" rx="4.7" ry="3.85"/>
<ellipse cx="593.2" cy="208.4" rx="4.7" ry="3.85"/>
<ellipse cx="563.3" cy="208.6" rx="4.7" ry="3.85"/>
<ellipse cx="565.8" cy="210.1" rx="4.7" ry="3.85"/>
<ellipse cx="566.8" cy="208.3" rx="4.7" ry="3.85"/>
<ellipse cx="570.0" cy="209.0" rx="4.7" ry="3.85"/>
<ellipse cx="572.0" cy="208.8" rx="4.7" ry="3.85"/>
<ellipse cx="575.4" cy="208.7" rx="4.7" ry="3.85"/>
<ellipse cx="577.1" cy="208.5" rx="4.7" ry="3.85"/>
<ellipse cx="578.9" cy="210.3" rx="4.7" ry="3.85"/>
<ellipse cx="580.9" cy="209.3" rx="4.7" ry="3.85"/>
<ellipse cx="583.4" cy="209.7" rx="4.7" ry="3.85"/>
<ellipse cx="586.5" cy="208.7" rx="4.7" ry="3.85"/>
<ellipse cx="588.5" cy="209.2" rx="4.7" ry="3.85"/>
<ellipse cx="589.7" cy="209.8" rx="4.7" ry="3.85"/>
<ellipse cx="592.5" cy="208.6" rx="4.7" ry="3.85"/>
<ellipse cx="562.0" cy="211.0" rx="4.7" ry="3.85"/>
<ellipse cx="564.0" cy="211.3" rx="4.7" ry="3.85"/>
<ellipse cx="567.4" cy="211.3" rx="4.7" ry="3.85"/>
<ellipse cx="568.1" cy="211.4" rx="4.7" ry="3.85"/>
<ellipse cx="570.4" cy="211.6" rx="4.7" ry="3.85"/>
<ellipse cx="573.0" cy="212.1" rx="4.7" ry="3.85"/>
<ellipse cx="575.9" cy="211.9" rx="4.7" ry="3.85"/>
<ellipse cx="577.5" cy="212.2" rx="4.7" ry="3.85"/>
<ellipse cx="579.7" cy="211.1" rx="4.7" ry="3.85"/>
<ellipse cx="582.7" cy="212.0" rx="4.7" ry="3.85"/>
<ellipse cx="583.7" cy="210.3" rx="4.7" ry="3.85"/>
<ellipse cx="586.9" cy="210.2" rx="4.7" ry="3.85"/>
<ellipse cx="589.6" cy="210.5" rx="4.7" ry="3.85"/>
<ellipse cx="591.5" cy="212.1" rx="4.7" ry="3.85"/>
<ellipse cx="560.2" cy="213.8" rx="4.7" ry="3.85"/>
<ellipse cx="561.9" cy="212.6" rx="4.7" ry="3.85"/>
<ellipse cx="565.8" cy="212.2" rx="4.7" ry="3.85"/>
<ellipse cx="567.3" cy="213.0" rx="4.7" ry="3.85"/>
<ellipse cx="569.7" cy="214.0" rx="4.7" ry="3.85"/>
<ellipse cx="573.0" cy="213.5" rx="4.7" ry="3.85"/>
<ellipse cx="573.7" cy="212.0" rx="4.7" ry="3.85"/>
<ellipse cx="577.1" cy="213.3" rx="4.7" ry="3.85"/>
<ellipse cx="578.5" cy="213.9" rx="4.7" ry="3.85"/>
<ellipse cx="580.3" cy="212.7" rx="4.7" ry="3.85"/>
<ellipse cx="582.7" cy="214.0" rx="4.7" ry="3.85"/>
<ellipse cx="586.6" cy="212.0" rx="4.7" ry="3.85"/>
<ellipse cx="587.4" cy="213.5" rx="4.7" ry="3.85"/>
<ellipse cx="591.1" cy="213.6" rx="4.7" ry="3.85"/>
<ellipse cx="591.8" cy="212.2" rx="4.7" ry="3.85"/>
<ellipse cx="557.8" cy="214.9" rx="4.7" ry="3.85"/>
<ellipse cx="560.2" cy="214.1" rx="4.7" ry="3.85"/>
<ellipse cx="560.7" cy="215.8" rx="4.7" ry="3.85"/>
<ellipse cx="564.6" cy="215.5" rx="4.7" ry="3.85"/>
<ellipse cx="567.4" cy="215.4" rx="4.7" ry="3.85"/>
<ellipse cx="569.6" cy="214.0" rx="4.7" ry="3.85"/>
<ellipse cx="570.4" cy="214.5" rx="4.7" ry="3.85"/>
<ellipse cx="574.3" cy="213.9" rx="4.7" ry="3.85"/>
<ellipse cx="574.8" cy="215.9" rx="4.7" ry="3.85"/>
<ellipse cx="578.3" cy="214.9" rx="4.7" ry="3.85"/>
<ellipse cx="579.8" cy="214.7" rx="4.7" ry="3.85"/>
<ellipse cx="582.9" cy="215.6" rx="4.7" ry="3.85"/>
<ellipse cx="585.5" cy="215.3" rx="4.7" ry="3.85"/>
<ellipse cx="586.9" cy="215.0" rx="4.7" ry="3.85"/>
<ellipse cx="588.5" cy="214.4" rx="4.7" ry="3.85"/>
<ellipse cx="590.7" cy="215.3" rx="4.7" ry="3.85"/>
<ellipse cx="558.5" cy="216.1" rx="4.7" ry="3.85"/>
<ellipse cx="560.4" cy="216.2" rx="4.7" ry="3.85"/>
<ellipse cx="563.7" cy="217.0" rx="4.7" ry="3.85"/>
<ellipse cx="564.5" cy="216.2" rx="4.7" ry="3.85"/>
<ellipse cx="566.6" cy="216.3" rx="4.7" ry="3.85"/>
<ellipse cx="569.8" cy="217.5" rx="4.7" ry="3.85"/>
<ellipse cx="572.4" cy="216.9" rx="4.7" ry="3.85"/>
<ellipse cx="574.1" cy="215.6" rx="4.7" ry="3.85"/>
<ellipse cx="577.3" cy="215.9" rx="4.7" ry="3.85"/>
<ellipse cx="578.4" cy="217.0" rx="4.7" ry="3.85"/>
<ellipse cx="580.3" cy="216.7" rx="4.7" ry="3.85"/>
<ellipse cx="583.1" cy="216.4" rx="4.7" ry="3.85"/>
<ellipse cx="584.9" cy="216.2" rx="4.7" ry="3.85"/>
<ellipse cx="587.8" cy="216.5" rx="4.7" ry="3.85"/>
<ellipse cx="590.1" cy="215.7" rx="4.7" ry="3.85"/>
<ellipse cx="593.3" cy="216.7" rx="4.7" ry="3.85"/>
<ellipse cx="559.4" cy="217.9" rx="4.7" ry="3.85"/>
<ellipse cx="562.6" cy="217.7" rx="4.7" ry="3.85"/>
<ellipse cx="564.2" cy="217.7" rx="4.7" ry="3.85"/>
<ellipse cx="566.6" cy="218.9" rx="4.7" ry="3.85"/>
<ellipse cx="568.9" cy="218.3" rx="4.7" ry="3.85"/>
<ellipse cx="569.9" cy="219.2" rx="4.7" ry="3.85"/>
<ellipse cx="574.1" cy="217.6" rx="4.7" ry="3.85"/>
<ellipse cx="574.9" cy="218.2" rx="4.7" ry="3.85"/>
<ellipse cx="578.6" cy="219.2" rx="4.7" ry="3.85"/>
<ellipse cx="579.9" cy="219.4" rx="4.7" ry="3.85"/>
<ellipse cx="582.6" cy="218.9" rx="4.7" ry="3.85"/>
<ellipse cx="584.5" cy="217.7" rx="4.7" ry="3.85"/>
<ellipse cx="586.4" cy="217.8" rx="4.7" ry="3.85"/>
<ellipse cx="589.6" cy="218.8" rx="4.7" ry="3.85"/>
<ellipse cx="592.4" cy="219.0" rx="4.7" ry="3.85"/>
<ellipse cx="561.4" cy="220.7" rx="4.7" ry="3.85"/>
<ellipse cx="562.3" cy="220.5" rx="4.7" ry="3.85"/>
<ellipse cx="564.2" cy="219.5" rx="4.7" ry="3.85"/>
<ellipse cx="567.7" cy="219.5" rx="4.7" ry="3.85"/>
<ellipse cx="569.3" cy="220.5" rx="4.7" ry="3.85"/>
<ellipse cx="571.8" cy="221.3" rx="4.7" ry="3.85"/>
<ellipse cx="574.2" cy="220.4" rx="4.7" ry="3.85"/>
<ellipse cx="577.7" cy="220.9" rx="4.7" ry="3.85"/>
<ellipse cx="579.4" cy="220.6" rx="4.7" ry="3.85"/>
<ellipse cx="582.3" cy="220.9" rx="4.7" ry="3.85"/>
<ellipse cx="583.7" cy="220.2" rx="4.7" ry="3.85"/>
<ellipse cx="586.5" cy="219.8" rx="4.7" ry="3.85"/>
<ellipse cx="588.2" cy="220.2" rx="4.7" ry="3.85"/>
<ellipse cx="591.0" cy="221.4" rx="4.7" ry="3.85"/>
<ellipse cx="593.4" cy="219.9" rx="4.7" ry="3.85"/>
<ellipse cx="559.3" cy="221.9" rx="4.7" ry="3.85"/>
<ellipse cx="561.7" cy="222.3" rx="4.7" ry="3.85"/>
<ellipse cx="563.2" cy="222.2" rx="4.7" ry="3.85"/>
<ellipse cx="565.7" cy="222.1" rx="4.7" ry="3.85"/>
<ellipse cx="568.7" cy="222.3" rx="4.7" ry="3.85"/>
<ellipse cx="570.2" cy="221.2" rx="4.7" ry="3.85"/>
<ellipse cx="574.2" cy="221.7" rx="4.7" ry="3.85"/>
<ellipse cx="575.2" cy="222.7" rx="4.7" ry="3.85"/>
<ellipse cx="578.5" cy="221.2" rx="4.7" ry="3.85"/>
<ellipse cx="579.5" cy="221.9" rx="4.7" ry="3.85"/>
<ellipse cx="582.2" cy="223.2" rx="4.7" ry="3.85"/>
<ellipse cx="584.9" cy="223.2" rx="4.7" ry="3.85"/>
<ellipse cx="587.2" cy="222.9" rx="4.7" ry="3.85"/>
<ellipse cx="588.4" cy="223.1" rx="4.7" ry="3.85"/>
<ellipse cx="591.8" cy="221.3" rx="4.7" ry="3.85"/>
<ellipse cx="593.7" cy="222.5" rx="4.7" ry="3.85"/>
<ellipse cx="560.0" cy="223.6" rx="4.7" ry="3.85"/>
<ellipse cx="563.9" cy="223.2" rx="4.7" ry="3.85"/>
<ellipse cx="565.8" cy="223.2" rx="4.7" ry="3.85"/>
<ellipse cx="568.1" cy="224.5" rx="4.7" ry="3.85"/>
<ellipse cx="569.0" cy="224.8" rx="4.7" ry="3.85"/>
<ellipse cx="572.8" cy="224.0" rx="4.7" ry="3.85"/>
<ellipse cx="574.4" cy="223.5" rx="4.7" ry="3.85"/>
<ellipse cx="576.7" cy="223.1" rx="4.7" ry="3.85"/>
<ellipse cx="579.8" cy="224.2" rx="4.7" ry="3.85"/>
<ellipse cx="580.6" cy="224.0" rx="4.7" ry="3.85"/>
<ellipse cx="582.8" cy="223.6" rx="4.7" ry="3.85"/>
<ellipse cx="586.4" cy="224.1" rx="4.7" ry="3.85"/>
<ellipse cx="588.9" cy="225.0" rx="4.7" ry="3.85"/>
<ellipse cx="589.6" cy="224.8" rx="4.7" ry="3.85"/>
<ellipse cx="592.3" cy="223.3" rx="4.7" ry="3.85"/>
<ellipse cx="559.4" cy="225.1" rx="4.7" ry="3.85"/>
<ellipse cx="561.8" cy="225.5" rx="4.7" ry="3.85"/>
<ellipse cx="565.0" cy="226.8" rx="4.7" ry="3.85"/>
<ellipse cx="565.5" cy="225.6" rx="4.7" ry="3.85"/>
<ellipse cx="568.1" cy="226.4" rx="4.7" ry="3.85"/>
<ellipse cx="570.2" cy="225.9" rx="4.7" ry="3.85"/>
<ellipse cx="574.1" cy="225.8" rx="4.7" ry="3.85"/>
<ellipse cx="575.5" cy="225.9" rx="4.7" ry="3.85"/>
<ellipse cx="577.2" cy="225.4" rx="4.7" ry="3.85"/>
<ellipse cx="579.1" cy="226.1" rx="4.7" ry="3.85"/>
<ellipse cx="583.0" cy="225.7" rx="4.7" ry="3.85"/>
<ellipse cx="584.2" cy="226.7" rx="4.7" ry="3.85"/>
<ellipse cx="586.1" cy="225.0" rx="4.7" ry="3.85"/>
<ellipse cx="589.1" cy="226.9" rx="4.7" ry="3.85"/>
<ellipse cx="592.1" cy="224.9" rx="4.7" ry="3.85"/>
<ellipse cx="594.9" cy="119.0" rx="4.7" ry="3.85"/>
<ellipse cx="595.1" cy="121.8" rx="4.7" ry="3.85"/>
<ellipse cx="598.0" cy="121.5" rx="4.7" ry="3.85"/>
<ellipse cx="602.0" cy="121.0" rx="4.7" ry="3.85"/>
<ellipse cx="592.2" cy="126.5" rx="4.7" ry="3.85"/>
<ellipse cx="597.9" cy="126.2" rx="4.7" ry="3.85"/>
<ellipse cx="599.7" cy="126.6" rx="4.7" ry="3.85"/>
<ellipse cx="602.7" cy="125.4" rx="4.7" ry="3.85"/>
<ellipse cx="596.8" cy="129.1" rx="4.7" ry="3.85"/>
<ellipse cx="599.0" cy="130.0" rx="4.7" ry="3.85"/>
<ellipse cx="594.0" cy="131.1" rx="4.7" ry="3.85"/>
<ellipse cx="597.8" cy="130.1" rx="4.7" ry="3.85"/>
<ellipse cx="599.9" cy="131.9" rx="4.7" ry="3.85"/>
<ellipse cx="603.8" cy="132.0" rx="4.7" ry="3.85"/>
<ellipse cx="595.5" cy="133.5" rx="4.7" ry="3.85"/>
<ellipse cx="598.8" cy="133.9" rx="4.7" ry="3.85"/>
<ellipse cx="597.6" cy="136.5" rx="4.7" ry="3.85"/>
<ellipse cx="601.1" cy="136.0" rx="4.7" ry="3.85"/>
<ellipse cx="604.8" cy="137.6" rx="4.7" ry="3.85"/>
<ellipse cx="594.7" cy="138.3" rx="4.7" ry="3.85"/>
<ellipse cx="599.0" cy="141.1" rx="4.7" ry="3.85"/>
<ellipse cx="603.5" cy="139.7" rx="4.7" ry="3.85"/>
<ellipse cx="593.7" cy="141.0" rx="4.7" ry="3.85"/>
<ellipse cx="596.2" cy="142.9" rx="4.7" ry="3.85"/>
<ellipse cx="600.4" cy="143.8" rx="4.7" ry="3.85"/>
<ellipse cx="602.6" cy="141.0" rx="4.7" ry="3.85"/>
<ellipse cx="595.4" cy="143.8" rx="4.7" ry="3.85"/>
<ellipse cx="599.8" cy="145.5" rx="4.7" ry="3.85"/>
<ellipse cx="601.1" cy="146.4" rx="4.7" ry="3.85"/>
<ellipse cx="594.8" cy="148.4" rx="4.7" ry="3.85"/>
<ellipse cx="595.8" cy="147.8" rx="4.7" ry="3.85"/>
<ellipse cx="604.5" cy="146.4" rx="4.7" ry="3.85"/>
<ellipse cx="595.8" cy="151.8" rx="4.7" ry="3.85"/>
<ellipse cx="599.0" cy="149.7" rx="4.7" ry="3.85"/>
<ellipse cx="601.1" cy="150.5" rx="4.7" ry="3.85"/>
<ellipse cx="597.2" cy="154.7" rx="4.7" ry="3.85"/>
<ellipse cx="599.2" cy="154.0" rx="4.7" ry="3.85"/>
<ellipse cx="595.9" cy="156.7" rx="4.7" ry="3.85"/>
<ellipse cx="598.1" cy="155.8" rx="4.7" ry="3.85"/>
<ellipse cx="601.4" cy="155.0" rx="4.7" ry="3.85"/>
<ellipse cx="606.1" cy="154.8" rx="4.7" ry="3.85"/>
<ellipse cx="595.1" cy="158.1" rx="4.7" ry="3.85"/>
<ellipse cx="596.5" cy="157.5" rx="4.7" ry="3.85"/>
<ellipse cx="601.6" cy="159.6" rx="4.7" ry="3.85"/>
<ellipse cx="604.5" cy="159.2" rx="4.7" ry="3.85"/>
<ellipse cx="594.4" cy="162.1" rx="4.7" ry="3.85"/>
<ellipse cx="598.2" cy="162.6" rx="4.7" ry="3.85"/>
<ellipse cx="602.2" cy="162.2" rx="4.7" ry="3.85"/>
<ellipse cx="605.2" cy="161.7" rx="4.7" ry="3.85"/>
<ellipse cx="598.3" cy="164.7" rx="4.7" ry="3.85"/>
<ellipse cx="601.6" cy="163.6" rx="4.7" ry="3.85"/>
<ellipse cx="604.4" cy="164.6" rx="4.7" ry="3.85"/>
<ellipse cx="595.5" cy="167.7" rx="4.7" ry="3.85"/>
<ellipse cx="598.0" cy="166.7" rx="4.7" ry="3.85"/>
<ellipse cx="600.9" cy="168.1" rx="4.7" ry="3.85"/>
<ellipse cx="597.7" cy="169.8" rx="4.7" ry="3.85"/>
<ellipse cx="599.8" cy="168.8" rx="4.7" ry="3.85"/>
<ellipse cx="593.4" cy="171.7" rx="4.7" ry="3.85"/>
<ellipse cx="594.2" cy="172.0" rx="4.7" ry="3.85"/>
<ellipse cx="598.8" cy="173.8" rx="4.7" ry="3.85"/>
<ellipse cx="597.5" cy="174.8" rx="4.7" ry="3.85"/>
<ellipse cx="605.1" cy="174.6" rx="4.7" ry="3.85"/>
<ellipse cx="595.9" cy="176.5" rx="4.7" ry="3.85"/>
<ellipse cx="600.0" cy="177.4" rx="4.7" ry="3.85"/>
<ellipse cx="603.6" cy="176.9" rx="4.7" ry="3.85"/>
<ellipse cx="604.3" cy="178.0" rx="4.7" ry="3.85"/>
<ellipse cx="598.5" cy="181.6" rx="4.7" ry="3.85"/>
<ellipse cx="601.9" cy="181.2" rx="4.7" ry="3.85"/>
<ellipse cx="604.9" cy="181.5" rx="4.7" ry="3.85"/>
<ellipse cx="600.9" cy="181.9" rx="4.7" ry="3.85"/>
<ellipse cx="604.3" cy="184.7" rx="4.7" ry="3.85"/>
<ellipse cx="593.4" cy="187.1" rx="4.7" ry="3.85"/>
<ellipse cx="597.5" cy="185.8" rx="4.7" ry="3.85"/>
<ellipse cx="601.9" cy="185.3" rx="4.7" ry="3.85"/>
<ellipse cx="603.8" cy="184.9" rx="4.7" ry="3.85"/>
<ellipse cx="597.7" cy="189.9" rx="4.7" ry="3.85"/>
<ellipse cx="602.7" cy="187.6" rx="4.7" ry="3.85"/>
<ellipse cx="605.4" cy="189.5" rx="4.7" ry="3.85"/>
<ellipse cx="593.4" cy="191.1" rx="4.7" ry="3.85"/>
<ellipse cx="596.4" cy="192.8" rx="4.7" ry="3.85"/>
<ellipse cx="599.4" cy="191.6" rx="4.7" ry="3.85"/>
<ellipse cx="604.6" cy="190.0" rx="4.7" ry="3.85"/>
<ellipse cx="594.8" cy="194.0" rx="4.7" ry="3.85"/>
<ellipse cx="598.9" cy="193.5" rx="4.7" ry="3.85"/>
<ellipse cx="601.9" cy="194.8" rx="4.7" ry="3.85"/>
<ellipse cx="605.5" cy="194.3" rx="4.7" ry="3.85"/>
<ellipse cx="594.2" cy="196.7" rx="4.7" ry="3.85"/>
<ellipse cx="595.9" cy="195.8" rx="4.7" ry="3.85"/>
<ellipse cx="599.5" cy="197.4" rx="4.7" ry="3.85"/>
<ellipse cx="605.1" cy="196.1" rx="4.7" ry="3.85"/>
<ellipse cx="596.0" cy="199.8" rx="4.7" ry="3.85"/>
<ellipse cx="599.7" cy="200.1" rx="4.7" ry="3.85"/>
<ellipse cx="602.5" cy="200.1" rx="4.7" ry="3.85"/>
<ellipse cx="600.1" cy="201.9" rx="4.7" ry="3.85"/>
<ellipse cx="603.1" cy="201.4" rx="4.7" ry="3.85"/>
<ellipse cx="600.2" cy="206.1" rx="4.7" ry="3.85"/>
<ellipse cx="606.0" cy="205.4" rx="4.7" ry="3.85"/>
<ellipse cx="597.2" cy="207.1" rx="4.7" ry="3.85"/>
<ellipse cx="603.3" cy="208.0" rx="4.7" ry="3.85"/>
<ellipse cx="595.9" cy="210.6" rx="4.7" ry="3.85"/>
<ellipse cx="597.5" cy="210.4" rx="4.7" ry="3.85"/>
<ellipse cx="603.2" cy="209.6" rx="4.7" ry="3.85"/>
<ellipse cx="605.0" cy="211.4" rx="4.7" ry="3.85"/>
<ellipse cx="594.1" cy="211.8" rx="4.7" ry="3.85"/>
<ellipse cx="597.7" cy="213.2" rx="4.7" ry="3.85"/>
<ellipse cx="600.4" cy="214.5" rx="4.7" ry="3.85"/>
<ellipse cx="604.1" cy="213.0" rx="4.7" ry="3.85"/>
<ellipse cx="595.6" cy="215.5" rx="4.7" ry="3.85"/>
<ellipse cx="597.8" cy="217.2" rx="4.7" ry="3.85"/>
<ellipse cx="601.8" cy="216.2" rx="4.7" ry="3.85"/>
<ellipse cx="604.7" cy="214.5" rx="4.7" ry="3.85"/>
<ellipse cx="595.6" cy="217.2" rx="4.7" ry="3.85"/>
<ellipse cx="604.4" cy="218.7" rx="4.7" ry="3.85"/>
<ellipse cx="596.5" cy="220.0" rx="4.7" ry="3.85"/>
<ellipse cx="598.7" cy="220.5" rx="4.7" ry="3.85"/>
<ellipse cx="600.9" cy="221.6" rx="4.7" ry="3.85"/>
<ellipse cx="606.2" cy="220.4" rx="4.7" ry="3.85"/>
<ellipse cx="596.5" cy="224.6" rx="4.7" ry="3.85"/>
<ellipse cx="601.7" cy="225.1" rx="4.7" ry="3.85"/>
<ellipse cx="556.8" cy="193.3" rx="4.7" ry="3.85"/>
<ellipse cx="550.2" cy="196.2" rx="4.7" ry="3.85"/>
<ellipse cx="553.5" cy="194.6" rx="4.7" ry="3.85"/>
<ellipse cx="555.5" cy="196.0" rx="4.7" ry="3.85"/>
<ellipse cx="558.0" cy="196.4" rx="4.7" ry="3.85"/>
<ellipse cx="561.3" cy="194.7" rx="4.7" ry="3.85"/>
<ellipse cx="565.1" cy="195.0" rx="4.7" ry="3.85"/>
<ellipse cx="548.0" cy="196.9" rx="4.7" ry="3.85"/>
<ellipse cx="552.1" cy="197.7" rx="4.7" ry="3.85"/>
<ellipse cx="554.3" cy="196.8" rx="4.7" ry="3.85"/>
<ellipse cx="557.4" cy="196.7" rx="4.7" ry="3.85"/>
<ellipse cx="559.5" cy="198.5" rx="4.7" ry="3.85"/>
<ellipse cx="564.1" cy="198.1" rx="4.7" ry="3.85"/>
<ellipse cx="565.2" cy="198.4" rx="4.7" ry="3.85"/>
<ellipse cx="567.8" cy="197.6" rx="4.7" ry="3.85"/>
<ellipse cx="543.8" cy="199.9" rx="4.7" ry="3.85"/>
<ellipse cx="546.6" cy="200.7" rx="4.7" ry="3.85"/>
<ellipse cx="550.4" cy="199.3" rx="4.7" ry="3.85"/>
<ellipse cx="553.4" cy="201.5" rx="4.7" ry="3.85"/>
<ellipse cx="557.7" cy="198.9" rx="4.7" ry="3.85"/>
<ellipse cx="560.6" cy="200.9" rx="4.7" ry="3.85"/>
<ellipse cx="563.5" cy="199.8" rx="4.7" ry="3.85"/>
<ellipse cx="567.4" cy="199.8" rx="4.7" ry="3.85"/>
<ellipse cx="540.1" cy="203.7" rx="4.7" ry="3.85"/>
<ellipse cx="542.1" cy="201.7" rx="4.7" ry="3.85"/>
<ellipse cx="544.2" cy="201.8" rx="4.7" ry="3.85"/>
<ellipse cx="547.5" cy="203.3" rx="4.7" ry="3.85"/>
<ellipse cx="551.9" cy="201.5" rx="4.7" ry="3.85"/>
<ellipse cx="554.0" cy="203.0" rx="4.7" ry="3.85"/>
<ellipse cx="557.5" cy="202.3" rx="4.7" ry="3.85"/>
<ellipse cx="560.2" cy="201.6" rx="4.7" ry="3.85"/>
<ellipse cx="563.7" cy="201.3" rx="4.7" ry="3.85"/>
<ellipse cx="566.1" cy="203.2" rx="4.7" ry="3.85"/>
<ellipse cx="540.7" cy="204.4" rx="4.7" ry="3.85"/>
<ellipse cx="542.8" cy="206.1" rx="4.7" ry="3.85"/>
<ellipse cx="547.5" cy="205.6" rx="4.7" ry="3.85"/>
<ellipse cx="552.9" cy="204.0" rx="4.7" ry="3.85"/>
<ellipse cx="555.5" cy="205.5" rx="4.7" ry="3.85"/>
<ellipse cx="559.6" cy="205.3" rx="4.7" ry="3.85"/>
<ellipse cx="562.4" cy="206.0" rx="4.7" ry="3.85"/>
<ellipse cx="538.9" cy="208.5" rx="4.7" ry="3.85"/>
<ellipse cx="543.3" cy="208.6" rx="4.7" ry="3.85"/>
<ellipse cx="545.6" cy="207.9" rx="4.7" ry="3.85"/>
<ellipse cx="548.0" cy="207.4" rx="4.7" ry="3.85"/>
<ellipse cx="550.4" cy="208.3" rx="4.7" ry="3.85"/>
<ellipse cx="554.5" cy="207.9" rx="4.7" ry="3.85"/>
<ellipse cx="557.2" cy="207.8" rx="4.7" ry="3.85"/>
<ellipse cx="559.8" cy="208.7" rx="4.7" ry="3.85"/>
<ellipse cx="562.9" cy="206.3" rx="4.7" ry="3.85"/>
<ellipse cx="538.7" cy="209.5" rx="4.7" ry="3.85"/>
<ellipse cx="541.7" cy="209.9" rx="4.7" ry="3.85"/>
<ellipse cx="542.4" cy="208.5" rx="4.7" ry="3.85"/>
<ellipse cx="545.4" cy="210.7" rx="4.7" ry="3.85"/>
<ellipse cx="550.7" cy="210.3" rx="4.7" ry="3.85"/>
<ellipse cx="553.1" cy="209.3" rx="4.7" ry="3.85"/>
<ellipse cx="554.4" cy="210.7" rx="4.7" ry="3.85"/>
<ellipse cx="558.7" cy="210.3" rx="4.7" ry="3.85"/>
<ellipse cx="560.5" cy="209.3" rx="4.7" ry="3.85"/>
<ellipse cx="540.1" cy="211.2" rx="4.7" ry="3.85"/>
<ellipse cx="542.8" cy="211.7" rx="4.7" ry="3.85"/>
<ellipse cx="546.3" cy="212.5" rx="4.7" ry="3.85"/>
<ellipse cx="550.5" cy="212.0" rx="4.7" ry="3.85"/>
<ellipse cx="554.4" cy="213.2" rx="4.7" ry="3.85"/>
<ellipse cx="556.1" cy="213.5" rx="4.7" ry="3.85"/>
<ellipse cx="537.8" cy="214.3" rx="4.7" ry="3.85"/>
<ellipse cx="540.6" cy="214.8" rx="4.7" ry="3.85"/>
<ellipse cx="542.9" cy="214.0" rx="4.7" ry="3.85"/>
<ellipse cx="555.0" cy="213.4" rx="4.7" ry="3.85"/>
<ellipse cx="540.0" cy="215.8" rx="4.7" ry="3.85"/>
<ellipse cx="542.9" cy="217.4" rx="4.7" ry="3.85"/>
<ellipse cx="545.9" cy="215.9" rx="4.7" ry="3.85"/>
<ellipse cx="551.7" cy="215.8" rx="4.7" ry="3.85"/>
<ellipse cx="554.4" cy="216.0" rx="4.7" ry="3.85"/>
<ellipse cx="541.2" cy="219.5" rx="4.7" ry="3.85"/>
<ellipse cx="543.5" cy="218.6" rx="4.7" ry="3.85"/>
<ellipse cx="546.6" cy="220.4" rx="4.7" ry="3.85"/>
<ellipse cx="548.7" cy="219.4" rx="4.7" ry="3.85"/>
<ellipse cx="552.7" cy="219.3" rx="4.7" ry="3.85"/>
<ellipse cx="556.0" cy="220.4" rx="4.7" ry="3.85"/>
<ellipse cx="540.1" cy="220.9" rx="4.7" ry="3.85"/>
<ellipse cx="543.2" cy="221.5" rx="4.7" ry="3.85"/>
<ellipse cx="545.8" cy="221.3" rx="4.7" ry="3.85"/>
<ellipse cx="548.8" cy="221.6" rx="4.7" ry="3.85"/>
<ellipse cx="550.9" cy="222.4" rx="4.7" ry="3.85"/>
<ellipse cx="555.1" cy="222.5" rx="4.7" ry="3.85"/>
<ellipse cx="556.6" cy="220.5" rx="4.7" ry="3.85"/>
<ellipse cx="541.5" cy="223.6" rx="4.7" ry="3.85"/>
<ellipse cx="546.9" cy="224.3" rx="4.7" ry="3.85"/>
<ellipse cx="551.5" cy="224.4" rx="4.7" ry="3.85"/>
<ellipse cx="556.8" cy="224.9" rx="4.7" ry="3.85"/>
<ellipse cx="550.6" cy="225.4" rx="4.7" ry="3.85"/>
<ellipse cx="554.6" cy="226.6" rx="4.7" ry="3.85"/>
<ellipse cx="556.2" cy="226.0" rx="4.7" ry="3.85"/>
<ellipse cx="558.7" cy="177.1" rx="4.7" ry="3.85"/>
<ellipse cx="548.3" cy="179.2" rx="4.7" ry="3.85"/>
<ellipse cx="555.7" cy="178.1" rx="4.7" ry="3.85"/>
<ellipse cx="540.9" cy="182.3" rx="4.7" ry="3.85"/>
<ellipse cx="547.7" cy="184.5" rx="4.7" ry="3.85"/>
<ellipse cx="554.5" cy="183.5" rx="4.7" ry="3.85"/>
<ellipse cx="542.7" cy="188.9" rx="4.7" ry="3.85"/>
<ellipse cx="547.8" cy="185.0" rx="4.7" ry="3.85"/>
<ellipse cx="554.7" cy="186.2" rx="4.7" ry="3.85"/>
<ellipse cx="561.0" cy="185.1" rx="4.7" ry="3.85"/>
<ellipse cx="566.2" cy="186.6" rx="4.7" ry="3.85"/>
<ellipse cx="572.8" cy="185.7" rx="4.7" ry="3.85"/>
<ellipse cx="536.7" cy="189.1" rx="4.7" ry="3.85"/>
<ellipse cx="545.2" cy="189.7" rx="4.7" ry="3.85"/>
<ellipse cx="549.5" cy="190.2" rx="4.7" ry="3.85"/>
<ellipse cx="564.5" cy="191.7" rx="4.7" ry="3.85"/>
<ellipse cx="570.4" cy="189.4" rx="4.7" ry="3.85"/>
<ellipse cx="532.7" cy="195.4" rx="4.7" ry="3.85"/>
<ellipse cx="557.4" cy="192.9" rx="4.7" ry="3.85"/>
<ellipse cx="535.4" cy="197.7" rx="4.7" ry="3.85"/>
<ellipse cx="538.6" cy="196.3" rx="4.7" ry="3.85"/>
<ellipse cx="584.4" cy="124.9" rx="4.7" ry="3.85"/>
<ellipse cx="579.7" cy="127.0" rx="4.7" ry="3.85"/>
<ellipse cx="576.5" cy="132.1" rx="4.7" ry="3.85"/>
<ellipse cx="580.8" cy="130.9" rx="4.7" ry="3.85"/>
<ellipse cx="583.7" cy="128.8" rx="4.7" ry="3.85"/>
<ellipse cx="579.1" cy="134.9" rx="4.7" ry="3.85"/>
<ellipse cx="582.0" cy="135.0" rx="4.7" ry="3.85"/>
<ellipse cx="581.6" cy="136.7" rx="4.7" ry="3.85"/>
<ellipse cx="582.6" cy="137.9" rx="4.7" ry="3.85"/>
<ellipse cx="577.9" cy="142.0" rx="4.7" ry="3.85"/>
<ellipse cx="581.2" cy="141.2" rx="4.7" ry="3.85"/>
<ellipse cx="577.1" cy="147.4" rx="4.7" ry="3.85"/>
<ellipse cx="580.7" cy="145.8" rx="4.7" ry="3.85"/>
<ellipse cx="578.9" cy="148.9" rx="4.7" ry="3.85"/>
<ellipse cx="578.6" cy="154.6" rx="4.7" ry="3.85"/>
<ellipse cx="576.6" cy="157.9" rx="4.7" ry="3.85"/>
<ellipse cx="575.8" cy="161.2" rx="4.7" ry="3.85"/>
<ellipse cx="573.8" cy="165.6" rx="4.7" ry="3.85"/>
<ellipse cx="579.0" cy="167.2" rx="4.7" ry="3.85"/>
<ellipse cx="573.2" cy="171.8" rx="4.7" ry="3.85"/>
<ellipse cx="578.1" cy="171.5" rx="4.7" ry="3.85"/>
<ellipse cx="574.3" cy="174.1" rx="4.7" ry="3.85"/>
<ellipse cx="575.7" cy="180.0" rx="4.7" ry="3.85"/>
<ellipse cx="578.6" cy="178.6" rx="4.7" ry="3.85"/>
<ellipse cx="574.6" cy="183.0" rx="4.7" ry="3.85"/>
<ellipse cx="575.0" cy="183.4" rx="4.7" ry="3.85"/>
<ellipse cx="537.0" cy="178.6" rx="4.7" ry="3.85"/>
<ellipse cx="551.1" cy="173.0" rx="4.7" ry="3.85"/>
<ellipse cx="512.0" cy="162.3" rx="4.7" ry="3.85"/>
<ellipse cx="533.6" cy="182.5" rx="4.7" ry="3.85"/>
<ellipse cx="522.2" cy="174.3" rx="4.7" ry="3.85"/>
<ellipse cx="528.9" cy="178.2" rx="4.7" ry="3.85"/>
<ellipse cx="558.2" cy="175.9" rx="4.7" ry="3.85"/>
<ellipse cx="562.5" cy="181.1" rx="4.7" ry="3.85"/>
<ellipse cx="515.9" cy="182.8" rx="4.7" ry="3.85"/>
<ellipse cx="543.9" cy="188.0" rx="4.7" ry="3.85"/>
<ellipse cx="575.6" cy="167.6" rx="4.7" ry="3.85"/>
<ellipse cx="569.5" cy="161.5" rx="4.7" ry="3.85"/>
<ellipse cx="567.7" cy="172.3" rx="4.7" ry="3.85"/>
<ellipse cx="541.8" cy="174.9" rx="4.7" ry="3.85"/>
<ellipse cx="536.1" cy="161.5" rx="4.7" ry="3.85"/>
<ellipse cx="558.5" cy="181.4" rx="4.7" ry="3.85"/>
<ellipse cx="513.8" cy="163.5" rx="4.7" ry="3.85"/>
<ellipse cx="575.2" cy="164.1" rx="4.7" ry="3.85"/>
<ellipse cx="530.5" cy="178.9" rx="4.7" ry="3.85"/>
<ellipse cx="536.1" cy="197.4" rx="4.7" ry="3.85"/>
<ellipse cx="525.7" cy="158.5" rx="4.7" ry="3.85"/>
<ellipse cx="541.1" cy="164.2" rx="4.7" ry="3.85"/>
<ellipse cx="517.8" cy="165.5" rx="4.7" ry="3.85"/>
<ellipse cx="519.4" cy="171.6" rx="4.7" ry="3.85"/>
<ellipse cx="535.4" cy="186.4" rx="4.7" ry="3.85"/>
<ellipse cx="539.4" cy="182.2" rx="4.7" ry="3.85"/>
<ellipse cx="519.3" cy="180.5" rx="4.7" ry="3.85"/>
<ellipse cx="519.8" cy="158.3" rx="4.7" ry="3.85"/>
<ellipse cx="563.4" cy="153.4" rx="4.7" ry="3.85"/>
<ellipse cx="553.4" cy="168.3" rx="4.7" ry="3.85"/>
<ellipse cx="533.0" cy="190.6" rx="4.7" ry="3.85"/>
<ellipse cx="539.9" cy="172.1" rx="4.7" ry="3.85"/>
<ellipse cx="531.8" cy="186.2" rx="4.7" ry="3.85"/>
<ellipse cx="569.9" cy="170.0" rx="4.7" ry="3.85"/>
<ellipse cx="539.5" cy="190.1" rx="4.7" ry="3.85"/>
</g>
<g fill="#1f8a80" fill-opacity="0.6" stroke="#1f8a80" stroke-opacity="0.6" stroke-width="0.5">
</g>
<g fill="#b2182b" fill-opacity="0.65" stroke="#b2182b" stroke-opacity="0.65" stroke-width="0.5">
<ellipse cx="600.0" cy="99.8" rx="4.7" ry="3.85"/>
<ellipse cx="601.3" cy="99.8" rx="4.7" ry="3.85"/>
<ellipse cx="602.6" cy="99.8" rx="4.7" ry="3.85"/>
<ellipse cx="603.9" cy="99.8" rx="4.7" ry="3.85"/>
<ellipse cx="605.2" cy="99.8" rx="4.7" ry="3.85"/>
<ellipse cx="606.6" cy="99.8" rx="4.7" ry="3.85"/>
<ellipse cx="607.9" cy="99.8" rx="4.7" ry="3.85"/>
<ellipse cx="609.2" cy="99.8" rx="4.7" ry="3.85"/>
<ellipse cx="610.5" cy="99.8" rx="4.7" ry="3.85"/>
<ellipse cx="611.8" cy="99.8" rx="4.7" ry="3.85"/>
<ellipse cx="613.1" cy="99.8" rx="4.7" ry="3.85"/>
<ellipse cx="614.4" cy="99.8" rx="4.7" ry="3.85"/>
<ellipse cx="615.8" cy="99.8" rx="4.7" ry="3.85"/>
<ellipse cx="617.1" cy="99.8" rx="4.7" ry="3.85"/>
<ellipse cx="618.4" cy="99.8" rx="4.7" ry="3.85"/>
<ellipse cx="619.7" cy="99.8" rx="4.7" ry="3.85"/>
<ellipse cx="621.0" cy="99.8" rx="4.7" ry="3.85"/>
<ellipse cx="622.3" cy="99.8" rx="4.7" ry="3.85"/>
<ellipse cx="623.6" cy="99.8" rx="4.7" ry="3.85"/>
<ellipse cx="624.9" cy="99.8" rx="4.7" ry="3.85"/>
<ellipse cx="626.2" cy="99.8" rx="4.7" ry="3.85"/>
<ellipse cx="627.6" cy="99.8" rx="4.7" ry="3.85"/>
<ellipse cx="628.9" cy="99.8" rx="4.7" ry="3.85"/>
<ellipse cx="630.2" cy="99.8" rx="4.7" ry="3.85"/>
<ellipse cx="631.5" cy="99.8" rx="4.7" ry="3.85"/>
<ellipse cx="640.8" cy="99.8" rx="4.7" ry="3.85"/>
</g>
<line x1="112.40" y1="36.00" x2="112.40" y2="245.00" stroke="#222" stroke-width="0.85" stroke-dasharray="3.4 2.85" stroke-dashoffset="0.8"/>
<line x1="131.20" y1="36.00" x2="131.20" y2="245.00" stroke="#222" stroke-width="0.85" stroke-dasharray="3.4 2.85" stroke-dashoffset="0.8"/>
<line x1="24.50" y1="169.40" x2="218.60" y2="169.40" stroke="#222" stroke-width="0.85" stroke-dasharray="3.4 2.85"/>
<line x1="339.40" y1="36.00" x2="339.40" y2="245.00" stroke="#222" stroke-width="0.85" stroke-dasharray="3.4 2.85" stroke-dashoffset="0.8"/>
<line x1="357.90" y1="36.00" x2="357.90" y2="245.00" stroke="#222" stroke-width="0.85" stroke-dasharray="3.4 2.85" stroke-dashoffset="0.8"/>
<line x1="251.50" y1="169.40" x2="445.60" y2="169.40" stroke="#222" stroke-width="0.85" stroke-dasharray="3.4 2.85"/>
<line x1="555.00" y1="36.00" x2="555.00" y2="245.30" stroke="#222" stroke-width="0.85" stroke-dasharray="3.4 2.85" stroke-dashoffset="0.8"/>
<line x1="596.10" y1="36.00" x2="596.10" y2="245.30" stroke="#222" stroke-width="0.85" stroke-dasharray="3.4 2.85" stroke-dashoffset="0.8"/>
<line x1="478.30" y1="115.20" x2="672.50" y2="115.20" stroke="#222" stroke-width="0.85" stroke-dasharray="3.4 2.85"/>
<line x1="24.50" y1="36.00" x2="24.50" y2="245.90" stroke="#2a2a2a" stroke-width="0.9"/>
<line x1="24.05" y1="245.40" x2="218.60" y2="245.40" stroke="#2a2a2a" stroke-width="0.9"/>
<line x1="21.70" y1="245.00" x2="24.50" y2="245.00" stroke="#333" stroke-width="0.7"/>
<text transform="translate(20.90,247.70) scale(1.15,1) rotate(0.05)" font-family="Liberation Sans" font-size="6.4" text-anchor="end" fill="#4d4d4d">0.0</text>
<line x1="21.70" y1="216.00" x2="24.50" y2="216.00" stroke="#333" stroke-width="0.7"/>
<text transform="translate(20.90,218.70) scale(1.15,1) rotate(0.05)" font-family="Liberation Sans" font-size="6.4" text-anchor="end" fill="#4d4d4d">0.5</text>
<line x1="21.70" y1="187.00" x2="24.50" y2="187.00" stroke="#333" stroke-width="0.7"/>
<text transform="translate(20.90,189.70) scale(1.15,1) rotate(0.05)" font-family="Liberation Sans" font-size="6.4" text-anchor="end" fill="#4d4d4d">1.0</text>
<line x1="21.70" y1="158.00" x2="24.50" y2="158.00" stroke="#333" stroke-width="0.7"/>
<text transform="translate(20.90,160.70) scale(1.15,1) rotate(0.05)" font-family="Liberation Sans" font-size="6.4" text-anchor="end" fill="#4d4d4d">1.5</text>
<line x1="21.70" y1="129.00" x2="24.50" y2="129.00" stroke="#333" stroke-width="0.7"/>
<text transform="translate(20.90,131.70) scale(1.15,1) rotate(0.05)" font-family="Liberation Sans" font-size="6.4" text-anchor="end" fill="#4d4d4d">2.0</text>
<line x1="21.70" y1="100.00" x2="24.50" y2="100.00" stroke="#333" stroke-width="0.7"/>
<text transform="translate(20.90,102.70) scale(1.15,1) rotate(0.05)" font-family="Liberation Sans" font-size="6.4" text-anchor="end" fill="#4d4d4d">2.5</text>
<line x1="21.70" y1="71.00" x2="24.50" y2="71.00" stroke="#333" stroke-width="0.7"/>
<text transform="translate(20.90,73.70) scale(1.15,1) rotate(0.05)" font-family="Liberation Sans" font-size="6.4" text-anchor="end" fill="#4d4d4d">3.0</text>
<line x1="21.70" y1="42.00" x2="24.50" y2="42.00" stroke="#333" stroke-width="0.7"/>
<text transform="translate(20.90,44.70) scale(1.15,1) rotate(0.05)" font-family="Liberation Sans" font-size="6.4" text-anchor="end" fill="#4d4d4d">3.5</text>
<line x1="41.50" y1="245.00" x2="41.50" y2="247.40" stroke="#333" stroke-width="0.7"/>
<text transform="translate(41.50,252.80) scale(1.15,1) rotate(0.05)" font-family="Liberation Sans" font-size="6.0" text-anchor="middle" fill="#4d4d4d">-5.0</text>
<line x1="81.50" y1="245.00" x2="81.50" y2="247.40" stroke="#333" stroke-width="0.7"/>
<text transform="translate(81.50,252.80) scale(1.15,1) rotate(0.05)" font-family="Liberation Sans" font-size="6.0" text-anchor="middle" fill="#4d4d4d">-2.5</text>
<line x1="121.50" y1="245.00" x2="121.50" y2="247.40" stroke="#333" stroke-width="0.7"/>
<text transform="translate(121.50,252.80) scale(1.15,1) rotate(0.05)" font-family="Liberation Sans" font-size="6.0" text-anchor="middle" fill="#4d4d4d">0.0</text>
<line x1="161.50" y1="245.00" x2="161.50" y2="247.40" stroke="#333" stroke-width="0.7"/>
<text transform="translate(161.50,252.80) scale(1.15,1) rotate(0.05)" font-family="Liberation Sans" font-size="6.0" text-anchor="middle" fill="#4d4d4d">2.5</text>
<line x1="201.50" y1="245.00" x2="201.50" y2="247.40" stroke="#333" stroke-width="0.7"/>
<text transform="translate(201.50,252.80) scale(1.15,1) rotate(0.05)" font-family="Liberation Sans" font-size="6.0" text-anchor="middle" fill="#4d4d4d">5.0</text>
<text transform="translate(121.55,260.80) scale(1.15,1) rotate(0.05)" font-family="Liberation Sans" font-size="7.6" text-anchor="middle" fill="#000">Log2(Fold Change)</text>
<text transform="translate(6.90,140.50) scale(1.1,1) rotate(-90)" font-family="Liberation Sans" font-size="7.6" text-anchor="middle" fill="#000">-Log10(Qvalues)</text>
<text transform="translate(121.55,19.90) scale(1.15,1) rotate(0.05)" font-family="Liberation Sans" font-size="9.1" text-anchor="middle" fill="#000" font-weight="bold">Health/Mild</text>
<text transform="translate(74.20,31.00) scale(1.15,1) rotate(0.05)" font-family="Liberation Sans" font-size="7.6" text-anchor="middle" fill="#000" font-style="italic">n.down= 362</text>
<text transform="translate(172.80,31.00) scale(1.15,1) rotate(0.05)" font-family="Liberation Sans" font-size="7.6" text-anchor="middle" fill="#000" font-style="italic">n.up= 245</text>
<line x1="251.50" y1="36.00" x2="251.50" y2="245.90" stroke="#2a2a2a" stroke-width="0.9"/>
<line x1="251.05" y1="245.40" x2="445.60" y2="245.40" stroke="#2a2a2a" stroke-width="0.9"/>
<line x1="248.70" y1="245.00" x2="251.50" y2="245.00" stroke="#333" stroke-width="0.7"/>
<text transform="translate(247.90,247.70) scale(1.15,1) rotate(0.05)" font-family="Liberation Sans" font-size="6.4" text-anchor="end" fill="#4d4d4d">0.0</text>
<line x1="248.70" y1="216.00" x2="251.50" y2="216.00" stroke="#333" stroke-width="0.7"/>
<text transform="translate(247.90,218.70) scale(1.15,1) rotate(0.05)" font-family="Liberation Sans" font-size="6.4" text-anchor="end" fill="#4d4d4d">0.5</text>
<line x1="248.70" y1="187.00" x2="251.50" y2="187.00" stroke="#333" stroke-width="0.7"/>
<text transform="translate(247.90,189.70) scale(1.15,1) rotate(0.05)" font-family="Liberation Sans" font-size="6.4" text-anchor="end" fill="#4d4d4d">1.0</text>
<line x1="248.70" y1="158.00" x2="251.50" y2="158.00" stroke="#333" stroke-width="0.7"/>
<text transform="translate(247.90,160.70) scale(1.15,1) rotate(0.05)" font-family="Liberation Sans" font-size="6.4" text-anchor="end" fill="#4d4d4d">1.5</text>
<line x1="248.70" y1="129.00" x2="251.50" y2="129.00" stroke="#333" stroke-width="0.7"/>
<text transform="translate(247.90,131.70) scale(1.15,1) rotate(0.05)" font-family="Liberation Sans" font-size="6.4" text-anchor="end" fill="#4d4d4d">2.0</text>
<line x1="248.70" y1="100.00" x2="251.50" y2="100.00" stroke="#333" stroke-width="0.7"/>
<text transform="translate(247.90,102.70) scale(1.15,1) rotate(0.05)" font-family="Liberation Sans" font-size="6.4" text-anchor="end" fill="#4d4d4d">2.5</text>
<line x1="248.70" y1="71.00" x2="251.50" y2="71.00" stroke="#333" stroke-width="0.7"/>
<text transform="translate(247.90,73.70) scale(1.15,1) rotate(0.05)" font-family="Liberation Sans" font-size="6.4" text-anchor="end" fill="#4d4d4d">3.0</text>
<line x1="248.70" y1="42.00" x2="251.50" y2="42.00" stroke="#333" stroke-width="0.7"/>
<text transform="translate(247.90,44.70) scale(1.15,1) rotate(0.05)" font-family="Liberation Sans" font-size="6.4" text-anchor="end" fill="#4d4d4d">3.5</text>
<line x1="268.10" y1="245.00" x2="268.10" y2="247.40" stroke="#333" stroke-width="0.7"/>
<text transform="translate(268.10,252.80) scale(1.15,1) rotate(0.05)" font-family="Liberation Sans" font-size="6.0" text-anchor="middle" fill="#4d4d4d">-5.0</text>
<line x1="308.35" y1="245.00" x2="308.35" y2="247.40" stroke="#333" stroke-width="0.7"/>
<text transform="translate(308.35,252.80) scale(1.15,1) rotate(0.05)" font-family="Liberation Sans" font-size="6.0" text-anchor="middle" fill="#4d4d4d">-2.5</text>
<line x1="348.60" y1="245.00" x2="348.60" y2="247.40" stroke="#333" stroke-width="0.7"/>
<text transform="translate(348.60,252.80) scale(1.15,1) rotate(0.05)" font-family="Liberation Sans" font-size="6.0" text-anchor="middle" fill="#4d4d4d">0.0</text>
<line x1="388.85" y1="245.00" x2="388.85" y2="247.40" stroke="#333" stroke-width="0.7"/>
<text transform="translate(388.85,252.80) scale(1.15,1) rotate(0.05)" font-family="Liberation Sans" font-size="6.0" text-anchor="middle" fill="#4d4d4d">2.5</text>
<line x1="429.10" y1="245.00" x2="429.10" y2="247.40" stroke="#333" stroke-width="0.7"/>
<text transform="translate(429.10,252.80) scale(1.15,1) rotate(0.05)" font-family="Liberation Sans" font-size="6.0" text-anchor="middle" fill="#4d4d4d">5.0</text>
<text transform="translate(348.55,260.80) scale(1.15,1) rotate(0.05)" font-family="Liberation Sans" font-size="7.6" text-anchor="middle" fill="#000">Log2(Fold Change)</text>
<text transform="translate(233.30,140.50) scale(1.1,1) rotate(-90)" font-family="Liberation Sans" font-size="7.6" text-anchor="middle" fill="#000">-Log10(Qvalues)</text>
<text transform="translate(348.55,19.90) scale(1.15,1) rotate(0.05)" font-family="Liberation Sans" font-size="9.1" text-anchor="middle" fill="#000" font-weight="bold">Health/Critical</text>
<text transform="translate(301.20,31.00) scale(1.15,1) rotate(0.05)" font-family="Liberation Sans" font-size="7.6" text-anchor="middle" fill="#000" font-style="italic">n.down= 272</text>
<text transform="translate(399.50,31.00) scale(1.15,1) rotate(0.05)" font-family="Liberation Sans" font-size="7.6" text-anchor="middle" fill="#000" font-style="italic">n.up= 240</text>
<line x1="478.30" y1="36.00" x2="478.30" y2="246.20" stroke="#2a2a2a" stroke-width="0.9"/>
<line x1="477.85" y1="245.70" x2="672.50" y2="245.70" stroke="#2a2a2a" stroke-width="0.9"/>
<line x1="475.50" y1="245.30" x2="478.30" y2="245.30" stroke="#333" stroke-width="0.7"/>
<text transform="translate(474.70,248.00) scale(1.15,1) rotate(0.05)" font-family="Liberation Sans" font-size="6.4" text-anchor="end" fill="#4d4d4d">0.0</text>
<line x1="475.50" y1="195.30" x2="478.30" y2="195.30" stroke="#333" stroke-width="0.7"/>
<text transform="translate(474.70,198.00) scale(1.15,1) rotate(0.05)" font-family="Liberation Sans" font-size="6.4" text-anchor="end" fill="#4d4d4d">0.5</text>
<line x1="475.50" y1="145.30" x2="478.30" y2="145.30" stroke="#333" stroke-width="0.7"/>
<text transform="translate(474.70,148.00) scale(1.15,1) rotate(0.05)" font-family="Liberation Sans" font-size="6.4" text-anchor="end" fill="#4d4d4d">1.0</text>
<line x1="475.50" y1="95.30" x2="478.30" y2="95.30" stroke="#333" stroke-width="0.7"/>
<text transform="translate(474.70,98.00) scale(1.15,1) rotate(0.05)" font-family="Liberation Sans" font-size="6.4" text-anchor="end" fill="#4d4d4d">1.5</text>
<line x1="475.50" y1="45.30" x2="478.30" y2="45.30" stroke="#333" stroke-width="0.7"/>
<text transform="translate(474.70,48.00) scale(1.15,1) rotate(0.05)" font-family="Liberation Sans" font-size="6.4" text-anchor="end" fill="#4d4d4d">2.0</text>
<line x1="504.90" y1="245.30" x2="504.90" y2="247.70" stroke="#333" stroke-width="0.7"/>
<text transform="translate(504.90,253.10) scale(1.15,1) rotate(0.05)" font-family="Liberation Sans" font-size="6.0" text-anchor="middle" fill="#4d4d4d">-2</text>
<line x1="540.20" y1="245.30" x2="540.20" y2="247.70" stroke="#333" stroke-width="0.7"/>
<text transform="translate(540.20,253.10) scale(1.15,1) rotate(0.05)" font-family="Liberation Sans" font-size="6.0" text-anchor="middle" fill="#4d4d4d">-1</text>
<line x1="575.50" y1="245.30" x2="575.50" y2="247.70" stroke="#333" stroke-width="0.7"/>
<text transform="translate(575.50,253.10) scale(1.15,1) rotate(0.05)" font-family="Liberation Sans" font-size="6.0" text-anchor="middle" fill="#4d4d4d">0</text>
<line x1="610.80" y1="245.30" x2="610.80" y2="247.70" stroke="#333" stroke-width="0.7"/>
<text transform="translate(610.80,253.10) scale(1.15,1) rotate(0.05)" font-family="Liberation Sans" font-size="6.0" text-anchor="middle" fill="#4d4d4d">1</text>
<line x1="646.10" y1="245.30" x2="646.10" y2="247.70" stroke="#333" stroke-width="0.7"/>
<text transform="translate(646.10,253.10) scale(1.15,1) rotate(0.05)" font-family="Liberation Sans" font-size="6.0" text-anchor="middle" fill="#4d4d4d">2</text>
<text transform="translate(575.40,260.80) scale(1.15,1) rotate(0.05)" font-family="Liberation Sans" font-size="7.6" text-anchor="middle" fill="#000">Log2(Fold Change)</text>
<text transform="translate(461.20,140.65) scale(1.1,1) rotate(-90)" font-family="Liberation Sans" font-size="7.6" text-anchor="middle" fill="#000">-Log10(Qvalues)</text>
<text transform="translate(575.40,19.90) scale(1.15,1) rotate(0.05)" font-family="Liberation Sans" font-size="9.1" text-anchor="middle" fill="#000" font-weight="bold">Mild/Critical</text>
<text transform="translate(530.30,31.00) scale(1.15,1) rotate(0.05)" font-family="Liberation Sans" font-size="7.6" text-anchor="middle" fill="#000" font-style="italic">n.down= 0</text>
<text transform="translate(621.60,31.00) scale(1.15,1) rotate(0.05)" font-family="Liberation Sans" font-size="7.6" text-anchor="middle" fill="#000" font-style="italic">n.up= 18</text>
<text transform="translate(108.00,42.60) scale(1.075,1) rotate(0.05)" font-family="Liberation Sans" font-size="6.3" text-anchor="start" fill="#1a1a1a" stroke="#1a1a1a" stroke-width="0.05">PE(27:1_6:0)</text>
<text transform="translate(152.00,43.10) scale(1.075,1) rotate(0.05)" font-family="Liberation Sans" font-size="6.3" text-anchor="start" fill="#1a1a1a" stroke="#1a1a1a" stroke-width="0.05">TG(20:3e_11:2_12:3)</text>
<text transform="translate(61.70,49.60) scale(1.075,1) rotate(0.05)" font-family="Liberation Sans" font-size="6.3" text-anchor="start" fill="#1a1a1a" stroke="#1a1a1a" stroke-width="0.05">PC(6:0_24:1)</text>
<text transform="translate(27.60,72.50) scale(1.075,1) rotate(0.05)" font-family="Liberation Sans" font-size="6.3" text-anchor="start" fill="#1a1a1a" stroke="#1a1a1a" stroke-width="0.05">CerP(t20:0_21:0+O)</text>
<text transform="translate(152.00,72.80) scale(1.075,1) rotate(0.05)" font-family="Liberation Sans" font-size="6.3" text-anchor="start" fill="#1a1a1a" stroke="#1a1a1a" stroke-width="0.05">TG(20:4e_11:4_12:4)</text>
<text transform="translate(167.00,83.00) scale(1.075,1) rotate(0.05)" font-family="Liberation Sans" font-size="6.3" text-anchor="start" fill="#1a1a1a" stroke="#1a1a1a" stroke-width="0.05">TG(6:0_8:0_9:0)</text>
<text transform="translate(153.00,92.10) scale(1.075,1) rotate(0.05)" font-family="Liberation Sans" font-size="6.3" text-anchor="start" fill="#1a1a1a" stroke="#1a1a1a" stroke-width="0.05">TG(20:2_10:4_22:6)</text>
<text transform="translate(159.00,100.90) scale(1.075,1) rotate(0.05)" font-family="Liberation Sans" font-size="6.3" text-anchor="start" fill="#1a1a1a" stroke="#1a1a1a" stroke-width="0.05">TG(9:0_22:6_22:6)</text>
<text transform="translate(148.00,109.60) scale(1.075,1) rotate(0.05)" font-family="Liberation Sans" font-size="6.3" text-anchor="start" fill="#1a1a1a" stroke="#1a1a1a" stroke-width="0.05">TG(22:6_11:2_14:1)</text>
<text transform="translate(159.00,118.90) scale(1.075,1) rotate(0.05)" font-family="Liberation Sans" font-size="6.3" text-anchor="start" fill="#1a1a1a" stroke="#1a1a1a" stroke-width="0.05">TG(4:0_11:2_14:1)</text>
<text transform="translate(136.30,128.60) scale(1.075,1) rotate(0.05)" font-family="Liberation Sans" font-size="6.3" text-anchor="start" fill="#1a1a1a" stroke="#1a1a1a" stroke-width="0.05">TG(20:3_22:6_22:6)</text>
<text transform="translate(155.20,139.10) scale(1.075,1) rotate(0.05)" font-family="Liberation Sans" font-size="6.3" text-anchor="start" fill="#1a1a1a" stroke="#1a1a1a" stroke-width="0.05">TG(21:0_10:4_11:2)</text>
<line x1="101.40" y1="47.20" x2="191.00" y2="52.50" stroke="#111" stroke-width="0.6"/>
<line x1="147.70" y1="40.30" x2="191.50" y2="52.40" stroke="#111" stroke-width="0.6"/>
<line x1="200.20" y1="44.90" x2="205.50" y2="51.00" stroke="#111" stroke-width="0.6"/>
<line x1="57.90" y1="67.40" x2="53.20" y2="54.20" stroke="#111" stroke-width="0.6"/>
<line x1="185.30" y1="67.70" x2="190.90" y2="55.90" stroke="#111" stroke-width="0.6"/>
<line x1="189.70" y1="77.30" x2="192.30" y2="56.30" stroke="#111" stroke-width="0.6"/>
<line x1="187.10" y1="86.00" x2="191.80" y2="56.00" stroke="#111" stroke-width="0.6"/>
<line x1="189.20" y1="94.80" x2="195.30" y2="56.00" stroke="#111" stroke-width="0.6"/>
<line x1="180.10" y1="104.50" x2="191.50" y2="56.00" stroke="#111" stroke-width="0.6"/>
<line x1="188.80" y1="113.20" x2="209.90" y2="55.90" stroke="#111" stroke-width="0.6"/>
<line x1="192.30" y1="133.40" x2="195.80" y2="129.00" stroke="#111" stroke-width="0.6"/>
<text transform="translate(311.50,73.60) scale(1.075,1) rotate(0.05)" font-family="Liberation Sans" font-size="6.3" text-anchor="start" fill="#1a1a1a" stroke="#1a1a1a" stroke-width="0.05">TG(20:4e_12:4_12:4)</text>
<text transform="translate(386.00,68.00) scale(1.075,1) rotate(0.05)" font-family="Liberation Sans" font-size="6.3" text-anchor="start" fill="#1a1a1a" stroke="#1a1a1a" stroke-width="0.05">TG(4:0_11:2_14:3)</text>
<text transform="translate(380.80,78.50) scale(1.075,1) rotate(0.05)" font-family="Liberation Sans" font-size="6.3" text-anchor="start" fill="#1a1a1a" stroke="#1a1a1a" stroke-width="0.05">TG(22:6_11:2_14:1)</text>
<text transform="translate(255.20,81.90) scale(1.075,1) rotate(0.05)" font-family="Liberation Sans" font-size="6.3" text-anchor="start" fill="#1a1a1a" stroke="#1a1a1a" stroke-width="0.05">PC(14:0e_6:0)</text>
<text transform="translate(255.20,94.20) scale(1.075,1) rotate(0.05)" font-family="Liberation Sans" font-size="6.3" text-anchor="start" fill="#1a1a1a" stroke="#1a1a1a" stroke-width="0.05">DG(9:0_11:2)</text>
<text transform="translate(255.20,110.00) scale(1.075,1) rotate(0.05)" font-family="Liberation Sans" font-size="6.3" text-anchor="start" fill="#1a1a1a" stroke="#1a1a1a" stroke-width="0.05">PC(10:0e_9:0)</text>
<text transform="translate(378.20,111.20) scale(1.075,1) rotate(0.05)" font-family="Liberation Sans" font-size="6.3" text-anchor="start" fill="#1a1a1a" stroke="#1a1a1a" stroke-width="0.05">TG(20:3e_11:2_12:3)</text>
<text transform="translate(382.20,120.50) scale(1.075,1) rotate(0.05)" font-family="Liberation Sans" font-size="6.3" text-anchor="start" fill="#1a1a1a" stroke="#1a1a1a" stroke-width="0.05">TG(20:3_22:6_22:6)</text>
<text transform="translate(382.20,141.50) scale(1.075,1) rotate(0.05)" font-family="Liberation Sans" font-size="6.3" text-anchor="start" fill="#1a1a1a" stroke="#1a1a1a" stroke-width="0.05">TG(22:6_10:4_17:1)</text>
<text transform="translate(398.70,161.10) scale(1.075,1) rotate(0.05)" font-family="Liberation Sans" font-size="6.3" text-anchor="start" fill="#1a1a1a" stroke="#1a1a1a" stroke-width="0.05">PE(27:1_6:0)</text>
<line x1="375.90" y1="71.00" x2="420.20" y2="85.90" stroke="#111" stroke-width="0.6"/>
<line x1="416.70" y1="67.50" x2="426.00" y2="84.20" stroke="#111" stroke-width="0.6"/>
<line x1="421.10" y1="78.00" x2="425.50" y2="83.30" stroke="#111" stroke-width="0.6"/>
<line x1="415.80" y1="106.00" x2="427.20" y2="89.40" stroke="#111" stroke-width="0.6"/>
<line x1="415.80" y1="115.20" x2="429.00" y2="89.40" stroke="#111" stroke-width="0.6"/>
<line x1="415.80" y1="135.80" x2="433.40" y2="99.00" stroke="#111" stroke-width="0.6"/>
<line x1="277.70" y1="104.50" x2="281.40" y2="99.10" stroke="#111" stroke-width="0.6"/>
<text transform="translate(608.90,95.60) scale(1.075,1) rotate(0.05)" font-family="Liberation Sans" font-size="6.3" text-anchor="start" fill="#1a1a1a" stroke="#1a1a1a" stroke-width="0.05">TG(20:4_22:6_22:6)</text>
<text transform="translate(605.80,110.00) scale(1.075,1) rotate(0.05)" font-family="Liberation Sans" font-size="6.3" text-anchor="start" fill="#1a1a1a" stroke="#1a1a1a" stroke-width="0.05">TG(20:2_22:6_22:6)</text>
<text transform="translate(7.20,7.80) scale(0.88,1) rotate(0.05)" font-family="Liberation Serif" font-size="10.5" text-anchor="start" fill="#000" font-weight="bold">A</text>
<text transform="translate(246.50,7.80) scale(0.88,1) rotate(0.05)" font-family="Liberation Serif" font-size="10.5" text-anchor="start" fill="#000" font-weight="bold">B</text>
<text transform="translate(480.00,7.90) scale(0.88,1) rotate(0.05)" font-family="Liberation Serif" font-size="10.5" text-anchor="start" fill="#000" font-weight="bold">C</text>
<text transform="translate(7.60,295.80) scale(0.88,1) rotate(0.05)" font-family="Liberation Serif" font-size="10.5" text-anchor="start" fill="#000" font-weight="bold">D</text>
<text transform="translate(246.80,295.80) scale(0.88,1) rotate(0.05)" font-family="Liberation Serif" font-size="10.5" text-anchor="start" fill="#000" font-weight="bold">E</text>
<text transform="translate(480.30,295.80) scale(0.88,1) rotate(0.05)" font-family="Liberation Serif" font-size="10.5" text-anchor="start" fill="#000" font-weight="bold">F</text>
<text transform="translate(117.50,581.40) scale(0.88,1) rotate(0.05)" font-family="Liberation Serif" font-size="10.5" text-anchor="start" fill="#000" font-weight="bold">G</text>
<text transform="translate(408.80,580.20) scale(0.88,1) rotate(0.05)" font-family="Liberation Serif" font-size="10.5" text-anchor="start" fill="#000" font-weight="bold">H</text>
<ellipse cx="279.1" cy="279" rx="4.9" ry="3.9" fill="#1f8a80" fill-opacity="0.6"/>
<text transform="translate(290.50,282.30) scale(1.15,1) rotate(0.05)" font-family="Liberation Sans" font-size="8.2" text-anchor="start" fill="#222">Sig.Down</text>
<ellipse cx="342.5" cy="279" rx="4.9" ry="3.9" fill="#b2182b" fill-opacity="0.65"/>
<text transform="translate(353.90,282.30) scale(1.15,1) rotate(0.05)" font-family="Liberation Sans" font-size="8.2" text-anchor="start" fill="#222">Sig.Up</text>
<ellipse cx="393.5" cy="279" rx="4.9" ry="3.9" fill="#bdbdbd" fill-opacity="0.55"/>
<text transform="translate(405.20,282.30) scale(1.15,1) rotate(0.05)" font-family="Liberation Sans" font-size="8.2" text-anchor="start" fill="#222">Unsig</text>
<line x1="120.10" y1="313.00" x2="213.30" y2="313.00" stroke="#555" stroke-width="1.0"/>
<line x1="120.10" y1="317.73" x2="212.80" y2="317.73" stroke="#555" stroke-width="1.0"/>
<line x1="120.10" y1="322.45" x2="192.20" y2="322.45" stroke="#555" stroke-width="1.0"/>
<line x1="120.10" y1="327.18" x2="176.60" y2="327.18" stroke="#555" stroke-width="1.0"/>
<line x1="120.10" y1="331.91" x2="176.30" y2="331.91" stroke="#555" stroke-width="1.0"/>
<line x1="120.10" y1="336.63" x2="175.50" y2="336.63" stroke="#555" stroke-width="1.0"/>
<line x1="120.10" y1="341.36" x2="173.10" y2="341.36" stroke="#555" stroke-width="1.0"/>
<line x1="120.10" y1="346.09" x2="167.30" y2="346.09" stroke="#555" stroke-width="1.0"/>
<line x1="120.10" y1="350.82" x2="166.40" y2="350.82" stroke="#555" stroke-width="1.0"/>
<line x1="120.10" y1="355.54" x2="165.20" y2="355.54" stroke="#555" stroke-width="1.0"/>
<line x1="120.10" y1="360.27" x2="164.40" y2="360.27" stroke="#555" stroke-width="1.0"/>
<line x1="120.10" y1="365.00" x2="163.80" y2="365.00" stroke="#555" stroke-width="1.0"/>
<line x1="120.10" y1="369.72" x2="79.10" y2="369.72" stroke="#555" stroke-width="1.0"/>
<line x1="120.10" y1="374.45" x2="161.10" y2="374.45" stroke="#555" stroke-width="1.0"/>
<line x1="120.10" y1="379.18" x2="154.80" y2="379.18" stroke="#555" stroke-width="1.0"/>
<line x1="120.10" y1="383.90" x2="154.30" y2="383.90" stroke="#555" stroke-width="1.0"/>
<line x1="120.10" y1="388.63" x2="152.80" y2="388.63" stroke="#555" stroke-width="1.0"/>
<line x1="120.10" y1="393.36" x2="152.10" y2="393.36" stroke="#555" stroke-width="1.0"/>
<line x1="120.10" y1="398.09" x2="150.30" y2="398.09" stroke="#555" stroke-width="1.0"/>
<line x1="120.10" y1="402.81" x2="149.40" y2="402.81" stroke="#555" stroke-width="1.0"/>
<line x1="120.10" y1="407.54" x2="148.60" y2="407.54" stroke="#555" stroke-width="1.0"/>
<line x1="120.10" y1="412.27" x2="148.10" y2="412.27" stroke="#555" stroke-width="1.0"/>
<line x1="120.10" y1="416.99" x2="148.10" y2="416.99" stroke="#555" stroke-width="1.0"/>
<line x1="120.10" y1="421.72" x2="147.60" y2="421.72" stroke="#555" stroke-width="1.0"/>
<line x1="120.10" y1="426.45" x2="93.00" y2="426.45" stroke="#555" stroke-width="1.0"/>
<line x1="120.10" y1="431.18" x2="146.40" y2="431.18" stroke="#555" stroke-width="1.0"/>
<line x1="120.10" y1="435.90" x2="145.10" y2="435.90" stroke="#555" stroke-width="1.0"/>
<line x1="120.10" y1="440.63" x2="94.70" y2="440.63" stroke="#555" stroke-width="1.0"/>
<line x1="120.10" y1="445.36" x2="94.70" y2="445.36" stroke="#555" stroke-width="1.0"/>
<line x1="120.10" y1="450.08" x2="144.40" y2="450.08" stroke="#555" stroke-width="1.0"/>
<line x1="120.10" y1="454.81" x2="95.70" y2="454.81" stroke="#555" stroke-width="1.0"/>
<line x1="120.10" y1="459.54" x2="143.60" y2="459.54" stroke="#555" stroke-width="1.0"/>
<line x1="120.10" y1="464.26" x2="143.40" y2="464.26" stroke="#555" stroke-width="1.0"/>
<line x1="120.10" y1="468.99" x2="143.10" y2="468.99" stroke="#555" stroke-width="1.0"/>
<line x1="120.10" y1="473.72" x2="97.20" y2="473.72" stroke="#555" stroke-width="1.0"/>
<line x1="120.10" y1="478.45" x2="97.20" y2="478.45" stroke="#555" stroke-width="1.0"/>
<line x1="120.10" y1="483.17" x2="97.20" y2="483.17" stroke="#555" stroke-width="1.0"/>
<line x1="120.10" y1="487.90" x2="97.20" y2="487.90" stroke="#555" stroke-width="1.0"/>
<line x1="120.10" y1="492.63" x2="142.60" y2="492.63" stroke="#555" stroke-width="1.0"/>
<line x1="120.10" y1="497.35" x2="141.90" y2="497.35" stroke="#555" stroke-width="1.0"/>
<line x1="120.10" y1="502.08" x2="97.70" y2="502.08" stroke="#555" stroke-width="1.0"/>
<line x1="120.10" y1="506.81" x2="97.70" y2="506.81" stroke="#555" stroke-width="1.0"/>
<line x1="120.10" y1="511.53" x2="141.40" y2="511.53" stroke="#555" stroke-width="1.0"/>
<line x1="120.10" y1="516.26" x2="98.50" y2="516.26" stroke="#555" stroke-width="1.0"/>
<line x1="120.10" y1="520.99" x2="98.50" y2="520.99" stroke="#555" stroke-width="1.0"/>
<line x1="120.10" y1="525.72" x2="141.20" y2="525.72" stroke="#555" stroke-width="1.0"/>
<line x1="120.10" y1="530.44" x2="141.20" y2="530.44" stroke="#555" stroke-width="1.0"/>
<line x1="120.10" y1="535.17" x2="99.00" y2="535.17" stroke="#555" stroke-width="1.0"/>
<line x1="120.10" y1="539.90" x2="99.00" y2="539.90" stroke="#555" stroke-width="1.0"/>
<line x1="120.10" y1="544.62" x2="99.00" y2="544.62" stroke="#555" stroke-width="1.0"/>
<circle cx="213.30" cy="313.00" r="1.55" fill="#e8111b" stroke="#7a0000" stroke-width="0.45"/>
<circle cx="212.80" cy="317.73" r="1.55" fill="#e8111b" stroke="#7a0000" stroke-width="0.45"/>
<circle cx="192.20" cy="322.45" r="1.55" fill="#e8111b" stroke="#7a0000" stroke-width="0.45"/>
<circle cx="176.60" cy="327.18" r="1.55" fill="#e8111b" stroke="#7a0000" stroke-width="0.45"/>
<circle cx="176.30" cy="331.91" r="1.55" fill="#e8111b" stroke="#7a0000" stroke-width="0.45"/>
<circle cx="175.50" cy="336.63" r="1.55" fill="#e8111b" stroke="#7a0000" stroke-width="0.45"/>
<circle cx="173.10" cy="341.36" r="1.55" fill="#e8111b" stroke="#7a0000" stroke-width="0.45"/>
<circle cx="167.30" cy="346.09" r="1.55" fill="#e8111b" stroke="#7a0000" stroke-width="0.45"/>
<circle cx="166.40" cy="350.82" r="1.55" fill="#e8111b" stroke="#7a0000" stroke-width="0.45"/>
<circle cx="165.20" cy="355.54" r="1.55" fill="#e8111b" stroke="#7a0000" stroke-width="0.45"/>
<circle cx="164.40" cy="360.27" r="1.55" fill="#e8111b" stroke="#7a0000" stroke-width="0.45"/>
<circle cx="163.80" cy="365.00" r="1.55" fill="#e8111b" stroke="#7a0000" stroke-width="0.45"/>
<circle cx="79.10" cy="369.72" r="1.55" fill="#2c3e92" stroke="#14204f" stroke-width="0.45"/>
<circle cx="161.10" cy="374.45" r="1.55" fill="#e8111b" stroke="#7a0000" stroke-width="0.45"/>
<circle cx="154.80" cy="379.18" r="1.55" fill="#e8111b" stroke="#7a0000" stroke-width="0.45"/>
<circle cx="154.30" cy="383.90" r="1.55" fill="#e8111b" stroke="#7a0000" stroke-width="0.45"/>
<circle cx="152.80" cy="388.63" r="1.55" fill="#e8111b" stroke="#7a0000" stroke-width="0.45"/>
<circle cx="152.10" cy="393.36" r="1.55" fill="#e8111b" stroke="#7a0000" stroke-width="0.45"/>
<circle cx="150.30" cy="398.09" r="1.55" fill="#e8111b" stroke="#7a0000" stroke-width="0.45"/>
<circle cx="149.40" cy="402.81" r="1.55" fill="#e8111b" stroke="#7a0000" stroke-width="0.45"/>
<circle cx="148.60" cy="407.54" r="1.55" fill="#e8111b" stroke="#7a0000" stroke-width="0.45"/>
<circle cx="148.10" cy="412.27" r="1.55" fill="#e8111b" stroke="#7a0000" stroke-width="0.45"/>
<circle cx="148.10" cy="416.99" r="1.55" fill="#e8111b" stroke="#7a0000" stroke-width="0.45"/>
<circle cx="147.60" cy="421.72" r="1.55" fill="#e8111b" stroke="#7a0000" stroke-width="0.45"/>
<circle cx="93.00" cy="426.45" r="1.55" fill="#2c3e92" stroke="#14204f" stroke-width="0.45"/>
<circle cx="146.40" cy="431.18" r="1.55" fill="#e8111b" stroke="#7a0000" stroke-width="0.45"/>
<circle cx="145.10" cy="435.90" r="1.55" fill="#e8111b" stroke="#7a0000" stroke-width="0.45"/>
<circle cx="94.70" cy="440.63" r="1.55" fill="#2c3e92" stroke="#14204f" stroke-width="0.45"/>
<circle cx="94.70" cy="445.36" r="1.55" fill="#2c3e92" stroke="#14204f" stroke-width="0.45"/>
<circle cx="144.40" cy="450.08" r="1.55" fill="#e8111b" stroke="#7a0000" stroke-width="0.45"/>
<circle cx="95.70" cy="454.81" r="1.55" fill="#2c3e92" stroke="#14204f" stroke-width="0.45"/>
<circle cx="143.60" cy="459.54" r="1.55" fill="#e8111b" stroke="#7a0000" stroke-width="0.45"/>
<circle cx="143.40" cy="464.26" r="1.55" fill="#e8111b" stroke="#7a0000" stroke-width="0.45"/>
<circle cx="143.10" cy="468.99" r="1.55" fill="#e8111b" stroke="#7a0000" stroke-width="0.45"/>
<circle cx="97.20" cy="473.72" r="1.55" fill="#2c3e92" stroke="#14204f" stroke-width="0.45"/>
<circle cx="97.20" cy="478.45" r="1.55" fill="#2c3e92" stroke="#14204f" stroke-width="0.45"/>
<circle cx="97.20" cy="483.17" r="1.55" fill="#2c3e92" stroke="#14204f" stroke-width="0.45"/>
<circle cx="97.20" cy="487.90" r="1.55" fill="#2c3e92" stroke="#14204f" stroke-width="0.45"/>
<circle cx="142.60" cy="492.63" r="1.55" fill="#e8111b" stroke="#7a0000" stroke-width="0.45"/>
<circle cx="141.90" cy="497.35" r="1.55" fill="#e8111b" stroke="#7a0000" stroke-width="0.45"/>
<circle cx="97.70" cy="502.08" r="1.55" fill="#2c3e92" stroke="#14204f" stroke-width="0.45"/>
<circle cx="97.70" cy="506.81" r="1.55" fill="#2c3e92" stroke="#14204f" stroke-width="0.45"/>
<circle cx="141.40" cy="511.53" r="1.55" fill="#e8111b" stroke="#7a0000" stroke-width="0.45"/>
<circle cx="98.50" cy="516.26" r="1.55" fill="#2c3e92" stroke="#14204f" stroke-width="0.45"/>
<circle cx="98.50" cy="520.99" r="1.55" fill="#2c3e92" stroke="#14204f" stroke-width="0.45"/>
<circle cx="141.20" cy="525.72" r="1.55" fill="#e8111b" stroke="#7a0000" stroke-width="0.45"/>
<circle cx="141.20" cy="530.44" r="1.55" fill="#e8111b" stroke="#7a0000" stroke-width="0.45"/>
<circle cx="99.00" cy="535.17" r="1.55" fill="#2c3e92" stroke="#14204f" stroke-width="0.45"/>
<circle cx="99.00" cy="539.90" r="1.55" fill="#2c3e92" stroke="#14204f" stroke-width="0.45"/>
<circle cx="99.00" cy="544.62" r="1.55" fill="#2c3e92" stroke="#14204f" stroke-width="0.45"/>
<rect x="67.5" y="310.4" width="161.1" height="236.5" fill="none" stroke="#444" stroke-width="0.9"/>
<line x1="65.90" y1="313.00" x2="67.50" y2="313.00" stroke="#333" stroke-width="0.5"/>
<text transform="translate(64.70,315.20) rotate(0.05)" font-family="Liberation Sans" font-size="4.8" text-anchor="end" fill="#1a1a1a" stroke="#1a1a1a" stroke-width="0.16">TG(19:1_12:3_12:4)</text>
<line x1="65.90" y1="317.73" x2="67.50" y2="317.73" stroke="#333" stroke-width="0.5"/>
<text transform="translate(64.70,319.93) rotate(0.05)" font-family="Liberation Sans" font-size="4.8" text-anchor="end" fill="#1a1a1a" stroke="#1a1a1a" stroke-width="0.16">TG(19:1_18:0_12:4)</text>
<line x1="65.90" y1="322.45" x2="67.50" y2="322.45" stroke="#333" stroke-width="0.5"/>
<text transform="translate(64.70,324.65) rotate(0.05)" font-family="Liberation Sans" font-size="4.8" text-anchor="end" fill="#1a1a1a" stroke="#1a1a1a" stroke-width="0.16">TG(4:0_6:0_10:1)</text>
<line x1="65.90" y1="327.18" x2="67.50" y2="327.18" stroke="#333" stroke-width="0.5"/>
<text transform="translate(64.70,329.38) rotate(0.05)" font-family="Liberation Sans" font-size="4.8" text-anchor="end" fill="#1a1a1a" stroke="#1a1a1a" stroke-width="0.16">SM(d18:2_20:4)</text>
<line x1="65.90" y1="331.91" x2="67.50" y2="331.91" stroke="#333" stroke-width="0.5"/>
<text transform="translate(64.70,334.11) rotate(0.05)" font-family="Liberation Sans" font-size="4.8" text-anchor="end" fill="#1a1a1a" stroke="#1a1a1a" stroke-width="0.16">TG(22:6_10:4_17:1)</text>
<line x1="65.90" y1="336.63" x2="67.50" y2="336.63" stroke="#333" stroke-width="0.5"/>
<text transform="translate(64.70,338.83) rotate(0.05)" font-family="Liberation Sans" font-size="4.8" text-anchor="end" fill="#1a1a1a" stroke="#1a1a1a" stroke-width="0.16">TG(9:0_22:6_22:6)</text>
<line x1="65.90" y1="341.36" x2="67.50" y2="341.36" stroke="#333" stroke-width="0.5"/>
<text transform="translate(64.70,343.56) rotate(0.05)" font-family="Liberation Sans" font-size="4.8" text-anchor="end" fill="#1a1a1a" stroke="#1a1a1a" stroke-width="0.16">TG(20:3e_11:2_12:3)</text>
<line x1="65.90" y1="346.09" x2="67.50" y2="346.09" stroke="#333" stroke-width="0.5"/>
<text transform="translate(64.70,348.29) rotate(0.05)" font-family="Liberation Sans" font-size="4.8" text-anchor="end" fill="#1a1a1a" stroke="#1a1a1a" stroke-width="0.16">TG(21:0_10:4_11:2)</text>
<line x1="65.90" y1="350.82" x2="67.50" y2="350.82" stroke="#333" stroke-width="0.5"/>
<text transform="translate(64.70,353.02) rotate(0.05)" font-family="Liberation Sans" font-size="4.8" text-anchor="end" fill="#1a1a1a" stroke="#1a1a1a" stroke-width="0.16">TG(6:0_8:0_9:0)</text>
<line x1="65.90" y1="355.54" x2="67.50" y2="355.54" stroke="#333" stroke-width="0.5"/>
<text transform="translate(64.70,357.74) rotate(0.05)" font-family="Liberation Sans" font-size="4.8" text-anchor="end" fill="#1a1a1a" stroke="#1a1a1a" stroke-width="0.16">TG(20:3_22:6_22:6)</text>
<line x1="65.90" y1="360.27" x2="67.50" y2="360.27" stroke="#333" stroke-width="0.5"/>
<text transform="translate(64.70,362.47) rotate(0.05)" font-family="Liberation Sans" font-size="4.8" text-anchor="end" fill="#1a1a1a" stroke="#1a1a1a" stroke-width="0.16">TG(22:6_11:2_14:1)</text>
<line x1="65.90" y1="365.00" x2="67.50" y2="365.00" stroke="#333" stroke-width="0.5"/>
<text transform="translate(64.70,367.20) rotate(0.05)" font-family="Liberation Sans" font-size="4.8" text-anchor="end" fill="#1a1a1a" stroke="#1a1a1a" stroke-width="0.16">TG(20:4e_12:4_12:4)</text>
<line x1="65.90" y1="369.72" x2="67.50" y2="369.72" stroke="#333" stroke-width="0.5"/>
<text transform="translate(64.70,371.92) rotate(0.05)" font-family="Liberation Sans" font-size="4.8" text-anchor="end" fill="#1a1a1a" stroke="#1a1a1a" stroke-width="0.16">DG(9:0_11:2)</text>
<line x1="65.90" y1="374.45" x2="67.50" y2="374.45" stroke="#333" stroke-width="0.5"/>
<text transform="translate(64.70,376.65) rotate(0.05)" font-family="Liberation Sans" font-size="4.8" text-anchor="end" fill="#1a1a1a" stroke="#1a1a1a" stroke-width="0.16">TG(4:0_11:2_14:3)</text>
<line x1="65.90" y1="379.18" x2="67.50" y2="379.18" stroke="#333" stroke-width="0.5"/>
<text transform="translate(64.70,381.38) rotate(0.05)" font-family="Liberation Sans" font-size="4.8" text-anchor="end" fill="#1a1a1a" stroke="#1a1a1a" stroke-width="0.16">TG(4:0_6:0_10:2)</text>
<line x1="65.90" y1="383.90" x2="67.50" y2="383.90" stroke="#333" stroke-width="0.5"/>
<text transform="translate(64.70,386.10) rotate(0.05)" font-family="Liberation Sans" font-size="4.8" text-anchor="end" fill="#1a1a1a" stroke="#1a1a1a" stroke-width="0.16">TG(4:0_8:0_9:0)</text>
<line x1="65.90" y1="388.63" x2="67.50" y2="388.63" stroke="#333" stroke-width="0.5"/>
<text transform="translate(64.70,390.83) rotate(0.05)" font-family="Liberation Sans" font-size="4.8" text-anchor="end" fill="#1a1a1a" stroke="#1a1a1a" stroke-width="0.16">TG(17:1_12:3_12:4)</text>
<line x1="65.90" y1="393.36" x2="67.50" y2="393.36" stroke="#333" stroke-width="0.5"/>
<text transform="translate(64.70,395.56) rotate(0.05)" font-family="Liberation Sans" font-size="4.8" text-anchor="end" fill="#1a1a1a" stroke="#1a1a1a" stroke-width="0.16">TG(20:3e_12:4_22:5)</text>
<line x1="65.90" y1="398.09" x2="67.50" y2="398.09" stroke="#333" stroke-width="0.5"/>
<text transform="translate(64.70,400.29) rotate(0.05)" font-family="Liberation Sans" font-size="4.8" text-anchor="end" fill="#1a1a1a" stroke="#1a1a1a" stroke-width="0.16">SM(d18:1_22:6)</text>
<line x1="65.90" y1="402.81" x2="67.50" y2="402.81" stroke="#333" stroke-width="0.5"/>
<text transform="translate(64.70,405.01) rotate(0.05)" font-family="Liberation Sans" font-size="4.8" text-anchor="end" fill="#1a1a1a" stroke="#1a1a1a" stroke-width="0.16">PE(18:0_20:4)</text>
<line x1="65.90" y1="407.54" x2="67.50" y2="407.54" stroke="#333" stroke-width="0.5"/>
<text transform="translate(64.70,409.74) rotate(0.05)" font-family="Liberation Sans" font-size="4.8" text-anchor="end" fill="#1a1a1a" stroke="#1a1a1a" stroke-width="0.16">Hex2Cer(m21:0_21:5)</text>
<line x1="65.90" y1="412.27" x2="67.50" y2="412.27" stroke="#333" stroke-width="0.5"/>
<text transform="translate(64.70,414.47) rotate(0.05)" font-family="Liberation Sans" font-size="4.8" text-anchor="end" fill="#1a1a1a" stroke="#1a1a1a" stroke-width="0.16">PC(20:3e_18:2)</text>
<line x1="65.90" y1="416.99" x2="67.50" y2="416.99" stroke="#333" stroke-width="0.5"/>
<text transform="translate(64.70,419.19) rotate(0.05)" font-family="Liberation Sans" font-size="4.8" text-anchor="end" fill="#1a1a1a" stroke="#1a1a1a" stroke-width="0.16">Hex2Cer(d15:1_18:1+O)</text>
<line x1="65.90" y1="421.72" x2="67.50" y2="421.72" stroke="#333" stroke-width="0.5"/>
<text transform="translate(64.70,423.92) rotate(0.05)" font-family="Liberation Sans" font-size="4.8" text-anchor="end" fill="#1a1a1a" stroke="#1a1a1a" stroke-width="0.16">TG(6:0_18:0_12:3)</text>
<line x1="65.90" y1="426.45" x2="67.50" y2="426.45" stroke="#333" stroke-width="0.5"/>
<text transform="translate(64.70,428.65) rotate(0.05)" font-family="Liberation Sans" font-size="4.8" text-anchor="end" fill="#1a1a1a" stroke="#1a1a1a" stroke-width="0.16">PC(20:4_22:6)</text>
<line x1="65.90" y1="431.18" x2="67.50" y2="431.18" stroke="#333" stroke-width="0.5"/>
<text transform="translate(64.70,433.38) rotate(0.05)" font-family="Liberation Sans" font-size="4.8" text-anchor="end" fill="#1a1a1a" stroke="#1a1a1a" stroke-width="0.16">PC(17:1_18:4)</text>
<line x1="65.90" y1="435.90" x2="67.50" y2="435.90" stroke="#333" stroke-width="0.5"/>
<text transform="translate(64.70,438.10) rotate(0.05)" font-family="Liberation Sans" font-size="4.8" text-anchor="end" fill="#1a1a1a" stroke="#1a1a1a" stroke-width="0.16">ST(20:1_25:3)</text>
<line x1="65.90" y1="440.63" x2="67.50" y2="440.63" stroke="#333" stroke-width="0.5"/>
<text transform="translate(64.70,442.83) rotate(0.05)" font-family="Liberation Sans" font-size="4.8" text-anchor="end" fill="#1a1a1a" stroke="#1a1a1a" stroke-width="0.16">PC(10:0e_9:0)</text>
<line x1="65.90" y1="445.36" x2="67.50" y2="445.36" stroke="#333" stroke-width="0.5"/>
<text transform="translate(64.70,447.56) rotate(0.05)" font-family="Liberation Sans" font-size="4.8" text-anchor="end" fill="#1a1a1a" stroke="#1a1a1a" stroke-width="0.16">PC(17:0_18:2)</text>
<line x1="65.90" y1="450.08" x2="67.50" y2="450.08" stroke="#333" stroke-width="0.5"/>
<text transform="translate(64.70,452.28) rotate(0.05)" font-family="Liberation Sans" font-size="4.8" text-anchor="end" fill="#1a1a1a" stroke="#1a1a1a" stroke-width="0.16">CL(22:6_20:4_18:0_20:0)</text>
<line x1="65.90" y1="454.81" x2="67.50" y2="454.81" stroke="#333" stroke-width="0.5"/>
<text transform="translate(64.70,457.01) rotate(0.05)" font-family="Liberation Sans" font-size="4.8" text-anchor="end" fill="#1a1a1a" stroke="#1a1a1a" stroke-width="0.16">LPC(20:0)</text>
<line x1="65.90" y1="459.54" x2="67.50" y2="459.54" stroke="#333" stroke-width="0.5"/>
<text transform="translate(64.70,461.74) rotate(0.05)" font-family="Liberation Sans" font-size="4.8" text-anchor="end" fill="#1a1a1a" stroke="#1a1a1a" stroke-width="0.16">TG(18:3e_11:3_11:3)</text>
<line x1="65.90" y1="464.26" x2="67.50" y2="464.26" stroke="#333" stroke-width="0.5"/>
<text transform="translate(64.70,466.46) rotate(0.05)" font-family="Liberation Sans" font-size="4.8" text-anchor="end" fill="#1a1a1a" stroke="#1a1a1a" stroke-width="0.16">TG(20:4e_12:4_14:4)</text>
<line x1="65.90" y1="468.99" x2="67.50" y2="468.99" stroke="#333" stroke-width="0.5"/>
<text transform="translate(64.70,471.19) rotate(0.05)" font-family="Liberation Sans" font-size="4.8" text-anchor="end" fill="#1a1a1a" stroke="#1a1a1a" stroke-width="0.16">PE(20:3e_18:2)</text>
<line x1="65.90" y1="473.72" x2="67.50" y2="473.72" stroke="#333" stroke-width="0.5"/>
<text transform="translate(64.70,475.92) rotate(0.05)" font-family="Liberation Sans" font-size="4.8" text-anchor="end" fill="#1a1a1a" stroke="#1a1a1a" stroke-width="0.16">ChE(18:3)</text>
<line x1="65.90" y1="478.45" x2="67.50" y2="478.45" stroke="#333" stroke-width="0.5"/>
<text transform="translate(64.70,480.65) rotate(0.05)" font-family="Liberation Sans" font-size="4.8" text-anchor="end" fill="#1a1a1a" stroke="#1a1a1a" stroke-width="0.16">PC(14:0e_6:0)</text>
<line x1="65.90" y1="483.17" x2="67.50" y2="483.17" stroke="#333" stroke-width="0.5"/>
<text transform="translate(64.70,485.37) rotate(0.05)" font-family="Liberation Sans" font-size="4.8" text-anchor="end" fill="#1a1a1a" stroke="#1a1a1a" stroke-width="0.16">PC(22:0_18:2)</text>
<line x1="65.90" y1="487.90" x2="67.50" y2="487.90" stroke="#333" stroke-width="0.5"/>
<text transform="translate(64.70,490.10) rotate(0.05)" font-family="Liberation Sans" font-size="4.8" text-anchor="end" fill="#1a1a1a" stroke="#1a1a1a" stroke-width="0.16">PC(24:0_18:2)</text>
<line x1="65.90" y1="492.63" x2="67.50" y2="492.63" stroke="#333" stroke-width="0.5"/>
<text transform="translate(64.70,494.83) rotate(0.05)" font-family="Liberation Sans" font-size="4.8" text-anchor="end" fill="#1a1a1a" stroke="#1a1a1a" stroke-width="0.16">PS(18:2_18:2)</text>
<line x1="65.90" y1="497.35" x2="67.50" y2="497.35" stroke="#333" stroke-width="0.5"/>
<text transform="translate(64.70,499.55) rotate(0.05)" font-family="Liberation Sans" font-size="4.8" text-anchor="end" fill="#1a1a1a" stroke="#1a1a1a" stroke-width="0.16">PC(18:1_10:1)</text>
<line x1="65.90" y1="502.08" x2="67.50" y2="502.08" stroke="#333" stroke-width="0.5"/>
<text transform="translate(64.70,504.28) rotate(0.05)" font-family="Liberation Sans" font-size="4.8" text-anchor="end" fill="#1a1a1a" stroke="#1a1a1a" stroke-width="0.16">LPC(17:0)</text>
<line x1="65.90" y1="506.81" x2="67.50" y2="506.81" stroke="#333" stroke-width="0.5"/>
<text transform="translate(64.70,509.01) rotate(0.05)" font-family="Liberation Sans" font-size="4.8" text-anchor="end" fill="#1a1a1a" stroke="#1a1a1a" stroke-width="0.16">LPC(18:2e)</text>
<line x1="65.90" y1="511.53" x2="67.50" y2="511.53" stroke="#333" stroke-width="0.5"/>
<text transform="translate(64.70,513.73) rotate(0.05)" font-family="Liberation Sans" font-size="4.8" text-anchor="end" fill="#1a1a1a" stroke="#1a1a1a" stroke-width="0.16">PS(20:2_22:6)</text>
<line x1="65.90" y1="516.26" x2="67.50" y2="516.26" stroke="#333" stroke-width="0.5"/>
<text transform="translate(64.70,518.46) rotate(0.05)" font-family="Liberation Sans" font-size="4.8" text-anchor="end" fill="#1a1a1a" stroke="#1a1a1a" stroke-width="0.16">LPC(17:1)</text>
<line x1="65.90" y1="520.99" x2="67.50" y2="520.99" stroke="#333" stroke-width="0.5"/>
<text transform="translate(64.70,523.19) rotate(0.05)" font-family="Liberation Sans" font-size="4.8" text-anchor="end" fill="#1a1a1a" stroke="#1a1a1a" stroke-width="0.16">LPC(19:1)</text>
<line x1="65.90" y1="525.72" x2="67.50" y2="525.72" stroke="#333" stroke-width="0.5"/>
<text transform="translate(64.70,527.92) rotate(0.05)" font-family="Liberation Sans" font-size="4.8" text-anchor="end" fill="#1a1a1a" stroke="#1a1a1a" stroke-width="0.16">Cer(d18:0_26:5)</text>
<line x1="65.90" y1="530.44" x2="67.50" y2="530.44" stroke="#333" stroke-width="0.5"/>
<text transform="translate(64.70,532.64) rotate(0.05)" font-family="Liberation Sans" font-size="4.8" text-anchor="end" fill="#1a1a1a" stroke="#1a1a1a" stroke-width="0.16">TG(20:4e_12:2_12:2)</text>
<line x1="65.90" y1="535.17" x2="67.50" y2="535.17" stroke="#333" stroke-width="0.5"/>
<text transform="translate(64.70,537.37) rotate(0.05)" font-family="Liberation Sans" font-size="4.8" text-anchor="end" fill="#1a1a1a" stroke="#1a1a1a" stroke-width="0.16">LPC(20:0e)</text>
<line x1="65.90" y1="539.90" x2="67.50" y2="539.90" stroke="#333" stroke-width="0.5"/>
<text transform="translate(64.70,542.10) rotate(0.05)" font-family="Liberation Sans" font-size="4.8" text-anchor="end" fill="#1a1a1a" stroke="#1a1a1a" stroke-width="0.16">PC(14:0_22:6)</text>
<line x1="65.90" y1="544.62" x2="67.50" y2="544.62" stroke="#333" stroke-width="0.5"/>
<text transform="translate(64.70,546.82) rotate(0.05)" font-family="Liberation Sans" font-size="4.8" text-anchor="end" fill="#1a1a1a" stroke="#1a1a1a" stroke-width="0.16">PC(8:0e_15:0)</text>
<line x1="79.50" y1="546.90" x2="79.50" y2="548.50" stroke="#333" stroke-width="0.5"/>
<text transform="translate(79.50,553.60) rotate(0.05)" font-family="Liberation Sans" font-size="5.0" text-anchor="middle" fill="#333" stroke="#333" stroke-width="0.1">-4</text>
<line x1="99.80" y1="546.90" x2="99.80" y2="548.50" stroke="#333" stroke-width="0.5"/>
<text transform="translate(99.80,553.60) rotate(0.05)" font-family="Liberation Sans" font-size="5.0" text-anchor="middle" fill="#333" stroke="#333" stroke-width="0.1">-2</text>
<line x1="120.10" y1="546.90" x2="120.10" y2="548.50" stroke="#333" stroke-width="0.5"/>
<text transform="translate(120.10,553.60) rotate(0.05)" font-family="Liberation Sans" font-size="5.0" text-anchor="middle" fill="#333" stroke="#333" stroke-width="0.1">0</text>
<line x1="140.40" y1="546.90" x2="140.40" y2="548.50" stroke="#333" stroke-width="0.5"/>
<text transform="translate(140.40,553.60) rotate(0.05)" font-family="Liberation Sans" font-size="5.0" text-anchor="middle" fill="#333" stroke="#333" stroke-width="0.1">2</text>
<line x1="160.70" y1="546.90" x2="160.70" y2="548.50" stroke="#333" stroke-width="0.5"/>
<text transform="translate(160.70,553.60) rotate(0.05)" font-family="Liberation Sans" font-size="5.0" text-anchor="middle" fill="#333" stroke="#333" stroke-width="0.1">4</text>
<line x1="181.00" y1="546.90" x2="181.00" y2="548.50" stroke="#333" stroke-width="0.5"/>
<text transform="translate(181.00,553.60) rotate(0.05)" font-family="Liberation Sans" font-size="5.0" text-anchor="middle" fill="#333" stroke="#333" stroke-width="0.1">6</text>
<line x1="201.30" y1="546.90" x2="201.30" y2="548.50" stroke="#333" stroke-width="0.5"/>
<text transform="translate(201.30,553.60) rotate(0.05)" font-family="Liberation Sans" font-size="5.0" text-anchor="middle" fill="#333" stroke="#333" stroke-width="0.1">8</text>
<line x1="221.60" y1="546.90" x2="221.60" y2="548.50" stroke="#333" stroke-width="0.5"/>
<text transform="translate(221.60,553.60) rotate(0.05)" font-family="Liberation Sans" font-size="5.0" text-anchor="middle" fill="#333" stroke="#333" stroke-width="0.1">10</text>
<text transform="translate(148.05,306.20) scale(1.15,1) rotate(0.05)" font-family="Liberation Sans" font-size="6.05" text-anchor="middle" fill="#000" font-weight="bold">Health versus Mild</text>
<text transform="translate(148.05,561.00) scale(1.15,1) rotate(0.05)" font-family="Liberation Sans" font-size="5.4" text-anchor="middle" fill="#000" font-weight="bold">log2FC</text>
<text transform="translate(6.40,428.70) rotate(-90)" font-family="Liberation Sans" font-size="6.6" text-anchor="middle" fill="#000" font-weight="bold">Variables</text>
<line x1="351.60" y1="313.00" x2="442.10" y2="313.00" stroke="#555" stroke-width="1.0"/>
<line x1="351.60" y1="317.73" x2="441.60" y2="317.73" stroke="#555" stroke-width="1.0"/>
<line x1="351.60" y1="322.45" x2="427.30" y2="322.45" stroke="#555" stroke-width="1.0"/>
<line x1="351.60" y1="327.18" x2="411.60" y2="327.18" stroke="#555" stroke-width="1.0"/>
<line x1="351.60" y1="331.91" x2="409.40" y2="331.91" stroke="#555" stroke-width="1.0"/>
<line x1="351.60" y1="336.63" x2="408.60" y2="336.63" stroke="#555" stroke-width="1.0"/>
<line x1="351.60" y1="341.36" x2="407.90" y2="341.36" stroke="#555" stroke-width="1.0"/>
<line x1="351.60" y1="346.09" x2="405.90" y2="346.09" stroke="#555" stroke-width="1.0"/>
<line x1="351.60" y1="350.82" x2="403.40" y2="350.82" stroke="#555" stroke-width="1.0"/>
<line x1="351.60" y1="355.54" x2="402.20" y2="355.54" stroke="#555" stroke-width="1.0"/>
<line x1="351.60" y1="360.27" x2="401.70" y2="360.27" stroke="#555" stroke-width="1.0"/>
<line x1="351.60" y1="365.00" x2="400.20" y2="365.00" stroke="#555" stroke-width="1.0"/>
<line x1="351.60" y1="369.72" x2="397.50" y2="369.72" stroke="#555" stroke-width="1.0"/>
<line x1="351.60" y1="374.45" x2="307.40" y2="374.45" stroke="#555" stroke-width="1.0"/>
<line x1="351.60" y1="379.18" x2="310.40" y2="379.18" stroke="#555" stroke-width="1.0"/>
<line x1="351.60" y1="383.90" x2="310.40" y2="383.90" stroke="#555" stroke-width="1.0"/>
<line x1="351.60" y1="388.63" x2="390.50" y2="388.63" stroke="#555" stroke-width="1.0"/>
<line x1="351.60" y1="393.36" x2="312.80" y2="393.36" stroke="#555" stroke-width="1.0"/>
<line x1="351.60" y1="398.09" x2="312.80" y2="398.09" stroke="#555" stroke-width="1.0"/>
<line x1="351.60" y1="402.81" x2="389.00" y2="402.81" stroke="#555" stroke-width="1.0"/>
<line x1="351.60" y1="407.54" x2="388.50" y2="407.54" stroke="#555" stroke-width="1.0"/>
<line x1="351.60" y1="412.27" x2="314.60" y2="412.27" stroke="#555" stroke-width="1.0"/>
<line x1="351.60" y1="416.99" x2="387.80" y2="416.99" stroke="#555" stroke-width="1.0"/>
<line x1="351.60" y1="421.72" x2="316.30" y2="421.72" stroke="#555" stroke-width="1.0"/>
<line x1="351.60" y1="426.45" x2="316.30" y2="426.45" stroke="#555" stroke-width="1.0"/>
<line x1="351.60" y1="431.18" x2="316.30" y2="431.18" stroke="#555" stroke-width="1.0"/>
<line x1="351.60" y1="435.90" x2="386.50" y2="435.90" stroke="#555" stroke-width="1.0"/>
<line x1="351.60" y1="440.63" x2="318.00" y2="440.63" stroke="#555" stroke-width="1.0"/>
<line x1="351.60" y1="445.36" x2="318.00" y2="445.36" stroke="#555" stroke-width="1.0"/>
<line x1="351.60" y1="450.08" x2="318.00" y2="450.08" stroke="#555" stroke-width="1.0"/>
<line x1="351.60" y1="454.81" x2="318.00" y2="454.81" stroke="#555" stroke-width="1.0"/>
<line x1="351.60" y1="459.54" x2="384.10" y2="459.54" stroke="#555" stroke-width="1.0"/>
<line x1="351.60" y1="464.26" x2="319.30" y2="464.26" stroke="#555" stroke-width="1.0"/>
<line x1="351.60" y1="468.99" x2="319.30" y2="468.99" stroke="#555" stroke-width="1.0"/>
<line x1="351.60" y1="473.72" x2="319.30" y2="473.72" stroke="#555" stroke-width="1.0"/>
<line x1="351.60" y1="478.45" x2="320.50" y2="478.45" stroke="#555" stroke-width="1.0"/>
<line x1="351.60" y1="483.17" x2="320.50" y2="483.17" stroke="#555" stroke-width="1.0"/>
<line x1="351.60" y1="487.90" x2="320.50" y2="487.90" stroke="#555" stroke-width="1.0"/>
<line x1="351.60" y1="492.63" x2="320.50" y2="492.63" stroke="#555" stroke-width="1.0"/>
<line x1="351.60" y1="497.35" x2="320.50" y2="497.35" stroke="#555" stroke-width="1.0"/>
<line x1="351.60" y1="502.08" x2="320.50" y2="502.08" stroke="#555" stroke-width="1.0"/>
<line x1="351.60" y1="506.81" x2="382.30" y2="506.81" stroke="#555" stroke-width="1.0"/>
<line x1="351.60" y1="511.53" x2="321.80" y2="511.53" stroke="#555" stroke-width="1.0"/>
<line x1="351.60" y1="516.26" x2="321.80" y2="516.26" stroke="#555" stroke-width="1.0"/>
<line x1="351.60" y1="520.99" x2="321.80" y2="520.99" stroke="#555" stroke-width="1.0"/>
<line x1="351.60" y1="525.72" x2="321.80" y2="525.72" stroke="#555" stroke-width="1.0"/>
<line x1="351.60" y1="530.44" x2="321.80" y2="530.44" stroke="#555" stroke-width="1.0"/>
<line x1="351.60" y1="535.17" x2="321.80" y2="535.17" stroke="#555" stroke-width="1.0"/>
<line x1="351.60" y1="539.90" x2="381.10" y2="539.90" stroke="#555" stroke-width="1.0"/>
<line x1="351.60" y1="544.62" x2="381.10" y2="544.62" stroke="#555" stroke-width="1.0"/>
<circle cx="442.10" cy="313.00" r="1.55" fill="#e8111b" stroke="#7a0000" stroke-width="0.45"/>
<circle cx="441.60" cy="317.73" r="1.55" fill="#e8111b" stroke="#7a0000" stroke-width="0.45"/>
<circle cx="427.30" cy="322.45" r="1.55" fill="#e8111b" stroke="#7a0000" stroke-width="0.45"/>
<circle cx="411.60" cy="327.18" r="1.55" fill="#e8111b" stroke="#7a0000" stroke-width="0.45"/>
<circle cx="409.40" cy="331.91" r="1.55" fill="#e8111b" stroke="#7a0000" stroke-width="0.45"/>
<circle cx="408.60" cy="336.63" r="1.55" fill="#e8111b" stroke="#7a0000" stroke-width="0.45"/>
<circle cx="407.90" cy="341.36" r="1.55" fill="#e8111b" stroke="#7a0000" stroke-width="0.45"/>
<circle cx="405.90" cy="346.09" r="1.55" fill="#e8111b" stroke="#7a0000" stroke-width="0.45"/>
<circle cx="403.40" cy="350.82" r="1.55" fill="#e8111b" stroke="#7a0000" stroke-width="0.45"/>
<circle cx="402.20" cy="355.54" r="1.55" fill="#e8111b" stroke="#7a0000" stroke-width="0.45"/>
<circle cx="401.70" cy="360.27" r="1.55" fill="#e8111b" stroke="#7a0000" stroke-width="0.45"/>
<circle cx="400.20" cy="365.00" r="1.55" fill="#e8111b" stroke="#7a0000" stroke-width="0.45"/>
<circle cx="397.50" cy="369.72" r="1.55" fill="#e8111b" stroke="#7a0000" stroke-width="0.45"/>
<circle cx="307.40" cy="374.45" r="1.55" fill="#2c3e92" stroke="#14204f" stroke-width="0.45"/>
<circle cx="310.40" cy="379.18" r="1.55" fill="#2c3e92" stroke="#14204f" stroke-width="0.45"/>
<circle cx="310.40" cy="383.90" r="1.55" fill="#2c3e92" stroke="#14204f" stroke-width="0.45"/>
<circle cx="390.50" cy="388.63" r="1.55" fill="#e8111b" stroke="#7a0000" stroke-width="0.45"/>
<circle cx="312.80" cy="393.36" r="1.55" fill="#2c3e92" stroke="#14204f" stroke-width="0.45"/>
<circle cx="312.80" cy="398.09" r="1.55" fill="#2c3e92" stroke="#14204f" stroke-width="0.45"/>
<circle cx="389.00" cy="402.81" r="1.55" fill="#e8111b" stroke="#7a0000" stroke-width="0.45"/>
<circle cx="388.50" cy="407.54" r="1.55" fill="#e8111b" stroke="#7a0000" stroke-width="0.45"/>
<circle cx="314.60" cy="412.27" r="1.55" fill="#2c3e92" stroke="#14204f" stroke-width="0.45"/>
<circle cx="387.80" cy="416.99" r="1.55" fill="#e8111b" stroke="#7a0000" stroke-width="0.45"/>
<circle cx="316.30" cy="421.72" r="1.55" fill="#2c3e92" stroke="#14204f" stroke-width="0.45"/>
<circle cx="316.30" cy="426.45" r="1.55" fill="#2c3e92" stroke="#14204f" stroke-width="0.45"/>
<circle cx="316.30" cy="431.18" r="1.55" fill="#2c3e92" stroke="#14204f" stroke-width="0.45"/>
<circle cx="386.50" cy="435.90" r="1.55" fill="#e8111b" stroke="#7a0000" stroke-width="0.45"/>
<circle cx="318.00" cy="440.63" r="1.55" fill="#2c3e92" stroke="#14204f" stroke-width="0.45"/>
<circle cx="318.00" cy="445.36" r="1.55" fill="#2c3e92" stroke="#14204f" stroke-width="0.45"/>
<circle cx="318.00" cy="450.08" r="1.55" fill="#2c3e92" stroke="#14204f" stroke-width="0.45"/>
<circle cx="318.00" cy="454.81" r="1.55" fill="#2c3e92" stroke="#14204f" stroke-width="0.45"/>
<circle cx="384.10" cy="459.54" r="1.55" fill="#e8111b" stroke="#7a0000" stroke-width="0.45"/>
<circle cx="319.30" cy="464.26" r="1.55" fill="#2c3e92" stroke="#14204f" stroke-width="0.45"/>
<circle cx="319.30" cy="468.99" r="1.55" fill="#2c3e92" stroke="#14204f" stroke-width="0.45"/>
<circle cx="319.30" cy="473.72" r="1.55" fill="#2c3e92" stroke="#14204f" stroke-width="0.45"/>
<circle cx="320.50" cy="478.45" r="1.55" fill="#2c3e92" stroke="#14204f" stroke-width="0.45"/>
<circle cx="320.50" cy="483.17" r="1.55" fill="#2c3e92" stroke="#14204f" stroke-width="0.45"/>
<circle cx="320.50" cy="487.90" r="1.55" fill="#2c3e92" stroke="#14204f" stroke-width="0.45"/>
<circle cx="320.50" cy="492.63" r="1.55" fill="#2c3e92" stroke="#14204f" stroke-width="0.45"/>
<circle cx="320.50" cy="497.35" r="1.55" fill="#2c3e92" stroke="#14204f" stroke-width="0.45"/>
<circle cx="320.50" cy="502.08" r="1.55" fill="#2c3e92" stroke="#14204f" stroke-width="0.45"/>
<circle cx="382.30" cy="506.81" r="1.55" fill="#e8111b" stroke="#7a0000" stroke-width="0.45"/>
<circle cx="321.80" cy="511.53" r="1.55" fill="#2c3e92" stroke="#14204f" stroke-width="0.45"/>
<circle cx="321.80" cy="516.26" r="1.55" fill="#2c3e92" stroke="#14204f" stroke-width="0.45"/>
<circle cx="321.80" cy="520.99" r="1.55" fill="#2c3e92" stroke="#14204f" stroke-width="0.45"/>
<circle cx="321.80" cy="525.72" r="1.55" fill="#2c3e92" stroke="#14204f" stroke-width="0.45"/>
<circle cx="321.80" cy="530.44" r="1.55" fill="#2c3e92" stroke="#14204f" stroke-width="0.45"/>
<circle cx="321.80" cy="535.17" r="1.55" fill="#2c3e92" stroke="#14204f" stroke-width="0.45"/>
<circle cx="381.10" cy="539.90" r="1.55" fill="#e8111b" stroke="#7a0000" stroke-width="0.45"/>
<circle cx="381.10" cy="544.62" r="1.55" fill="#e8111b" stroke="#7a0000" stroke-width="0.45"/>
<rect x="298.9" y="310.4" width="161.0" height="236.5" fill="none" stroke="#444" stroke-width="0.9"/>
<line x1="297.30" y1="313.00" x2="298.90" y2="313.00" stroke="#333" stroke-width="0.5"/>
<text transform="translate(296.10,315.20) rotate(0.05)" font-family="Liberation Sans" font-size="4.8" text-anchor="end" fill="#1a1a1a" stroke="#1a1a1a" stroke-width="0.16">TG(19:1_12:3_12:4)</text>
<line x1="297.30" y1="317.73" x2="298.90" y2="317.73" stroke="#333" stroke-width="0.5"/>
<text transform="translate(296.10,319.93) rotate(0.05)" font-family="Liberation Sans" font-size="4.8" text-anchor="end" fill="#1a1a1a" stroke="#1a1a1a" stroke-width="0.16">TG(19:1_18:0_12:4)</text>
<line x1="297.30" y1="322.45" x2="298.90" y2="322.45" stroke="#333" stroke-width="0.5"/>
<text transform="translate(296.10,324.65) rotate(0.05)" font-family="Liberation Sans" font-size="4.8" text-anchor="end" fill="#1a1a1a" stroke="#1a1a1a" stroke-width="0.16">TG(4:0_6:0_10:1)</text>
<line x1="297.30" y1="327.18" x2="298.90" y2="327.18" stroke="#333" stroke-width="0.5"/>
<text transform="translate(296.10,329.38) rotate(0.05)" font-family="Liberation Sans" font-size="4.8" text-anchor="end" fill="#1a1a1a" stroke="#1a1a1a" stroke-width="0.16">TG(9:0_22:6_22:6)</text>
<line x1="297.30" y1="331.91" x2="298.90" y2="331.91" stroke="#333" stroke-width="0.5"/>
<text transform="translate(296.10,334.11) rotate(0.05)" font-family="Liberation Sans" font-size="4.8" text-anchor="end" fill="#1a1a1a" stroke="#1a1a1a" stroke-width="0.16">TG(21:0_10:4_11:2)</text>
<line x1="297.30" y1="336.63" x2="298.90" y2="336.63" stroke="#333" stroke-width="0.5"/>
<text transform="translate(296.10,338.83) rotate(0.05)" font-family="Liberation Sans" font-size="4.8" text-anchor="end" fill="#1a1a1a" stroke="#1a1a1a" stroke-width="0.16">SM(d18:2_20:4)</text>
<line x1="297.30" y1="341.36" x2="298.90" y2="341.36" stroke="#333" stroke-width="0.5"/>
<text transform="translate(296.10,343.56) rotate(0.05)" font-family="Liberation Sans" font-size="4.8" text-anchor="end" fill="#1a1a1a" stroke="#1a1a1a" stroke-width="0.16">TG(6:0_8:0_9:0)</text>
<line x1="297.30" y1="346.09" x2="298.90" y2="346.09" stroke="#333" stroke-width="0.5"/>
<text transform="translate(296.10,348.29) rotate(0.05)" font-family="Liberation Sans" font-size="4.8" text-anchor="end" fill="#1a1a1a" stroke="#1a1a1a" stroke-width="0.16">TG(22:6_10:4_17:1)</text>
<line x1="297.30" y1="350.82" x2="298.90" y2="350.82" stroke="#333" stroke-width="0.5"/>
<text transform="translate(296.10,353.02) rotate(0.05)" font-family="Liberation Sans" font-size="4.8" text-anchor="end" fill="#1a1a1a" stroke="#1a1a1a" stroke-width="0.16">TG(20:3_22:6_22:6)</text>
<line x1="297.30" y1="355.54" x2="298.90" y2="355.54" stroke="#333" stroke-width="0.5"/>
<text transform="translate(296.10,357.74) rotate(0.05)" font-family="Liberation Sans" font-size="4.8" text-anchor="end" fill="#1a1a1a" stroke="#1a1a1a" stroke-width="0.16">TG(20:3e_11:2_12:3)</text>
<line x1="297.30" y1="360.27" x2="298.90" y2="360.27" stroke="#333" stroke-width="0.5"/>
<text transform="translate(296.10,362.47) rotate(0.05)" font-family="Liberation Sans" font-size="4.8" text-anchor="end" fill="#1a1a1a" stroke="#1a1a1a" stroke-width="0.16">TG(4:0_11:2_14:3)</text>
<line x1="297.30" y1="365.00" x2="298.90" y2="365.00" stroke="#333" stroke-width="0.5"/>
<text transform="translate(296.10,367.20) rotate(0.05)" font-family="Liberation Sans" font-size="4.8" text-anchor="end" fill="#1a1a1a" stroke="#1a1a1a" stroke-width="0.16">TG(22:6_11:2_14:1)</text>
<line x1="297.30" y1="369.72" x2="298.90" y2="369.72" stroke="#333" stroke-width="0.5"/>
<text transform="translate(296.10,371.92) rotate(0.05)" font-family="Liberation Sans" font-size="4.8" text-anchor="end" fill="#1a1a1a" stroke="#1a1a1a" stroke-width="0.16">TG(20:4e_12:4_12:4)</text>
<line x1="297.30" y1="374.45" x2="298.90" y2="374.45" stroke="#333" stroke-width="0.5"/>
<text transform="translate(296.10,376.65) rotate(0.05)" font-family="Liberation Sans" font-size="4.8" text-anchor="end" fill="#1a1a1a" stroke="#1a1a1a" stroke-width="0.16">PC(14:0e_6:0)</text>
<line x1="297.30" y1="379.18" x2="298.90" y2="379.18" stroke="#333" stroke-width="0.5"/>
<text transform="translate(296.10,381.38) rotate(0.05)" font-family="Liberation Sans" font-size="4.8" text-anchor="end" fill="#1a1a1a" stroke="#1a1a1a" stroke-width="0.16">DG(9:0_11:2)</text>
<line x1="297.30" y1="383.90" x2="298.90" y2="383.90" stroke="#333" stroke-width="0.5"/>
<text transform="translate(296.10,386.10) rotate(0.05)" font-family="Liberation Sans" font-size="4.8" text-anchor="end" fill="#1a1a1a" stroke="#1a1a1a" stroke-width="0.16">PC(10:0e_9:0)</text>
<line x1="297.30" y1="388.63" x2="298.90" y2="388.63" stroke="#333" stroke-width="0.5"/>
<text transform="translate(296.10,390.83) rotate(0.05)" font-family="Liberation Sans" font-size="4.8" text-anchor="end" fill="#1a1a1a" stroke="#1a1a1a" stroke-width="0.16">TG(4:0_6:0_10:2)</text>
<line x1="297.30" y1="393.36" x2="298.90" y2="393.36" stroke="#333" stroke-width="0.5"/>
<text transform="translate(296.10,395.56) rotate(0.05)" font-family="Liberation Sans" font-size="4.8" text-anchor="end" fill="#1a1a1a" stroke="#1a1a1a" stroke-width="0.16">AcCa(12:0)</text>
<line x1="297.30" y1="398.09" x2="298.90" y2="398.09" stroke="#333" stroke-width="0.5"/>
<text transform="translate(296.10,400.29) rotate(0.05)" font-family="Liberation Sans" font-size="4.8" text-anchor="end" fill="#1a1a1a" stroke="#1a1a1a" stroke-width="0.16">PC(14:1e_18:0)</text>
<line x1="297.30" y1="402.81" x2="298.90" y2="402.81" stroke="#333" stroke-width="0.5"/>
<text transform="translate(296.10,405.01) rotate(0.05)" font-family="Liberation Sans" font-size="4.8" text-anchor="end" fill="#1a1a1a" stroke="#1a1a1a" stroke-width="0.16">TG(4:0_8:0_9:0)</text>
<line x1="297.30" y1="407.54" x2="298.90" y2="407.54" stroke="#333" stroke-width="0.5"/>
<text transform="translate(296.10,409.74) rotate(0.05)" font-family="Liberation Sans" font-size="4.8" text-anchor="end" fill="#1a1a1a" stroke="#1a1a1a" stroke-width="0.16">Hex2Cer(m21:0_21:5)</text>
<line x1="297.30" y1="412.27" x2="298.90" y2="412.27" stroke="#333" stroke-width="0.5"/>
<text transform="translate(296.10,414.47) rotate(0.05)" font-family="Liberation Sans" font-size="4.8" text-anchor="end" fill="#1a1a1a" stroke="#1a1a1a" stroke-width="0.16">LPC(20:0)</text>
<line x1="297.30" y1="416.99" x2="298.90" y2="416.99" stroke="#333" stroke-width="0.5"/>
<text transform="translate(296.10,419.19) rotate(0.05)" font-family="Liberation Sans" font-size="4.8" text-anchor="end" fill="#1a1a1a" stroke="#1a1a1a" stroke-width="0.16">PE(16:0_20:4)</text>
<line x1="297.30" y1="421.72" x2="298.90" y2="421.72" stroke="#333" stroke-width="0.5"/>
<text transform="translate(296.10,423.92) rotate(0.05)" font-family="Liberation Sans" font-size="4.8" text-anchor="end" fill="#1a1a1a" stroke="#1a1a1a" stroke-width="0.16">LPC(17:0)</text>
<line x1="297.30" y1="426.45" x2="298.90" y2="426.45" stroke="#333" stroke-width="0.5"/>
<text transform="translate(296.10,428.65) rotate(0.05)" font-family="Liberation Sans" font-size="4.8" text-anchor="end" fill="#1a1a1a" stroke="#1a1a1a" stroke-width="0.16">PC(18:0e)</text>
<line x1="297.30" y1="431.18" x2="298.90" y2="431.18" stroke="#333" stroke-width="0.5"/>
<text transform="translate(296.10,433.38) rotate(0.05)" font-family="Liberation Sans" font-size="4.8" text-anchor="end" fill="#1a1a1a" stroke="#1a1a1a" stroke-width="0.16">PC(20:4_22:1)</text>
<line x1="297.30" y1="435.90" x2="298.90" y2="435.90" stroke="#333" stroke-width="0.5"/>
<text transform="translate(296.10,438.10) rotate(0.05)" font-family="Liberation Sans" font-size="4.8" text-anchor="end" fill="#1a1a1a" stroke="#1a1a1a" stroke-width="0.16">SM(d18:1_22:6)</text>
<line x1="297.30" y1="440.63" x2="298.90" y2="440.63" stroke="#333" stroke-width="0.5"/>
<text transform="translate(296.10,442.83) rotate(0.05)" font-family="Liberation Sans" font-size="4.8" text-anchor="end" fill="#1a1a1a" stroke="#1a1a1a" stroke-width="0.16">LPC(18:2e)</text>
<line x1="297.30" y1="445.36" x2="298.90" y2="445.36" stroke="#333" stroke-width="0.5"/>
<text transform="translate(296.10,447.56) rotate(0.05)" font-family="Liberation Sans" font-size="4.8" text-anchor="end" fill="#1a1a1a" stroke="#1a1a1a" stroke-width="0.16">LPC(18:1)</text>
<line x1="297.30" y1="450.08" x2="298.90" y2="450.08" stroke="#333" stroke-width="0.5"/>
<text transform="translate(296.10,452.28) rotate(0.05)" font-family="Liberation Sans" font-size="4.8" text-anchor="end" fill="#1a1a1a" stroke="#1a1a1a" stroke-width="0.16">LPC(22:1)</text>
<line x1="297.30" y1="454.81" x2="298.90" y2="454.81" stroke="#333" stroke-width="0.5"/>
<text transform="translate(296.10,457.01) rotate(0.05)" font-family="Liberation Sans" font-size="4.8" text-anchor="end" fill="#1a1a1a" stroke="#1a1a1a" stroke-width="0.16">PC(18:3_20:5)</text>
<line x1="297.30" y1="459.54" x2="298.90" y2="459.54" stroke="#333" stroke-width="0.5"/>
<text transform="translate(296.10,461.74) rotate(0.05)" font-family="Liberation Sans" font-size="4.8" text-anchor="end" fill="#1a1a1a" stroke="#1a1a1a" stroke-width="0.16">Hex2Cer(d15:1_16:1+O)</text>
<line x1="297.30" y1="464.26" x2="298.90" y2="464.26" stroke="#333" stroke-width="0.5"/>
<text transform="translate(296.10,466.46) rotate(0.05)" font-family="Liberation Sans" font-size="4.8" text-anchor="end" fill="#1a1a1a" stroke="#1a1a1a" stroke-width="0.16">Cer(d18:1_26:5)</text>
<line x1="297.30" y1="468.99" x2="298.90" y2="468.99" stroke="#333" stroke-width="0.5"/>
<text transform="translate(296.10,471.19) rotate(0.05)" font-family="Liberation Sans" font-size="4.8" text-anchor="end" fill="#1a1a1a" stroke="#1a1a1a" stroke-width="0.16">LPC(17:1)</text>
<line x1="297.30" y1="473.72" x2="298.90" y2="473.72" stroke="#333" stroke-width="0.5"/>
<text transform="translate(296.10,475.92) rotate(0.05)" font-family="Liberation Sans" font-size="4.8" text-anchor="end" fill="#1a1a1a" stroke="#1a1a1a" stroke-width="0.16">PC(8:1e_8:0)</text>
<line x1="297.30" y1="478.45" x2="298.90" y2="478.45" stroke="#333" stroke-width="0.5"/>
<text transform="translate(296.10,480.65) rotate(0.05)" font-family="Liberation Sans" font-size="4.8" text-anchor="end" fill="#1a1a1a" stroke="#1a1a1a" stroke-width="0.16">LPC(18:0e)</text>
<line x1="297.30" y1="483.17" x2="298.90" y2="483.17" stroke="#333" stroke-width="0.5"/>
<text transform="translate(296.10,485.37) rotate(0.05)" font-family="Liberation Sans" font-size="4.8" text-anchor="end" fill="#1a1a1a" stroke="#1a1a1a" stroke-width="0.16">LPC(24:0)</text>
<line x1="297.30" y1="487.90" x2="298.90" y2="487.90" stroke="#333" stroke-width="0.5"/>
<text transform="translate(296.10,490.10) rotate(0.05)" font-family="Liberation Sans" font-size="4.8" text-anchor="end" fill="#1a1a1a" stroke="#1a1a1a" stroke-width="0.16">PC(18:3_20:2)</text>
<line x1="297.30" y1="492.63" x2="298.90" y2="492.63" stroke="#333" stroke-width="0.5"/>
<text transform="translate(296.10,494.83) rotate(0.05)" font-family="Liberation Sans" font-size="4.8" text-anchor="end" fill="#1a1a1a" stroke="#1a1a1a" stroke-width="0.16">PC(20:4e_24:0)</text>
<line x1="297.30" y1="497.35" x2="298.90" y2="497.35" stroke="#333" stroke-width="0.5"/>
<text transform="translate(296.10,499.55) rotate(0.05)" font-family="Liberation Sans" font-size="4.8" text-anchor="end" fill="#1a1a1a" stroke="#1a1a1a" stroke-width="0.16">PC(24:1_18:2)</text>
<line x1="297.30" y1="502.08" x2="298.90" y2="502.08" stroke="#333" stroke-width="0.5"/>
<text transform="translate(296.10,504.28) rotate(0.05)" font-family="Liberation Sans" font-size="4.8" text-anchor="end" fill="#1a1a1a" stroke="#1a1a1a" stroke-width="0.16">PC(8:0e_15:0)</text>
<line x1="297.30" y1="506.81" x2="298.90" y2="506.81" stroke="#333" stroke-width="0.5"/>
<text transform="translate(296.10,509.01) rotate(0.05)" font-family="Liberation Sans" font-size="4.8" text-anchor="end" fill="#1a1a1a" stroke="#1a1a1a" stroke-width="0.16">CL(22:6_20:4_18:0_20:0)</text>
<line x1="297.30" y1="511.53" x2="298.90" y2="511.53" stroke="#333" stroke-width="0.5"/>
<text transform="translate(296.10,513.73) rotate(0.05)" font-family="Liberation Sans" font-size="4.8" text-anchor="end" fill="#1a1a1a" stroke="#1a1a1a" stroke-width="0.16">LPC(15:0)</text>
<line x1="297.30" y1="516.26" x2="298.90" y2="516.26" stroke="#333" stroke-width="0.5"/>
<text transform="translate(296.10,518.46) rotate(0.05)" font-family="Liberation Sans" font-size="4.8" text-anchor="end" fill="#1a1a1a" stroke="#1a1a1a" stroke-width="0.16">LPC(16:1)</text>
<line x1="297.30" y1="520.99" x2="298.90" y2="520.99" stroke="#333" stroke-width="0.5"/>
<text transform="translate(296.10,523.19) rotate(0.05)" font-family="Liberation Sans" font-size="4.8" text-anchor="end" fill="#1a1a1a" stroke="#1a1a1a" stroke-width="0.16">PC(14:0_22:6)</text>
<line x1="297.30" y1="525.72" x2="298.90" y2="525.72" stroke="#333" stroke-width="0.5"/>
<text transform="translate(296.10,527.92) rotate(0.05)" font-family="Liberation Sans" font-size="4.8" text-anchor="end" fill="#1a1a1a" stroke="#1a1a1a" stroke-width="0.16">PC(17:0_18:2)</text>
<line x1="297.30" y1="530.44" x2="298.90" y2="530.44" stroke="#333" stroke-width="0.5"/>
<text transform="translate(296.10,532.64) rotate(0.05)" font-family="Liberation Sans" font-size="4.8" text-anchor="end" fill="#1a1a1a" stroke="#1a1a1a" stroke-width="0.16">PC(8:1e_12:0)</text>
<line x1="297.30" y1="535.17" x2="298.90" y2="535.17" stroke="#333" stroke-width="0.5"/>
<text transform="translate(296.10,537.37) rotate(0.05)" font-family="Liberation Sans" font-size="4.8" text-anchor="end" fill="#1a1a1a" stroke="#1a1a1a" stroke-width="0.16">PE(8:0e_12:0)</text>
<line x1="297.30" y1="539.90" x2="298.90" y2="539.90" stroke="#333" stroke-width="0.5"/>
<text transform="translate(296.10,542.10) rotate(0.05)" font-family="Liberation Sans" font-size="4.8" text-anchor="end" fill="#1a1a1a" stroke="#1a1a1a" stroke-width="0.16">ST(20:1_25:3)</text>
<line x1="297.30" y1="544.62" x2="298.90" y2="544.62" stroke="#333" stroke-width="0.5"/>
<text transform="translate(296.10,546.82) rotate(0.05)" font-family="Liberation Sans" font-size="4.8" text-anchor="end" fill="#1a1a1a" stroke="#1a1a1a" stroke-width="0.16">TG(20:3e_12:4_22:5)</text>
<line x1="311.12" y1="546.90" x2="311.12" y2="548.50" stroke="#333" stroke-width="0.5"/>
<text transform="translate(311.12,553.60) rotate(0.05)" font-family="Liberation Sans" font-size="5.0" text-anchor="middle" fill="#333" stroke="#333" stroke-width="0.1">-4</text>
<line x1="331.36" y1="546.90" x2="331.36" y2="548.50" stroke="#333" stroke-width="0.5"/>
<text transform="translate(331.36,553.60) rotate(0.05)" font-family="Liberation Sans" font-size="5.0" text-anchor="middle" fill="#333" stroke="#333" stroke-width="0.1">-2</text>
<line x1="351.60" y1="546.90" x2="351.60" y2="548.50" stroke="#333" stroke-width="0.5"/>
<text transform="translate(351.60,553.60) rotate(0.05)" font-family="Liberation Sans" font-size="5.0" text-anchor="middle" fill="#333" stroke="#333" stroke-width="0.1">0</text>
<line x1="371.84" y1="546.90" x2="371.84" y2="548.50" stroke="#333" stroke-width="0.5"/>
<text transform="translate(371.84,553.60) rotate(0.05)" font-family="Liberation Sans" font-size="5.0" text-anchor="middle" fill="#333" stroke="#333" stroke-width="0.1">2</text>
<line x1="392.08" y1="546.90" x2="392.08" y2="548.50" stroke="#333" stroke-width="0.5"/>
<text transform="translate(392.08,553.60) rotate(0.05)" font-family="Liberation Sans" font-size="5.0" text-anchor="middle" fill="#333" stroke="#333" stroke-width="0.1">4</text>
<line x1="412.32" y1="546.90" x2="412.32" y2="548.50" stroke="#333" stroke-width="0.5"/>
<text transform="translate(412.32,553.60) rotate(0.05)" font-family="Liberation Sans" font-size="5.0" text-anchor="middle" fill="#333" stroke="#333" stroke-width="0.1">6</text>
<line x1="432.56" y1="546.90" x2="432.56" y2="548.50" stroke="#333" stroke-width="0.5"/>
<text transform="translate(432.56,553.60) rotate(0.05)" font-family="Liberation Sans" font-size="5.0" text-anchor="middle" fill="#333" stroke="#333" stroke-width="0.1">8</text>
<line x1="452.80" y1="546.90" x2="452.80" y2="548.50" stroke="#333" stroke-width="0.5"/>
<text transform="translate(452.80,553.60) rotate(0.05)" font-family="Liberation Sans" font-size="5.0" text-anchor="middle" fill="#333" stroke="#333" stroke-width="0.1">10</text>
<text transform="translate(379.40,306.20) scale(1.15,1) rotate(0.05)" font-family="Liberation Sans" font-size="6.05" text-anchor="middle" fill="#000" font-weight="bold">Health versus Critical</text>
<text transform="translate(379.40,561.00) scale(1.15,1) rotate(0.05)" font-family="Liberation Sans" font-size="5.4" text-anchor="middle" fill="#000" font-weight="bold">log2FC</text>
<text transform="translate(238.30,428.70) rotate(-90)" font-family="Liberation Sans" font-size="6.6" text-anchor="middle" fill="#000" font-weight="bold">Variables</text>
<line x1="579.30" y1="324.20" x2="634.00" y2="324.20" stroke="#555" stroke-width="1.0"/>
<line x1="579.30" y1="347.47" x2="632.30" y2="347.47" stroke="#555" stroke-width="1.0"/>
<line x1="579.30" y1="370.74" x2="629.60" y2="370.74" stroke="#555" stroke-width="1.0"/>
<line x1="579.30" y1="394.01" x2="623.90" y2="394.01" stroke="#555" stroke-width="1.0"/>
<line x1="579.30" y1="417.28" x2="617.50" y2="417.28" stroke="#555" stroke-width="1.0"/>
<line x1="579.30" y1="440.55" x2="616.40" y2="440.55" stroke="#555" stroke-width="1.0"/>
<line x1="579.30" y1="463.82" x2="614.90" y2="463.82" stroke="#555" stroke-width="1.0"/>
<line x1="579.30" y1="487.09" x2="614.20" y2="487.09" stroke="#555" stroke-width="1.0"/>
<line x1="579.30" y1="510.36" x2="608.80" y2="510.36" stroke="#555" stroke-width="1.0"/>
<line x1="579.30" y1="533.63" x2="608.80" y2="533.63" stroke="#555" stroke-width="1.0"/>
<circle cx="634.00" cy="324.20" r="1.55" fill="#e8111b" stroke="#7a0000" stroke-width="0.45"/>
<circle cx="632.30" cy="347.47" r="1.55" fill="#e8111b" stroke="#7a0000" stroke-width="0.45"/>
<circle cx="629.60" cy="370.74" r="1.55" fill="#e8111b" stroke="#7a0000" stroke-width="0.45"/>
<circle cx="623.90" cy="394.01" r="1.55" fill="#e8111b" stroke="#7a0000" stroke-width="0.45"/>
<circle cx="617.50" cy="417.28" r="1.55" fill="#e8111b" stroke="#7a0000" stroke-width="0.45"/>
<circle cx="616.40" cy="440.55" r="1.55" fill="#e8111b" stroke="#7a0000" stroke-width="0.45"/>
<circle cx="614.90" cy="463.82" r="1.55" fill="#e8111b" stroke="#7a0000" stroke-width="0.45"/>
<circle cx="614.20" cy="487.09" r="1.55" fill="#e8111b" stroke="#7a0000" stroke-width="0.45"/>
<circle cx="608.80" cy="510.36" r="1.55" fill="#e8111b" stroke="#7a0000" stroke-width="0.45"/>
<circle cx="608.80" cy="533.63" r="1.55" fill="#e8111b" stroke="#7a0000" stroke-width="0.45"/>
<rect x="523.5" y="310.2" width="160.79999999999995" height="236.7" fill="none" stroke="#444" stroke-width="0.9"/>
<line x1="521.90" y1="324.20" x2="523.50" y2="324.20" stroke="#333" stroke-width="0.5"/>
<text transform="translate(520.70,326.40) rotate(0.05)" font-family="Liberation Sans" font-size="4.8" text-anchor="end" fill="#1a1a1a" stroke="#1a1a1a" stroke-width="0.16">TG(18:1_22:4_22:4)</text>
<line x1="521.90" y1="347.47" x2="523.50" y2="347.47" stroke="#333" stroke-width="0.5"/>
<text transform="translate(520.70,349.67) rotate(0.05)" font-family="Liberation Sans" font-size="4.8" text-anchor="end" fill="#1a1a1a" stroke="#1a1a1a" stroke-width="0.16">DG(18:2_20:4)</text>
<line x1="521.90" y1="370.74" x2="523.50" y2="370.74" stroke="#333" stroke-width="0.5"/>
<text transform="translate(520.70,372.94) rotate(0.05)" font-family="Liberation Sans" font-size="4.8" text-anchor="end" fill="#1a1a1a" stroke="#1a1a1a" stroke-width="0.16">TG(18:3_22:6_22:6)</text>
<line x1="521.90" y1="394.01" x2="523.50" y2="394.01" stroke="#333" stroke-width="0.5"/>
<text transform="translate(520.70,396.21) rotate(0.05)" font-family="Liberation Sans" font-size="4.8" text-anchor="end" fill="#1a1a1a" stroke="#1a1a1a" stroke-width="0.16">Hex2Cer(m19:0_23:3)</text>
<line x1="521.90" y1="417.28" x2="523.50" y2="417.28" stroke="#333" stroke-width="0.5"/>
<text transform="translate(520.70,419.48) rotate(0.05)" font-family="Liberation Sans" font-size="4.8" text-anchor="end" fill="#1a1a1a" stroke="#1a1a1a" stroke-width="0.16">Hex3Cer(d18:1_24:2)</text>
<line x1="521.90" y1="440.55" x2="523.50" y2="440.55" stroke="#333" stroke-width="0.5"/>
<text transform="translate(520.70,442.75) rotate(0.05)" font-family="Liberation Sans" font-size="4.8" text-anchor="end" fill="#1a1a1a" stroke="#1a1a1a" stroke-width="0.16">Hex3Cer(m19:0_23:3)</text>
<line x1="521.90" y1="463.82" x2="523.50" y2="463.82" stroke="#333" stroke-width="0.5"/>
<text transform="translate(520.70,466.02) rotate(0.05)" font-family="Liberation Sans" font-size="4.8" text-anchor="end" fill="#1a1a1a" stroke="#1a1a1a" stroke-width="0.16">Hex3Cer(d18:1_24:1)</text>
<line x1="521.90" y1="487.09" x2="523.50" y2="487.09" stroke="#333" stroke-width="0.5"/>
<text transform="translate(520.70,489.29) rotate(0.05)" font-family="Liberation Sans" font-size="4.8" text-anchor="end" fill="#1a1a1a" stroke="#1a1a1a" stroke-width="0.16">Cer(d18:0_22:6)</text>
<line x1="521.90" y1="510.36" x2="523.50" y2="510.36" stroke="#333" stroke-width="0.5"/>
<text transform="translate(520.70,512.56) rotate(0.05)" font-family="Liberation Sans" font-size="4.8" text-anchor="end" fill="#1a1a1a" stroke="#1a1a1a" stroke-width="0.16">Cer(d16:0_20:4)</text>
<line x1="521.90" y1="533.63" x2="523.50" y2="533.63" stroke="#333" stroke-width="0.5"/>
<text transform="translate(520.70,535.83) rotate(0.05)" font-family="Liberation Sans" font-size="4.8" text-anchor="end" fill="#1a1a1a" stroke="#1a1a1a" stroke-width="0.16">LPC(32:0)</text>
<line x1="530.40" y1="546.90" x2="530.40" y2="548.50" stroke="#333" stroke-width="0.5"/>
<text transform="translate(530.40,553.60) rotate(0.05)" font-family="Liberation Sans" font-size="5.0" text-anchor="middle" fill="#333" stroke="#333" stroke-width="0.1">-1</text>
<line x1="579.30" y1="546.90" x2="579.30" y2="548.50" stroke="#333" stroke-width="0.5"/>
<text transform="translate(579.30,553.60) rotate(0.05)" font-family="Liberation Sans" font-size="5.0" text-anchor="middle" fill="#333" stroke="#333" stroke-width="0.1">0</text>
<line x1="628.20" y1="546.90" x2="628.20" y2="548.50" stroke="#333" stroke-width="0.5"/>
<text transform="translate(628.20,553.60) rotate(0.05)" font-family="Liberation Sans" font-size="5.0" text-anchor="middle" fill="#333" stroke="#333" stroke-width="0.1">1</text>
<line x1="677.10" y1="546.90" x2="677.10" y2="548.50" stroke="#333" stroke-width="0.5"/>
<text transform="translate(677.10,553.60) rotate(0.05)" font-family="Liberation Sans" font-size="5.0" text-anchor="middle" fill="#333" stroke="#333" stroke-width="0.1">2</text>
<text transform="translate(603.90,306.20) scale(1.15,1) rotate(0.05)" font-family="Liberation Sans" font-size="6.05" text-anchor="middle" fill="#000" font-weight="bold">Mild versus Critical</text>
<text transform="translate(603.90,561.00) scale(1.15,1) rotate(0.05)" font-family="Liberation Sans" font-size="5.4" text-anchor="middle" fill="#000" font-weight="bold">log2FC</text>
<text transform="translate(470.00,428.70) rotate(-90)" font-family="Liberation Sans" font-size="6.6" text-anchor="middle" fill="#000" font-weight="bold">Variables</text>
<ellipse cx="207.2" cy="665.3" rx="59.3" ry="58.0" fill="none" stroke="#111" stroke-width="0.75"/>
<ellipse cx="177.7" cy="714.5" rx="59.3" ry="58.0" fill="none" stroke="#111" stroke-width="0.75"/>
<ellipse cx="236.5" cy="714.5" rx="59.3" ry="58.0" fill="none" stroke="#111" stroke-width="0.75"/>
<text transform="translate(193.90,585.00) rotate(0.05)" font-family="Liberation Sans" font-size="7.5" text-anchor="middle" fill="#000" font-weight="bold">VennDiagram</text>
<text transform="translate(207.00,597.80) rotate(0.05)" font-family="Liberation Sans" font-size="5.9" text-anchor="middle" fill="#111">H_C</text>
<text transform="translate(112.50,678.10) rotate(0.05)" font-family="Liberation Sans" font-size="5.9" text-anchor="middle" fill="#111">H_M</text>
<text transform="translate(302.00,678.10) rotate(0.05)" font-family="Liberation Sans" font-size="5.9" text-anchor="middle" fill="#111">M_C</text>
<text transform="translate(206.70,639.10) rotate(0.05)" font-family="Liberation Sans" font-size="5.9" text-anchor="middle" fill="#111">74</text>
<text transform="translate(169.00,687.60) rotate(0.05)" font-family="Liberation Sans" font-size="5.9" text-anchor="middle" fill="#111">300</text>
<text transform="translate(245.60,687.60) rotate(0.05)" font-family="Liberation Sans" font-size="5.9" text-anchor="middle" fill="#111">9</text>
<text transform="translate(207.30,695.90) rotate(0.05)" font-family="Liberation Sans" font-size="5.9" text-anchor="middle" fill="#111">1</text>
<text transform="translate(148.10,720.40) rotate(0.05)" font-family="Liberation Sans" font-size="5.9" text-anchor="middle" fill="#111">13</text>
<text transform="translate(266.20,720.40) rotate(0.05)" font-family="Liberation Sans" font-size="5.9" text-anchor="middle" fill="#111">0</text>
<text transform="translate(207.30,741.80) rotate(0.05)" font-family="Liberation Sans" font-size="5.9" text-anchor="middle" fill="#111">0</text>
<rect x="438" y="740" width="131" height="36" fill="#fafafa"/>
<circle cx="495.3" cy="658.9" r="36.75" fill="none" stroke="#cfcfcf" stroke-width="0.55"/>
<circle cx="495.3" cy="658.9" r="62.5" fill="none" stroke="#cfcfcf" stroke-width="0.55"/>
<line x1="495.30" y1="647.90" x2="495.30" y2="596.40" stroke="#d2d2d2" stroke-width="0.5"/>
<line x1="497.93" y1="648.22" x2="510.26" y2="598.22" stroke="#d2d2d2" stroke-width="0.5"/>
<line x1="500.41" y1="649.16" x2="524.35" y2="603.56" stroke="#d2d2d2" stroke-width="0.5"/>
<line x1="502.59" y1="650.67" x2="536.75" y2="612.12" stroke="#d2d2d2" stroke-width="0.5"/>
<line x1="504.35" y1="652.65" x2="546.74" y2="623.40" stroke="#d2d2d2" stroke-width="0.5"/>
<line x1="505.59" y1="655.00" x2="553.74" y2="636.74" stroke="#d2d2d2" stroke-width="0.5"/>
<line x1="506.22" y1="657.57" x2="557.34" y2="651.37" stroke="#d2d2d2" stroke-width="0.5"/>
<line x1="506.22" y1="660.23" x2="557.34" y2="666.43" stroke="#d2d2d2" stroke-width="0.5"/>
<line x1="505.59" y1="662.80" x2="553.74" y2="681.06" stroke="#d2d2d2" stroke-width="0.5"/>
<line x1="504.35" y1="665.15" x2="546.74" y2="694.40" stroke="#d2d2d2" stroke-width="0.5"/>
<line x1="502.59" y1="667.13" x2="536.75" y2="705.68" stroke="#d2d2d2" stroke-width="0.5"/>
<line x1="500.41" y1="668.64" x2="524.35" y2="714.24" stroke="#d2d2d2" stroke-width="0.5"/>
<line x1="497.93" y1="669.58" x2="510.26" y2="719.58" stroke="#d2d2d2" stroke-width="0.5"/>
<line x1="495.30" y1="669.90" x2="495.30" y2="721.40" stroke="#d2d2d2" stroke-width="0.5"/>
<line x1="492.67" y1="669.58" x2="480.34" y2="719.58" stroke="#d2d2d2" stroke-width="0.5"/>
<line x1="490.19" y1="668.64" x2="466.25" y2="714.24" stroke="#d2d2d2" stroke-width="0.5"/>
<line x1="488.01" y1="667.13" x2="453.85" y2="705.68" stroke="#d2d2d2" stroke-width="0.5"/>
<line x1="486.25" y1="665.15" x2="443.86" y2="694.40" stroke="#d2d2d2" stroke-width="0.5"/>
<line x1="485.01" y1="662.80" x2="436.86" y2="681.06" stroke="#d2d2d2" stroke-width="0.5"/>
<line x1="484.38" y1="660.23" x2="433.26" y2="666.43" stroke="#d2d2d2" stroke-width="0.5"/>
<line x1="484.38" y1="657.57" x2="433.26" y2="651.37" stroke="#d2d2d2" stroke-width="0.5"/>
<line x1="485.01" y1="655.00" x2="436.86" y2="636.74" stroke="#d2d2d2" stroke-width="0.5"/>
<line x1="486.25" y1="652.65" x2="443.86" y2="623.40" stroke="#d2d2d2" stroke-width="0.5"/>
<line x1="488.01" y1="650.67" x2="453.85" y2="612.12" stroke="#d2d2d2" stroke-width="0.5"/>
<line x1="490.19" y1="649.16" x2="466.25" y2="603.56" stroke="#d2d2d2" stroke-width="0.5"/>
<line x1="492.67" y1="648.22" x2="480.34" y2="598.22" stroke="#d2d2d2" stroke-width="0.5"/>
<polygon points="495.30,639.89 505.19,618.77 500.94,648.15 504.87,648.10 505.29,652.00 506.66,654.59 519.28,655.99 509.63,660.64 509.87,664.42 508.59,668.07 502.97,667.56 507.06,681.31 498.34,671.25 495.30,670.47 482.81,709.58 479.82,688.40 484.59,670.99 485.78,665.47 484.48,663.00 478.13,660.98 483.81,657.51 479.13,652.77 484.83,651.68 454.24,612.55 489.12,647.13 492.39,647.11" fill="none" stroke="#2b2b2b" stroke-width="1.1" stroke-linejoin="round"/>
<circle cx="495.30" cy="639.89" r="1.6" fill="#ffffff" stroke="#2b2b2b" stroke-width="0.75"/>
<circle cx="505.19" cy="618.77" r="1.6" fill="#ffffff" stroke="#2b2b2b" stroke-width="0.75"/>
<circle cx="500.94" cy="648.15" r="1.6" fill="#ffffff" stroke="#2b2b2b" stroke-width="0.75"/>
<circle cx="504.87" cy="648.10" r="1.6" fill="#ffffff" stroke="#2b2b2b" stroke-width="0.75"/>
<circle cx="505.29" cy="652.00" r="1.6" fill="#ffffff" stroke="#2b2b2b" stroke-width="0.75"/>
<circle cx="506.66" cy="654.59" r="1.6" fill="#ffffff" stroke="#2b2b2b" stroke-width="0.75"/>
<circle cx="519.28" cy="655.99" r="1.6" fill="#ffffff" stroke="#2b2b2b" stroke-width="0.75"/>
<circle cx="509.63" cy="660.64" r="1.6" fill="#ffffff" stroke="#2b2b2b" stroke-width="0.75"/>
<circle cx="509.87" cy="664.42" r="1.6" fill="#ffffff" stroke="#2b2b2b" stroke-width="0.75"/>
<circle cx="508.59" cy="668.07" r="1.6" fill="#ffffff" stroke="#2b2b2b" stroke-width="0.75"/>
<circle cx="502.97" cy="667.56" r="1.6" fill="#ffffff" stroke="#2b2b2b" stroke-width="0.75"/>
<circle cx="507.06" cy="681.31" r="1.6" fill="#ffffff" stroke="#2b2b2b" stroke-width="0.75"/>
<circle cx="498.34" cy="671.25" r="1.6" fill="#ffffff" stroke="#2b2b2b" stroke-width="0.75"/>
<circle cx="495.30" cy="670.47" r="1.6" fill="#ffffff" stroke="#2b2b2b" stroke-width="0.75"/>
<circle cx="482.81" cy="709.58" r="1.6" fill="#ffffff" stroke="#2b2b2b" stroke-width="0.75"/>
<circle cx="479.82" cy="688.40" r="1.6" fill="#ffffff" stroke="#2b2b2b" stroke-width="0.75"/>
<circle cx="484.59" cy="670.99" r="1.6" fill="#ffffff" stroke="#2b2b2b" stroke-width="0.75"/>
<circle cx="485.78" cy="665.47" r="1.6" fill="#ffffff" stroke="#2b2b2b" stroke-width="0.75"/>
<circle cx="484.48" cy="663.00" r="1.6" fill="#ffffff" stroke="#2b2b2b" stroke-width="0.75"/>
<circle cx="478.13" cy="660.98" r="1.6" fill="#ffffff" stroke="#2b2b2b" stroke-width="0.75"/>
<circle cx="483.81" cy="657.51" r="1.6" fill="#ffffff" stroke="#2b2b2b" stroke-width="0.75"/>
<circle cx="479.13" cy="652.77" r="1.6" fill="#ffffff" stroke="#2b2b2b" stroke-width="0.75"/>
<circle cx="484.83" cy="651.68" r="1.6" fill="#ffffff" stroke="#2b2b2b" stroke-width="0.75"/>
<circle cx="454.24" cy="612.55" r="1.6" fill="#ffffff" stroke="#2b2b2b" stroke-width="0.75"/>
<circle cx="489.12" cy="647.13" r="1.6" fill="#ffffff" stroke="#2b2b2b" stroke-width="0.75"/>
<circle cx="492.39" cy="647.11" r="1.6" fill="#ffffff" stroke="#2b2b2b" stroke-width="0.75"/>
<polygon points="495.30,647.90 500.26,638.77 500.68,648.65 502.59,650.67 504.35,652.65 505.59,655.00 511.33,656.95 510.76,660.78 510.03,664.48 508.97,668.33 502.78,667.35 500.94,669.65 498.14,670.41 495.30,669.90 490.20,679.58 482.08,684.09 486.87,668.42 486.25,665.15 485.01,662.80 477.85,661.02 484.38,657.57 480.36,653.23 483.23,650.57 457.08,615.76 488.43,645.82 492.67,648.22" fill="none" stroke="#ee1c24" stroke-width="1.1" stroke-linejoin="round"/>
<circle cx="495.30" cy="647.90" r="1.6" fill="#ffffff" stroke="#ee1c24" stroke-width="0.75"/>
<circle cx="500.26" cy="638.77" r="1.6" fill="#ffffff" stroke="#ee1c24" stroke-width="0.75"/>
<circle cx="500.68" cy="648.65" r="1.6" fill="#ffffff" stroke="#ee1c24" stroke-width="0.75"/>
<circle cx="502.59" cy="650.67" r="1.6" fill="#ffffff" stroke="#ee1c24" stroke-width="0.75"/>
<circle cx="504.35" cy="652.65" r="1.6" fill="#ffffff" stroke="#ee1c24" stroke-width="0.75"/>
<circle cx="505.59" cy="655.00" r="1.6" fill="#ffffff" stroke="#ee1c24" stroke-width="0.75"/>
<circle cx="511.33" cy="656.95" r="1.6" fill="#ffffff" stroke="#ee1c24" stroke-width="0.75"/>
<circle cx="510.76" cy="660.78" r="1.6" fill="#ffffff" stroke="#ee1c24" stroke-width="0.75"/>
<circle cx="510.03" cy="664.48" r="1.6" fill="#ffffff" stroke="#ee1c24" stroke-width="0.75"/>
<circle cx="508.97" cy="668.33" r="1.6" fill="#ffffff" stroke="#ee1c24" stroke-width="0.75"/>
<circle cx="502.78" cy="667.35" r="1.6" fill="#ffffff" stroke="#ee1c24" stroke-width="0.75"/>
<circle cx="500.94" cy="669.65" r="1.6" fill="#ffffff" stroke="#ee1c24" stroke-width="0.75"/>
<circle cx="498.14" cy="670.41" r="1.6" fill="#ffffff" stroke="#ee1c24" stroke-width="0.75"/>
<circle cx="495.30" cy="669.90" r="1.6" fill="#ffffff" stroke="#ee1c24" stroke-width="0.75"/>
<circle cx="490.20" cy="679.58" r="1.6" fill="#ffffff" stroke="#ee1c24" stroke-width="0.75"/>
<circle cx="482.08" cy="684.09" r="1.6" fill="#ffffff" stroke="#ee1c24" stroke-width="0.75"/>
<circle cx="486.87" cy="668.42" r="1.6" fill="#ffffff" stroke="#ee1c24" stroke-width="0.75"/>
<circle cx="486.25" cy="665.15" r="1.6" fill="#ffffff" stroke="#ee1c24" stroke-width="0.75"/>
<circle cx="485.01" cy="662.80" r="1.6" fill="#ffffff" stroke="#ee1c24" stroke-width="0.75"/>
<circle cx="477.85" cy="661.02" r="1.6" fill="#ffffff" stroke="#ee1c24" stroke-width="0.75"/>
<circle cx="484.38" cy="657.57" r="1.6" fill="#ffffff" stroke="#ee1c24" stroke-width="0.75"/>
<circle cx="480.36" cy="653.23" r="1.6" fill="#ffffff" stroke="#ee1c24" stroke-width="0.75"/>
<circle cx="483.23" cy="650.57" r="1.6" fill="#ffffff" stroke="#ee1c24" stroke-width="0.75"/>
<circle cx="457.08" cy="615.76" r="1.6" fill="#ffffff" stroke="#ee1c24" stroke-width="0.75"/>
<circle cx="488.43" cy="645.82" r="1.6" fill="#ffffff" stroke="#ee1c24" stroke-width="0.75"/>
<circle cx="492.67" cy="648.22" r="1.6" fill="#ffffff" stroke="#ee1c24" stroke-width="0.75"/>
<polygon points="495.30,640.18 502.79,628.50 500.68,648.65 504.87,648.10 505.29,652.00 507.08,654.43 513.32,656.71 506.79,660.29 506.66,663.21 504.82,665.47 503.35,667.99 507.06,681.31 498.41,671.52 495.30,670.47 485.14,700.14 487.26,674.21 485.73,669.70 485.78,665.47 484.48,663.00 483.81,660.29 483.24,657.44 482.71,654.13 485.78,652.33 485.73,648.10 489.39,647.64 492.46,647.39" fill="none" stroke="#4d6ef5" stroke-width="1.1" stroke-linejoin="round"/>
<circle cx="495.30" cy="640.18" r="1.6" fill="#8aa0f7" stroke="#4d6ef5" stroke-width="0.75"/>
<circle cx="502.79" cy="628.50" r="1.6" fill="#8aa0f7" stroke="#4d6ef5" stroke-width="0.75"/>
<circle cx="500.68" cy="648.65" r="1.6" fill="#8aa0f7" stroke="#4d6ef5" stroke-width="0.75"/>
<circle cx="504.87" cy="648.10" r="1.6" fill="#8aa0f7" stroke="#4d6ef5" stroke-width="0.75"/>
<circle cx="505.29" cy="652.00" r="1.6" fill="#8aa0f7" stroke="#4d6ef5" stroke-width="0.75"/>
<circle cx="507.08" cy="654.43" r="1.6" fill="#8aa0f7" stroke="#4d6ef5" stroke-width="0.75"/>
<circle cx="513.32" cy="656.71" r="1.6" fill="#8aa0f7" stroke="#4d6ef5" stroke-width="0.75"/>
<circle cx="506.79" cy="660.29" r="1.6" fill="#8aa0f7" stroke="#4d6ef5" stroke-width="0.75"/>
<circle cx="506.66" cy="663.21" r="1.6" fill="#8aa0f7" stroke="#4d6ef5" stroke-width="0.75"/>
<circle cx="504.82" cy="665.47" r="1.6" fill="#8aa0f7" stroke="#4d6ef5" stroke-width="0.75"/>
<circle cx="503.35" cy="667.99" r="1.6" fill="#8aa0f7" stroke="#4d6ef5" stroke-width="0.75"/>
<circle cx="507.06" cy="681.31" r="1.6" fill="#8aa0f7" stroke="#4d6ef5" stroke-width="0.75"/>
<circle cx="498.41" cy="671.52" r="1.6" fill="#8aa0f7" stroke="#4d6ef5" stroke-width="0.75"/>
<circle cx="495.30" cy="670.47" r="1.6" fill="#8aa0f7" stroke="#4d6ef5" stroke-width="0.75"/>
<circle cx="485.14" cy="700.14" r="1.6" fill="#8aa0f7" stroke="#4d6ef5" stroke-width="0.75"/>
<circle cx="487.26" cy="674.21" r="1.6" fill="#8aa0f7" stroke="#4d6ef5" stroke-width="0.75"/>
<circle cx="485.73" cy="669.70" r="1.6" fill="#8aa0f7" stroke="#4d6ef5" stroke-width="0.75"/>
<circle cx="485.78" cy="665.47" r="1.6" fill="#8aa0f7" stroke="#4d6ef5" stroke-width="0.75"/>
<circle cx="484.48" cy="663.00" r="1.6" fill="#8aa0f7" stroke="#4d6ef5" stroke-width="0.75"/>
<circle cx="483.81" cy="660.29" r="1.6" fill="#8aa0f7" stroke="#4d6ef5" stroke-width="0.75"/>
<circle cx="483.24" cy="657.44" r="1.6" fill="#8aa0f7" stroke="#4d6ef5" stroke-width="0.75"/>
<circle cx="482.71" cy="654.13" r="1.6" fill="#8aa0f7" stroke="#4d6ef5" stroke-width="0.75"/>
<circle cx="485.78" cy="652.33" r="1.6" fill="#8aa0f7" stroke="#4d6ef5" stroke-width="0.75"/>
<circle cx="485.73" cy="648.10" r="1.6" fill="#8aa0f7" stroke="#4d6ef5" stroke-width="0.75"/>
<circle cx="489.39" cy="647.64" r="1.6" fill="#8aa0f7" stroke="#4d6ef5" stroke-width="0.75"/>
<circle cx="492.46" cy="647.39" r="1.6" fill="#8aa0f7" stroke="#4d6ef5" stroke-width="0.75"/>
<text transform="translate(495.20,584.15) scale(0.87,1) rotate(0.05)" font-family="Liberation Sans" font-size="4.9" text-anchor="middle" fill="#111" stroke="#111" stroke-width="0.15">AcCa</text>
<text transform="translate(495.20,590.45) scale(0.87,1) rotate(0.05)" font-family="Liberation Sans" font-size="4.9" text-anchor="middle" fill="#111" stroke="#111" stroke-width="0.15">(14)</text>
<text transform="translate(516.60,585.85) scale(0.87,1) rotate(0.05)" font-family="Liberation Sans" font-size="4.9" text-anchor="middle" fill="#111" stroke="#111" stroke-width="0.15">Cer</text>
<text transform="translate(516.60,592.15) scale(0.87,1) rotate(0.05)" font-family="Liberation Sans" font-size="4.9" text-anchor="middle" fill="#111" stroke="#111" stroke-width="0.15">(53)</text>
<text transform="translate(534.60,592.55) scale(0.87,1) rotate(0.05)" font-family="Liberation Sans" font-size="4.9" text-anchor="middle" fill="#111" stroke="#111" stroke-width="0.15">CerP</text>
<text transform="translate(534.60,598.85) scale(0.87,1) rotate(0.05)" font-family="Liberation Sans" font-size="4.9" text-anchor="middle" fill="#111" stroke="#111" stroke-width="0.15">(2)</text>
<text transform="translate(544.40,602.65) scale(0.87,1) rotate(0.05)" font-family="Liberation Sans" font-size="4.9" text-anchor="start" fill="#111" stroke="#111" stroke-width="0.15">ChE</text>
<text transform="translate(544.40,608.95) scale(0.87,1) rotate(0.05)" font-family="Liberation Sans" font-size="4.9" text-anchor="start" fill="#111" stroke="#111" stroke-width="0.15">(6)</text>
<text transform="translate(555.90,615.95) scale(0.87,1) rotate(0.05)" font-family="Liberation Sans" font-size="4.9" text-anchor="start" fill="#111" stroke="#111" stroke-width="0.15">CL</text>
<text transform="translate(555.90,622.25) scale(0.87,1) rotate(0.05)" font-family="Liberation Sans" font-size="4.9" text-anchor="start" fill="#111" stroke="#111" stroke-width="0.15">(2)</text>
<text transform="translate(564.40,631.15) scale(0.87,1) rotate(0.05)" font-family="Liberation Sans" font-size="4.9" text-anchor="start" fill="#111" stroke="#111" stroke-width="0.15">Co</text>
<text transform="translate(564.40,637.45) scale(0.87,1) rotate(0.05)" font-family="Liberation Sans" font-size="4.9" text-anchor="start" fill="#111" stroke="#111" stroke-width="0.15">(2)</text>
<text transform="translate(569.10,648.45) scale(0.87,1) rotate(0.05)" font-family="Liberation Sans" font-size="4.9" text-anchor="start" fill="#111" stroke="#111" stroke-width="0.15">DG</text>
<text transform="translate(569.10,654.75) scale(0.87,1) rotate(0.05)" font-family="Liberation Sans" font-size="4.9" text-anchor="start" fill="#111" stroke="#111" stroke-width="0.15">(23)</text>
<text transform="translate(569.10,665.85) scale(0.87,1) rotate(0.05)" font-family="Liberation Sans" font-size="4.9" text-anchor="start" fill="#111" stroke="#111" stroke-width="0.15">Hex1Cer</text>
<text transform="translate(569.10,672.15) scale(0.87,1) rotate(0.05)" font-family="Liberation Sans" font-size="4.9" text-anchor="start" fill="#111" stroke="#111" stroke-width="0.15">(6)</text>
<text transform="translate(564.40,683.65) scale(0.87,1) rotate(0.05)" font-family="Liberation Sans" font-size="4.9" text-anchor="start" fill="#111" stroke="#111" stroke-width="0.15">Hex2Cer</text>
<text transform="translate(564.40,689.95) scale(0.87,1) rotate(0.05)" font-family="Liberation Sans" font-size="4.9" text-anchor="start" fill="#111" stroke="#111" stroke-width="0.15">(8)</text>
<text transform="translate(556.00,699.45) scale(0.87,1) rotate(0.05)" font-family="Liberation Sans" font-size="4.9" text-anchor="start" fill="#111" stroke="#111" stroke-width="0.15">Hex3Cer</text>
<text transform="translate(556.00,705.75) scale(0.87,1) rotate(0.05)" font-family="Liberation Sans" font-size="4.9" text-anchor="start" fill="#111" stroke="#111" stroke-width="0.15">(9)</text>
<text transform="translate(544.40,712.75) scale(0.87,1) rotate(0.05)" font-family="Liberation Sans" font-size="4.9" text-anchor="start" fill="#111" stroke="#111" stroke-width="0.15">LPA</text>
<text transform="translate(544.40,719.05) scale(0.87,1) rotate(0.05)" font-family="Liberation Sans" font-size="4.9" text-anchor="start" fill="#111" stroke="#111" stroke-width="0.15">(1)</text>
<text transform="translate(534.20,722.95) scale(0.87,1) rotate(0.05)" font-family="Liberation Sans" font-size="4.9" text-anchor="middle" fill="#111" stroke="#111" stroke-width="0.15">LPC</text>
<text transform="translate(534.20,729.25) scale(0.87,1) rotate(0.05)" font-family="Liberation Sans" font-size="4.9" text-anchor="middle" fill="#111" stroke="#111" stroke-width="0.15">(25)</text>
<text transform="translate(516.70,728.85) scale(0.87,1) rotate(0.05)" font-family="Liberation Sans" font-size="4.9" text-anchor="middle" fill="#111" stroke="#111" stroke-width="0.15">LPE</text>
<text transform="translate(516.70,735.15) scale(0.87,1) rotate(0.05)" font-family="Liberation Sans" font-size="4.9" text-anchor="middle" fill="#111" stroke="#111" stroke-width="0.15">(3)</text>
<text transform="translate(495.30,730.95) scale(0.87,1) rotate(0.05)" font-family="Liberation Sans" font-size="4.9" text-anchor="middle" fill="#111" stroke="#111" stroke-width="0.15">LPI</text>
<text transform="translate(495.30,737.25) scale(0.87,1) rotate(0.05)" font-family="Liberation Sans" font-size="4.9" text-anchor="middle" fill="#111" stroke="#111" stroke-width="0.15">(1)</text>
<text transform="translate(474.30,728.85) scale(0.87,1) rotate(0.05)" font-family="Liberation Sans" font-size="4.9" text-anchor="middle" fill="#111" stroke="#111" stroke-width="0.15">PC</text>
<text transform="translate(474.30,735.15) scale(0.87,1) rotate(0.05)" font-family="Liberation Sans" font-size="4.9" text-anchor="middle" fill="#111" stroke="#111" stroke-width="0.15">(72)</text>
<text transform="translate(457.80,722.95) scale(0.87,1) rotate(0.05)" font-family="Liberation Sans" font-size="4.9" text-anchor="middle" fill="#111" stroke="#111" stroke-width="0.15">PE</text>
<text transform="translate(457.80,729.25) scale(0.87,1) rotate(0.05)" font-family="Liberation Sans" font-size="4.9" text-anchor="middle" fill="#111" stroke="#111" stroke-width="0.15">(39)</text>
<text transform="translate(446.20,712.65) scale(0.87,1) rotate(0.05)" font-family="Liberation Sans" font-size="4.9" text-anchor="end" fill="#111" stroke="#111" stroke-width="0.15">PI</text>
<text transform="translate(446.20,718.95) scale(0.87,1) rotate(0.05)" font-family="Liberation Sans" font-size="4.9" text-anchor="end" fill="#111" stroke="#111" stroke-width="0.15">(9)</text>
<text transform="translate(435.00,699.15) scale(0.87,1) rotate(0.05)" font-family="Liberation Sans" font-size="4.9" text-anchor="end" fill="#111" stroke="#111" stroke-width="0.15">PIP</text>
<text transform="translate(435.00,705.45) scale(0.87,1) rotate(0.05)" font-family="Liberation Sans" font-size="4.9" text-anchor="end" fill="#111" stroke="#111" stroke-width="0.15">(1)</text>
<text transform="translate(426.30,683.65) scale(0.87,1) rotate(0.05)" font-family="Liberation Sans" font-size="4.9" text-anchor="end" fill="#111" stroke="#111" stroke-width="0.15">PIP2</text>
<text transform="translate(426.30,689.95) scale(0.87,1) rotate(0.05)" font-family="Liberation Sans" font-size="4.9" text-anchor="end" fill="#111" stroke="#111" stroke-width="0.15">(1)</text>
<text transform="translate(422.00,666.25) scale(0.87,1) rotate(0.05)" font-family="Liberation Sans" font-size="4.9" text-anchor="end" fill="#111" stroke="#111" stroke-width="0.15">PS</text>
<text transform="translate(422.00,672.55) scale(0.87,1) rotate(0.05)" font-family="Liberation Sans" font-size="4.9" text-anchor="end" fill="#111" stroke="#111" stroke-width="0.15">(11)</text>
<text transform="translate(422.00,648.75) scale(0.87,1) rotate(0.05)" font-family="Liberation Sans" font-size="4.9" text-anchor="end" fill="#111" stroke="#111" stroke-width="0.15">SiE</text>
<text transform="translate(422.00,655.05) scale(0.87,1) rotate(0.05)" font-family="Liberation Sans" font-size="4.9" text-anchor="end" fill="#111" stroke="#111" stroke-width="0.15">(1)</text>
<text transform="translate(426.30,631.45) scale(0.87,1) rotate(0.05)" font-family="Liberation Sans" font-size="4.9" text-anchor="end" fill="#111" stroke="#111" stroke-width="0.15">SM</text>
<text transform="translate(426.30,637.75) scale(0.87,1) rotate(0.05)" font-family="Liberation Sans" font-size="4.9" text-anchor="end" fill="#111" stroke="#111" stroke-width="0.15">(11)</text>
<text transform="translate(435.00,615.95) scale(0.87,1) rotate(0.05)" font-family="Liberation Sans" font-size="4.9" text-anchor="end" fill="#111" stroke="#111" stroke-width="0.15">ST</text>
<text transform="translate(435.00,622.25) scale(0.87,1) rotate(0.05)" font-family="Liberation Sans" font-size="4.9" text-anchor="end" fill="#111" stroke="#111" stroke-width="0.15">(3)</text>
<text transform="translate(446.60,602.35) scale(0.87,1) rotate(0.05)" font-family="Liberation Sans" font-size="4.9" text-anchor="end" fill="#111" stroke="#111" stroke-width="0.15">TG</text>
<text transform="translate(446.60,608.65) scale(0.87,1) rotate(0.05)" font-family="Liberation Sans" font-size="4.9" text-anchor="end" fill="#111" stroke="#111" stroke-width="0.15">(89)</text>
<text transform="translate(457.50,592.55) scale(0.87,1) rotate(0.05)" font-family="Liberation Sans" font-size="4.9" text-anchor="middle" fill="#111" stroke="#111" stroke-width="0.15">WE</text>
<text transform="translate(457.50,598.85) scale(0.87,1) rotate(0.05)" font-family="Liberation Sans" font-size="4.9" text-anchor="middle" fill="#111" stroke="#111" stroke-width="0.15">(4)</text>
<text transform="translate(474.50,585.75) scale(0.87,1) rotate(0.05)" font-family="Liberation Sans" font-size="4.9" text-anchor="middle" fill="#111" stroke="#111" stroke-width="0.15">ZyE</text>
<text transform="translate(474.50,592.05) scale(0.87,1) rotate(0.05)" font-family="Liberation Sans" font-size="4.9" text-anchor="middle" fill="#111" stroke="#111" stroke-width="0.15">(2)</text>
<text transform="translate(509.60,597.10) rotate(0.05)" font-family="Liberation Sans" font-size="5.6" text-anchor="middle" fill="#111" stroke="#111" stroke-width="0.1">90</text>
<text transform="translate(509.60,624.00) rotate(0.05)" font-family="Liberation Sans" font-size="5.6" text-anchor="middle" fill="#111" stroke="#111" stroke-width="0.1">45</text>
<line x1="446.30" y1="746.90" x2="456.60" y2="746.90" stroke="#555" stroke-width="0.7"/>
<circle cx="451.4" cy="746.9" r="0.8" fill="#555"/>
<text transform="translate(461.30,748.90) scale(0.94,1) rotate(0.05)" font-family="Liberation Sans" font-size="5.7" text-anchor="start" fill="#111" font-weight="bold">Total</text>
<line x1="446.30" y1="759.90" x2="456.60" y2="759.90" stroke="#4a6cf0" stroke-width="0.7"/>
<circle cx="451.4" cy="759.9" r="0.8" fill="#4a6cf0"/>
<text transform="translate(461.30,761.90) scale(0.94,1) rotate(0.05)" font-family="Liberation Sans" font-size="5.7" text-anchor="start" fill="#111" font-weight="bold">Decrease with the aggravation of SFTS</text>
<line x1="446.30" y1="772.40" x2="456.60" y2="772.40" stroke="#e0141e" stroke-width="0.7"/>
<circle cx="451.4" cy="772.4" r="0.8" fill="#e0141e"/>
<text transform="translate(461.30,774.40) scale(0.94,1) rotate(0.05)" font-family="Liberation Sans" font-size="5.7" text-anchor="start" fill="#111" font-weight="bold">Increase with the aggravation of SFTS</text>
</svg>
</body></html>
